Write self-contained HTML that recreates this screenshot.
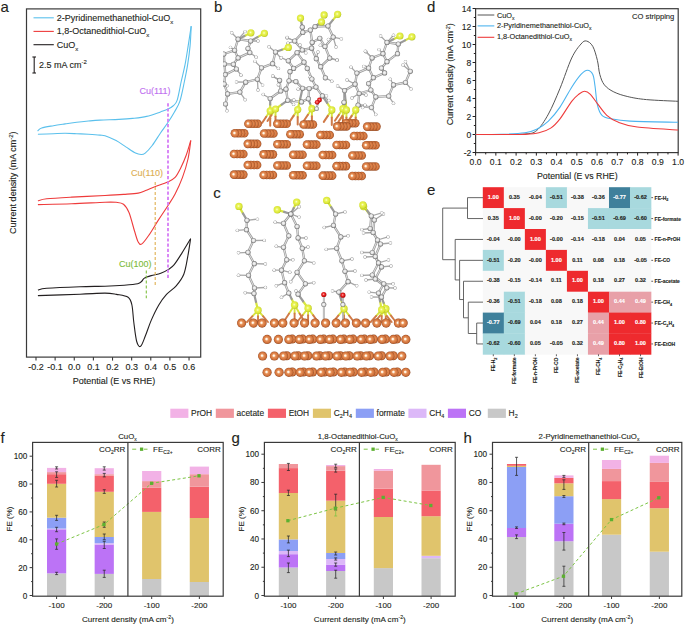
<!DOCTYPE html>
<html><head><meta charset="utf-8"><title>Figure</title>
<style>html,body{margin:0;padding:0;background:#fff;width:685px;height:624px;overflow:hidden}
svg{display:block}
text{font-family:"Liberation Sans", sans-serif}</style></head>
<body><svg width="685" height="624" viewBox="0 0 685 624">
<defs>
<radialGradient id="gCu" cx="0.5" cy="0.5" r="0.52" fx="0.42" fy="0.45">
  <stop offset="0" stop-color="#ffffff"/><stop offset="0.16" stop-color="#fff0dc"/><stop offset="0.38" stop-color="#e8935a"/><stop offset="0.78" stop-color="#cd6e38"/><stop offset="1" stop-color="#8a4520"/>
</radialGradient>
<radialGradient id="gS" cx="0.45" cy="0.45" r="0.6">
  <stop offset="0" stop-color="#fbffd8"/><stop offset="0.3" stop-color="#ebf55a"/><stop offset="0.75" stop-color="#d9e534"/><stop offset="1" stop-color="#a6b41c"/>
</radialGradient>
<radialGradient id="gC" cx="0.5" cy="0.5" r="0.5" fx="0.45" fy="0.45">
  <stop offset="0" stop-color="#f8f8f8"/><stop offset="0.5" stop-color="#e4e4e4"/><stop offset="0.75" stop-color="#a8a8a8"/><stop offset="1" stop-color="#6e6e6e"/>
</radialGradient>
<radialGradient id="gH" cx="0.5" cy="0.5" r="0.5" fx="0.45" fy="0.45">
  <stop offset="0" stop-color="#ffffff"/><stop offset="0.55" stop-color="#f6f6f6"/><stop offset="0.8" stop-color="#bcbcbc"/><stop offset="1" stop-color="#8a8a8a"/>
</radialGradient>
<radialGradient id="gO" cx="0.45" cy="0.45" r="0.6">
  <stop offset="0" stop-color="#ffb0b0"/><stop offset="0.4" stop-color="#f02828"/><stop offset="1" stop-color="#a00000"/>
</radialGradient>
</defs>
<rect width="685" height="624" fill="#fff"/>
<rect x="26.5" y="8.9" width="174.2" height="348.2" fill="none" stroke="#3a3a3a" stroke-width="1.2"/>
<line x1="36" y1="357.1" x2="36" y2="360.6" stroke="#3a3a3a" stroke-width="1.1" />
<text x="36" y="369.9" font-size="9" text-anchor="middle" fill="#231f20" font-weight="normal"  stroke="#231f20" stroke-width="0.12">-0.2</text>
<line x1="55.13" y1="357.1" x2="55.13" y2="360.6" stroke="#3a3a3a" stroke-width="1.1" />
<text x="55.13" y="369.9" font-size="9" text-anchor="middle" fill="#231f20" font-weight="normal"  stroke="#231f20" stroke-width="0.12">-0.1</text>
<line x1="74.26" y1="357.1" x2="74.26" y2="360.6" stroke="#3a3a3a" stroke-width="1.1" />
<text x="74.26" y="369.9" font-size="9" text-anchor="middle" fill="#231f20" font-weight="normal"  stroke="#231f20" stroke-width="0.12">0.0</text>
<line x1="93.39" y1="357.1" x2="93.39" y2="360.6" stroke="#3a3a3a" stroke-width="1.1" />
<text x="93.39" y="369.9" font-size="9" text-anchor="middle" fill="#231f20" font-weight="normal"  stroke="#231f20" stroke-width="0.12">0.1</text>
<line x1="112.52" y1="357.1" x2="112.52" y2="360.6" stroke="#3a3a3a" stroke-width="1.1" />
<text x="112.52" y="369.9" font-size="9" text-anchor="middle" fill="#231f20" font-weight="normal"  stroke="#231f20" stroke-width="0.12">0.2</text>
<line x1="131.65" y1="357.1" x2="131.65" y2="360.6" stroke="#3a3a3a" stroke-width="1.1" />
<text x="131.65" y="369.9" font-size="9" text-anchor="middle" fill="#231f20" font-weight="normal"  stroke="#231f20" stroke-width="0.12">0.3</text>
<line x1="150.78" y1="357.1" x2="150.78" y2="360.6" stroke="#3a3a3a" stroke-width="1.1" />
<text x="150.78" y="369.9" font-size="9" text-anchor="middle" fill="#231f20" font-weight="normal"  stroke="#231f20" stroke-width="0.12">0.4</text>
<line x1="169.91" y1="357.1" x2="169.91" y2="360.6" stroke="#3a3a3a" stroke-width="1.1" />
<text x="169.91" y="369.9" font-size="9" text-anchor="middle" fill="#231f20" font-weight="normal"  stroke="#231f20" stroke-width="0.12">0.5</text>
<line x1="189.04" y1="357.1" x2="189.04" y2="360.6" stroke="#3a3a3a" stroke-width="1.1" />
<text x="189.04" y="369.9" font-size="9" text-anchor="middle" fill="#231f20" font-weight="normal"  stroke="#231f20" stroke-width="0.12">0.6</text>
<text x="114" y="384" font-size="9" text-anchor="middle" fill="#231f20" font-weight="normal"  stroke="#231f20" stroke-width="0.12">Potential (E vs RHE)</text>
<text transform="translate(16.3,182.7) rotate(-90)" font-size="9" text-anchor="middle" fill="#231f20" stroke="#231f20" stroke-width="0.12">Current density (mA cm<tspan dy="-3" font-size="6">-2</tspan><tspan dy="3">)</tspan></text>
<line x1="33.5" y1="17.8" x2="53.8" y2="17.8" stroke="#5bc0ec" stroke-width="1.1" />
<line x1="33.5" y1="31.4" x2="53.8" y2="31.4" stroke="#ee3b3b" stroke-width="1.1" />
<line x1="33.5" y1="44.7" x2="53.8" y2="44.7" stroke="#231f20" stroke-width="1.1" />
<text x="56.8" y="20.9" font-size="9" fill="#231f20" stroke="#231f20" stroke-width="0.12">2-Pyridinemethanethiol-CuO<tspan dy="2.8" font-size="6">x</tspan></text>
<text x="56.8" y="34.2" font-size="9" fill="#231f20" stroke="#231f20" stroke-width="0.12">1,8-Octanedithiol-CuO<tspan dy="2.8" font-size="6">x</tspan></text>
<text x="56.8" y="47.7" font-size="9" fill="#231f20" stroke="#231f20" stroke-width="0.12">CuO<tspan dy="2.8" font-size="6">x</tspan></text>
<line x1="34.2" y1="57" x2="34.2" y2="73" stroke="#231f20" stroke-width="1.1" />
<line x1="32.4" y1="57" x2="36" y2="57" stroke="#231f20" stroke-width="1.1" />
<line x1="32.4" y1="73" x2="36" y2="73" stroke="#231f20" stroke-width="1.1" />
<text x="38.9" y="67.6" font-size="9" fill="#231f20" stroke="#231f20" stroke-width="0.12">2.5 mA cm<tspan dy="-3.3" font-size="6">-2</tspan></text>
<path d="M37.6,131 C38.28,130.5 39.07,128.88 41.7,128 C44.33,127.12 49.52,126.38 53.4,125.7 C57.28,125.02 61.12,124.48 65,123.9 C68.88,123.32 72.8,122.68 76.7,122.2 C80.6,121.72 84.52,121.35 88.4,121 C92.28,120.65 94.92,120.37 100,120.1 C105.08,119.83 113.45,119.68 118.9,119.4 C124.35,119.12 128.08,118.9 132.7,118.4 C137.32,117.9 141.97,117.48 146.6,116.4 C151.23,115.32 156.92,113.12 160.5,111.9 C164.08,110.68 166.02,110.08 168.1,109.1 C170.18,108.12 171.5,107.45 173,106 C174.5,104.55 175.73,104.48 177.1,100.4 C178.47,96.32 179.88,87.42 181.2,81.5 C182.52,75.58 183.83,70.88 185,64.9 C186.17,58.92 187.17,52.05 188.2,45.6 C189.23,39.15 190.7,29.43 191.2,26.2" fill="none" stroke="#5bc0ec" stroke-width="1.1" stroke-linejoin="round"/>
<path d="M191.2,26.2 C191.02,29.43 190.7,39.15 190.1,45.6 C189.5,52.05 188.55,58.92 187.6,64.9 C186.65,70.88 185.68,75.47 184.4,81.5 C183.12,87.53 181.58,95.98 179.9,101.1 C178.22,106.22 176.38,108.5 174.3,112.2 C172.22,115.9 169.7,119.83 167.4,123.3 C165.1,126.77 163.03,129.3 160.5,133 C157.97,136.7 154.75,142.15 152.2,145.5 C149.65,148.85 147.05,151.6 145.2,153.1 C143.35,154.6 142.72,154.5 141.1,154.5 C139.48,154.5 138.05,154.37 135.5,153.1 C132.95,151.83 129.03,148.98 125.8,146.9 C122.57,144.82 119.57,142.45 116.1,140.6 C112.63,138.75 107.68,136.72 105,135.8 C102.32,134.88 102.77,135.35 100,135.1 C97.23,134.85 92.28,134.53 88.4,134.3 C84.52,134.07 80.6,133.87 76.7,133.7 C72.8,133.53 68.88,133.3 65,133.3 C61.12,133.3 57.92,133.53 53.4,133.7 C48.88,133.87 40.48,134.2 37.9,134.3" fill="none" stroke="#5bc0ec" stroke-width="1.1" stroke-linejoin="round"/>
<path d="M37.9,200.8 C39.37,200.47 41.07,199.42 46.7,198.8 C52.33,198.18 61.98,197.65 71.7,197.1 C81.42,196.55 96.37,195.95 105,195.5 C113.63,195.05 117.97,194.8 123.5,194.4 C129.03,194 134.52,193.77 138.2,193.1 C141.88,192.43 142.83,191.47 145.6,190.4 C148.37,189.33 151.12,188.1 154.8,186.7 C158.48,185.3 164.32,183.55 167.7,182 C171.08,180.45 172.95,179.7 175.1,177.4 C177.25,175.1 178.75,171.88 180.6,168.2 C182.45,164.52 184.5,159.92 186.2,155.3 C187.9,150.68 190.03,142.97 190.8,140.5" fill="none" stroke="#ee3b3b" stroke-width="1.1" stroke-linejoin="round"/>
<path d="M190.8,140.5 C190.33,143.58 189.38,152.85 188,159 C186.62,165.15 184.65,171.57 182.5,177.4 C180.35,183.23 177.57,189.23 175.1,194 C172.63,198.77 170.47,201.68 167.7,206 C164.93,210.32 161.57,215.13 158.5,219.9 C155.43,224.67 152.07,230.6 149.3,234.6 C146.53,238.6 143.75,242.67 141.9,243.9 C140.05,245.13 139.43,244.15 138.2,242 C136.97,239.85 136.03,235.92 134.5,231 C132.97,226.08 130.83,216.97 129,212.5 C127.17,208.03 125.65,205.9 123.5,204.2 C121.35,202.5 119.18,202.63 116.1,202.3 C113.02,201.97 112.4,201.95 105,202.2 C97.6,202.45 82.88,203.4 71.7,203.8 C60.52,204.2 43.53,204.47 37.9,204.6" fill="none" stroke="#ee3b3b" stroke-width="1.1" stroke-linejoin="round"/>
<path d="M37.9,290 C39.37,289.72 39.68,288.85 46.7,288.3 C53.72,287.75 70.28,287.05 80,286.7 C89.72,286.35 97.63,286.45 105,286.2 C112.37,285.95 118.75,285.6 124.2,285.2 C129.65,284.8 134.82,284.42 137.7,283.8 C140.58,283.18 140.38,282.45 141.5,281.5 C142.62,280.55 142.78,279.08 144.4,278.1 C146.02,277.12 148.47,276.4 151.2,275.6 C153.93,274.8 157.92,274.33 160.8,273.3 C163.68,272.27 166.27,270.85 168.5,269.4 C170.73,267.95 171.97,267.32 174.2,264.6 C176.43,261.88 179.17,257.42 181.9,253.1 C184.63,248.78 189.15,241.1 190.6,238.7" fill="none" stroke="#231f20" stroke-width="1.1" stroke-linejoin="round"/>
<path d="M190.6,238.7 C190.12,241.73 188.83,250.98 187.7,256.9 C186.57,262.82 185.72,269.38 183.8,274.2 C181.88,279.02 179.08,282.43 176.2,285.8 C173.32,289.17 169.4,291.2 166.5,294.4 C163.6,297.6 161.35,300.67 158.8,305 C156.25,309.33 153.43,315.27 151.2,320.4 C148.97,325.53 147.17,331.48 145.4,335.8 C143.63,340.12 142.05,345.35 140.6,346.3 C139.15,347.25 137.83,345.5 136.7,341.5 C135.57,337.5 134.6,328.38 133.8,322.3 C133,316.22 132.85,309.17 131.9,305 C130.95,300.83 130.67,299.07 128.1,297.3 C125.53,295.53 120.35,295.1 116.5,294.4 C112.65,293.7 111.08,293.13 105,293.1 C98.92,293.07 91.18,293.78 80,294.2 C68.82,294.62 44.92,295.37 37.9,295.6" fill="none" stroke="#231f20" stroke-width="1.1" stroke-linejoin="round"/>
<line x1="168" y1="103.2" x2="168" y2="279.6" stroke="#d57cf5" stroke-width="1.8" stroke-dasharray="3.2,2"/>
<line x1="155.2" y1="182" x2="155.2" y2="285.8" stroke="#e0b050" stroke-width="1.1" stroke-dasharray="3,2"/>
<line x1="146.3" y1="270.4" x2="146.3" y2="298.3" stroke="#80c040" stroke-width="1.1" stroke-dasharray="3,2"/>
<text x="155" y="93.5" font-size="9" text-anchor="middle" fill="#c070f0" font-weight="normal"  stroke="#c070f0" stroke-width="0.12">Cu(111)</text>
<text x="147" y="176" font-size="9" text-anchor="middle" fill="#dcae52" font-weight="normal"  stroke="#dcae52" stroke-width="0.12">Cu(110)</text>
<text x="135.2" y="266.5" font-size="9" text-anchor="middle" fill="#7cbb3c" font-weight="normal"  stroke="#7cbb3c" stroke-width="0.12">Cu(100)</text>
<text x="0.6" y="12.3" font-size="15" text-anchor="start" fill="#231f20" font-weight="normal"  stroke="#231f20" stroke-width="0.12">a</text>
<clipPath id="clipB"><rect x="223" y="0" width="200" height="181"/></clipPath>
<g clip-path="url(#clipB)">
<line x1="270.2" y1="110.8" x2="266.2" y2="116.8" stroke="#d8e640" stroke-width="2" stroke-linecap="round"/><line x1="266.2" y1="116.8" x2="262.2" y2="122.8" stroke="#d07a48" stroke-width="2" stroke-linecap="round"/>
<line x1="270.2" y1="110.8" x2="270.2" y2="118.3" stroke="#d8e640" stroke-width="2" stroke-linecap="round"/><line x1="270.2" y1="118.3" x2="270.2" y2="125.8" stroke="#d07a48" stroke-width="2" stroke-linecap="round"/>
<line x1="275.5" y1="109" x2="271.5" y2="115" stroke="#d8e640" stroke-width="2" stroke-linecap="round"/><line x1="271.5" y1="115" x2="267.5" y2="121" stroke="#d07a48" stroke-width="2" stroke-linecap="round"/>
<line x1="275.5" y1="109" x2="275.5" y2="116.5" stroke="#d8e640" stroke-width="2" stroke-linecap="round"/><line x1="275.5" y1="116.5" x2="275.5" y2="124" stroke="#d07a48" stroke-width="2" stroke-linecap="round"/>
<line x1="297.7" y1="109.6" x2="293.7" y2="115.6" stroke="#d8e640" stroke-width="2" stroke-linecap="round"/><line x1="293.7" y1="115.6" x2="289.7" y2="121.6" stroke="#d07a48" stroke-width="2" stroke-linecap="round"/>
<line x1="297.7" y1="109.6" x2="297.7" y2="117.1" stroke="#d8e640" stroke-width="2" stroke-linecap="round"/><line x1="297.7" y1="117.1" x2="297.7" y2="124.6" stroke="#d07a48" stroke-width="2" stroke-linecap="round"/>
<line x1="311.9" y1="108.7" x2="307.9" y2="114.7" stroke="#d8e640" stroke-width="2" stroke-linecap="round"/><line x1="307.9" y1="114.7" x2="303.9" y2="120.7" stroke="#d07a48" stroke-width="2" stroke-linecap="round"/>
<line x1="311.9" y1="108.7" x2="311.9" y2="116.2" stroke="#d8e640" stroke-width="2" stroke-linecap="round"/><line x1="311.9" y1="116.2" x2="311.9" y2="123.7" stroke="#d07a48" stroke-width="2" stroke-linecap="round"/>
<line x1="331.8" y1="109.9" x2="327.8" y2="115.9" stroke="#d8e640" stroke-width="2" stroke-linecap="round"/><line x1="327.8" y1="115.9" x2="323.8" y2="121.9" stroke="#d07a48" stroke-width="2" stroke-linecap="round"/>
<line x1="331.8" y1="109.9" x2="331.8" y2="117.4" stroke="#d8e640" stroke-width="2" stroke-linecap="round"/><line x1="331.8" y1="117.4" x2="331.8" y2="124.9" stroke="#d07a48" stroke-width="2" stroke-linecap="round"/>
<line x1="342.9" y1="108.7" x2="338.9" y2="114.7" stroke="#d8e640" stroke-width="2" stroke-linecap="round"/><line x1="338.9" y1="114.7" x2="334.9" y2="120.7" stroke="#d07a48" stroke-width="2" stroke-linecap="round"/>
<line x1="342.9" y1="108.7" x2="342.9" y2="116.2" stroke="#d8e640" stroke-width="2" stroke-linecap="round"/><line x1="342.9" y1="116.2" x2="342.9" y2="123.7" stroke="#d07a48" stroke-width="2" stroke-linecap="round"/>
<line x1="346.4" y1="109.9" x2="342.4" y2="115.9" stroke="#d8e640" stroke-width="2" stroke-linecap="round"/><line x1="342.4" y1="115.9" x2="338.4" y2="121.9" stroke="#d07a48" stroke-width="2" stroke-linecap="round"/>
<line x1="346.4" y1="109.9" x2="346.4" y2="117.4" stroke="#d8e640" stroke-width="2" stroke-linecap="round"/><line x1="346.4" y1="117.4" x2="346.4" y2="124.9" stroke="#d07a48" stroke-width="2" stroke-linecap="round"/>
<line x1="355.7" y1="109.9" x2="351.7" y2="115.9" stroke="#d8e640" stroke-width="2" stroke-linecap="round"/><line x1="351.7" y1="115.9" x2="347.7" y2="121.9" stroke="#d07a48" stroke-width="2" stroke-linecap="round"/>
<line x1="355.7" y1="109.9" x2="355.7" y2="117.4" stroke="#d8e640" stroke-width="2" stroke-linecap="round"/><line x1="355.7" y1="117.4" x2="355.7" y2="124.9" stroke="#d07a48" stroke-width="2" stroke-linecap="round"/>
<circle cx="257.7" cy="123.8" r="4.3" fill="url(#gCu)"/>
<circle cx="254.6" cy="123.8" r="4.3" fill="url(#gCu)"/>
<circle cx="251.5" cy="123.8" r="4.3" fill="url(#gCu)"/>
<circle cx="248.4" cy="123.8" r="4.3" fill="url(#gCu)"/>
<circle cx="286.6" cy="123.8" r="4.3" fill="url(#gCu)"/>
<circle cx="283.5" cy="123.8" r="4.3" fill="url(#gCu)"/>
<circle cx="280.4" cy="123.8" r="4.3" fill="url(#gCu)"/>
<circle cx="277.3" cy="123.8" r="4.3" fill="url(#gCu)"/>
<circle cx="312.9" cy="124.5" r="4.3" fill="url(#gCu)"/>
<circle cx="309.8" cy="124.5" r="4.3" fill="url(#gCu)"/>
<circle cx="306.7" cy="124.5" r="4.3" fill="url(#gCu)"/>
<circle cx="303.6" cy="124.5" r="4.3" fill="url(#gCu)"/>
<circle cx="355.3" cy="123.2" r="4.3" fill="url(#gCu)"/>
<circle cx="352.2" cy="123.2" r="4.3" fill="url(#gCu)"/>
<circle cx="349.1" cy="123.2" r="4.3" fill="url(#gCu)"/>
<circle cx="346" cy="123.2" r="4.3" fill="url(#gCu)"/>
<circle cx="346.5" cy="126.4" r="4.3" fill="url(#gCu)"/>
<circle cx="343.4" cy="126.4" r="4.3" fill="url(#gCu)"/>
<circle cx="340.3" cy="126.4" r="4.3" fill="url(#gCu)"/>
<circle cx="337.2" cy="126.4" r="4.3" fill="url(#gCu)"/>
<circle cx="376.5" cy="126.6" r="4.3" fill="url(#gCu)"/>
<circle cx="373.4" cy="126.6" r="4.3" fill="url(#gCu)"/>
<circle cx="370.3" cy="126.6" r="4.3" fill="url(#gCu)"/>
<circle cx="367.2" cy="126.6" r="4.3" fill="url(#gCu)"/>
<circle cx="244.2" cy="133.3" r="4.3" fill="url(#gCu)"/>
<circle cx="241.1" cy="133.3" r="4.3" fill="url(#gCu)"/>
<circle cx="238" cy="133.3" r="4.3" fill="url(#gCu)"/>
<circle cx="234.9" cy="133.3" r="4.3" fill="url(#gCu)"/>
<circle cx="273.4" cy="133.5" r="4.3" fill="url(#gCu)"/>
<circle cx="270.3" cy="133.5" r="4.3" fill="url(#gCu)"/>
<circle cx="267.2" cy="133.5" r="4.3" fill="url(#gCu)"/>
<circle cx="264.1" cy="133.5" r="4.3" fill="url(#gCu)"/>
<circle cx="299.7" cy="134.2" r="4.3" fill="url(#gCu)"/>
<circle cx="296.6" cy="134.2" r="4.3" fill="url(#gCu)"/>
<circle cx="293.5" cy="134.2" r="4.3" fill="url(#gCu)"/>
<circle cx="290.4" cy="134.2" r="4.3" fill="url(#gCu)"/>
<circle cx="329.7" cy="135" r="4.3" fill="url(#gCu)"/>
<circle cx="326.6" cy="135" r="4.3" fill="url(#gCu)"/>
<circle cx="323.5" cy="135" r="4.3" fill="url(#gCu)"/>
<circle cx="320.4" cy="135" r="4.3" fill="url(#gCu)"/>
<circle cx="363.3" cy="136" r="4.3" fill="url(#gCu)"/>
<circle cx="360.2" cy="136" r="4.3" fill="url(#gCu)"/>
<circle cx="357.1" cy="136" r="4.3" fill="url(#gCu)"/>
<circle cx="354" cy="136" r="4.3" fill="url(#gCu)"/>
<circle cx="257.1" cy="143.87" r="4.3" fill="url(#gCu)"/>
<circle cx="254" cy="143.87" r="4.3" fill="url(#gCu)"/>
<circle cx="250.9" cy="143.87" r="4.3" fill="url(#gCu)"/>
<circle cx="247.8" cy="143.87" r="4.3" fill="url(#gCu)"/>
<circle cx="257.1" cy="165.07" r="4.3" fill="url(#gCu)"/>
<circle cx="254" cy="165.07" r="4.3" fill="url(#gCu)"/>
<circle cx="250.9" cy="165.07" r="4.3" fill="url(#gCu)"/>
<circle cx="247.8" cy="165.07" r="4.3" fill="url(#gCu)"/>
<circle cx="286.7" cy="144.23" r="4.3" fill="url(#gCu)"/>
<circle cx="283.6" cy="144.23" r="4.3" fill="url(#gCu)"/>
<circle cx="280.5" cy="144.23" r="4.3" fill="url(#gCu)"/>
<circle cx="277.4" cy="144.23" r="4.3" fill="url(#gCu)"/>
<circle cx="286.7" cy="165.43" r="4.3" fill="url(#gCu)"/>
<circle cx="283.6" cy="165.43" r="4.3" fill="url(#gCu)"/>
<circle cx="280.5" cy="165.43" r="4.3" fill="url(#gCu)"/>
<circle cx="277.4" cy="165.43" r="4.3" fill="url(#gCu)"/>
<circle cx="316.3" cy="144.58" r="4.3" fill="url(#gCu)"/>
<circle cx="313.2" cy="144.58" r="4.3" fill="url(#gCu)"/>
<circle cx="310.1" cy="144.58" r="4.3" fill="url(#gCu)"/>
<circle cx="307" cy="144.58" r="4.3" fill="url(#gCu)"/>
<circle cx="316.3" cy="165.78" r="4.3" fill="url(#gCu)"/>
<circle cx="313.2" cy="165.78" r="4.3" fill="url(#gCu)"/>
<circle cx="310.1" cy="165.78" r="4.3" fill="url(#gCu)"/>
<circle cx="307" cy="165.78" r="4.3" fill="url(#gCu)"/>
<circle cx="345.9" cy="144.94" r="4.3" fill="url(#gCu)"/>
<circle cx="342.8" cy="144.94" r="4.3" fill="url(#gCu)"/>
<circle cx="339.7" cy="144.94" r="4.3" fill="url(#gCu)"/>
<circle cx="336.6" cy="144.94" r="4.3" fill="url(#gCu)"/>
<circle cx="345.9" cy="166.14" r="4.3" fill="url(#gCu)"/>
<circle cx="342.8" cy="166.14" r="4.3" fill="url(#gCu)"/>
<circle cx="339.7" cy="166.14" r="4.3" fill="url(#gCu)"/>
<circle cx="336.6" cy="166.14" r="4.3" fill="url(#gCu)"/>
<circle cx="375.5" cy="145.29" r="4.3" fill="url(#gCu)"/>
<circle cx="372.4" cy="145.29" r="4.3" fill="url(#gCu)"/>
<circle cx="369.3" cy="145.29" r="4.3" fill="url(#gCu)"/>
<circle cx="366.2" cy="145.29" r="4.3" fill="url(#gCu)"/>
<circle cx="375.5" cy="166.49" r="4.3" fill="url(#gCu)"/>
<circle cx="372.4" cy="166.49" r="4.3" fill="url(#gCu)"/>
<circle cx="369.3" cy="166.49" r="4.3" fill="url(#gCu)"/>
<circle cx="366.2" cy="166.49" r="4.3" fill="url(#gCu)"/>
<circle cx="243.3" cy="154.01" r="4.3" fill="url(#gCu)"/>
<circle cx="240.2" cy="154.01" r="4.3" fill="url(#gCu)"/>
<circle cx="237.1" cy="154.01" r="4.3" fill="url(#gCu)"/>
<circle cx="234" cy="154.01" r="4.3" fill="url(#gCu)"/>
<circle cx="243.3" cy="174.61" r="4.3" fill="url(#gCu)"/>
<circle cx="240.2" cy="174.61" r="4.3" fill="url(#gCu)"/>
<circle cx="237.1" cy="174.61" r="4.3" fill="url(#gCu)"/>
<circle cx="234" cy="174.61" r="4.3" fill="url(#gCu)"/>
<circle cx="272.9" cy="154.36" r="4.3" fill="url(#gCu)"/>
<circle cx="269.8" cy="154.36" r="4.3" fill="url(#gCu)"/>
<circle cx="266.7" cy="154.36" r="4.3" fill="url(#gCu)"/>
<circle cx="263.6" cy="154.36" r="4.3" fill="url(#gCu)"/>
<circle cx="272.9" cy="174.96" r="4.3" fill="url(#gCu)"/>
<circle cx="269.8" cy="174.96" r="4.3" fill="url(#gCu)"/>
<circle cx="266.7" cy="174.96" r="4.3" fill="url(#gCu)"/>
<circle cx="263.6" cy="174.96" r="4.3" fill="url(#gCu)"/>
<circle cx="302.5" cy="154.72" r="4.3" fill="url(#gCu)"/>
<circle cx="299.4" cy="154.72" r="4.3" fill="url(#gCu)"/>
<circle cx="296.3" cy="154.72" r="4.3" fill="url(#gCu)"/>
<circle cx="293.2" cy="154.72" r="4.3" fill="url(#gCu)"/>
<circle cx="302.5" cy="175.32" r="4.3" fill="url(#gCu)"/>
<circle cx="299.4" cy="175.32" r="4.3" fill="url(#gCu)"/>
<circle cx="296.3" cy="175.32" r="4.3" fill="url(#gCu)"/>
<circle cx="293.2" cy="175.32" r="4.3" fill="url(#gCu)"/>
<circle cx="332.1" cy="155.07" r="4.3" fill="url(#gCu)"/>
<circle cx="329" cy="155.07" r="4.3" fill="url(#gCu)"/>
<circle cx="325.9" cy="155.07" r="4.3" fill="url(#gCu)"/>
<circle cx="322.8" cy="155.07" r="4.3" fill="url(#gCu)"/>
<circle cx="332.1" cy="175.67" r="4.3" fill="url(#gCu)"/>
<circle cx="329" cy="175.67" r="4.3" fill="url(#gCu)"/>
<circle cx="325.9" cy="175.67" r="4.3" fill="url(#gCu)"/>
<circle cx="322.8" cy="175.67" r="4.3" fill="url(#gCu)"/>
<circle cx="361.7" cy="155.43" r="4.3" fill="url(#gCu)"/>
<circle cx="358.6" cy="155.43" r="4.3" fill="url(#gCu)"/>
<circle cx="355.5" cy="155.43" r="4.3" fill="url(#gCu)"/>
<circle cx="352.4" cy="155.43" r="4.3" fill="url(#gCu)"/>
<circle cx="361.7" cy="176.03" r="4.3" fill="url(#gCu)"/>
<circle cx="358.6" cy="176.03" r="4.3" fill="url(#gCu)"/>
<circle cx="355.5" cy="176.03" r="4.3" fill="url(#gCu)"/>
<circle cx="352.4" cy="176.03" r="4.3" fill="url(#gCu)"/>
<line x1="248" y1="48.5" x2="249.8" y2="52.6" stroke="#9a9a9a" stroke-width="2.3" stroke-linecap="round"/><line x1="248" y1="48.5" x2="249.8" y2="52.6" stroke="#e2e2e2" stroke-width="0.97" stroke-linecap="round"/>
<line x1="293.6" y1="68.4" x2="290" y2="71.7" stroke="#9a9a9a" stroke-width="2.3" stroke-linecap="round"/><line x1="293.6" y1="68.4" x2="290" y2="71.7" stroke="#e2e2e2" stroke-width="0.97" stroke-linecap="round"/>
<line x1="302.3" y1="27.2" x2="302.8" y2="32.4" stroke="#9a9a9a" stroke-width="2.3" stroke-linecap="round"/><line x1="302.3" y1="27.2" x2="302.8" y2="32.4" stroke="#e2e2e2" stroke-width="0.97" stroke-linecap="round"/>
<line x1="233.4" y1="64.3" x2="236.4" y2="69" stroke="#9a9a9a" stroke-width="2.3" stroke-linecap="round"/><line x1="233.4" y1="64.3" x2="236.4" y2="69" stroke="#e2e2e2" stroke-width="0.97" stroke-linecap="round"/>
<line x1="280.7" y1="91" x2="286" y2="89.2" stroke="#9a9a9a" stroke-width="2.3" stroke-linecap="round"/><line x1="280.7" y1="91" x2="286" y2="89.2" stroke="#e2e2e2" stroke-width="0.97" stroke-linecap="round"/>
<line x1="381.4" y1="68.1" x2="384.6" y2="72.9" stroke="#9a9a9a" stroke-width="2.3" stroke-linecap="round"/><line x1="381.4" y1="68.1" x2="384.6" y2="72.9" stroke="#e2e2e2" stroke-width="0.97" stroke-linecap="round"/>
<line x1="297.1" y1="52.6" x2="302.3" y2="50" stroke="#9a9a9a" stroke-width="2.3" stroke-linecap="round"/><line x1="297.1" y1="52.6" x2="302.3" y2="50" stroke="#e2e2e2" stroke-width="0.97" stroke-linecap="round"/>
<line x1="312.2" y1="42.4" x2="311.6" y2="48.2" stroke="#9a9a9a" stroke-width="2.3" stroke-linecap="round"/><line x1="312.2" y1="42.4" x2="311.6" y2="48.2" stroke="#e2e2e2" stroke-width="0.97" stroke-linecap="round"/>
<line x1="310.4" y1="30.1" x2="315.1" y2="26.6" stroke="#9a9a9a" stroke-width="2.3" stroke-linecap="round"/><line x1="310.4" y1="30.1" x2="315.1" y2="26.6" stroke="#e2e2e2" stroke-width="0.97" stroke-linecap="round"/>
<line x1="302.6" y1="88.3" x2="309.2" y2="88.5" stroke="#9a9a9a" stroke-width="2.3" stroke-linecap="round"/><line x1="302.6" y1="88.3" x2="309.2" y2="88.5" stroke="#e2e2e2" stroke-width="0.97" stroke-linecap="round"/>
<line x1="368.6" y1="83.6" x2="370.9" y2="90" stroke="#9a9a9a" stroke-width="2.3" stroke-linecap="round"/><line x1="368.6" y1="83.6" x2="370.9" y2="90" stroke="#e2e2e2" stroke-width="0.97" stroke-linecap="round"/>
<line x1="316" y1="87.1" x2="309.2" y2="88.5" stroke="#9a9a9a" stroke-width="2.3" stroke-linecap="round"/><line x1="316" y1="87.1" x2="309.2" y2="88.5" stroke="#e2e2e2" stroke-width="0.97" stroke-linecap="round"/>
<line x1="295.9" y1="81.6" x2="289" y2="80.8" stroke="#9a9a9a" stroke-width="2.3" stroke-linecap="round"/><line x1="295.9" y1="81.6" x2="289" y2="80.8" stroke="#e2e2e2" stroke-width="0.97" stroke-linecap="round"/>
<line x1="304" y1="62.2" x2="307.3" y2="68.4" stroke="#9a9a9a" stroke-width="2.3" stroke-linecap="round"/><line x1="304" y1="62.2" x2="307.3" y2="68.4" stroke="#e2e2e2" stroke-width="0.97" stroke-linecap="round"/>
<line x1="308.4" y1="98.8" x2="301.5" y2="101.9" stroke="#9a9a9a" stroke-width="2.3" stroke-linecap="round"/><line x1="308.4" y1="98.8" x2="301.5" y2="101.9" stroke="#e2e2e2" stroke-width="0.97" stroke-linecap="round"/>
<line x1="368.6" y1="83.6" x2="373.4" y2="77.7" stroke="#9a9a9a" stroke-width="2.3" stroke-linecap="round"/><line x1="368.6" y1="83.6" x2="373.4" y2="77.7" stroke="#e2e2e2" stroke-width="0.97" stroke-linecap="round"/>
<line x1="250.6" y1="41" x2="248" y2="48.5" stroke="#9a9a9a" stroke-width="2.3" stroke-linecap="round"/><line x1="250.6" y1="41" x2="248" y2="48.5" stroke="#e2e2e2" stroke-width="0.97" stroke-linecap="round"/>
<line x1="310.4" y1="30.1" x2="302.8" y2="32.4" stroke="#9a9a9a" stroke-width="2.3" stroke-linecap="round"/><line x1="310.4" y1="30.1" x2="302.8" y2="32.4" stroke="#e2e2e2" stroke-width="0.97" stroke-linecap="round"/>
<line x1="238.1" y1="57.9" x2="233.4" y2="64.3" stroke="#9a9a9a" stroke-width="2.3" stroke-linecap="round"/><line x1="238.1" y1="57.9" x2="233.4" y2="64.3" stroke="#e2e2e2" stroke-width="0.97" stroke-linecap="round"/>
<line x1="234.6" y1="50.3" x2="238.1" y2="57.9" stroke="#9a9a9a" stroke-width="2.3" stroke-linecap="round"/><line x1="234.6" y1="50.3" x2="238.1" y2="57.9" stroke="#e2e2e2" stroke-width="0.97" stroke-linecap="round"/>
<line x1="370.9" y1="90" x2="375.8" y2="96.9" stroke="#9a9a9a" stroke-width="2.3" stroke-linecap="round"/><line x1="370.9" y1="90" x2="375.8" y2="96.9" stroke="#e2e2e2" stroke-width="0.97" stroke-linecap="round"/>
<line x1="387" y1="61.7" x2="381.4" y2="68.1" stroke="#9a9a9a" stroke-width="2.3" stroke-linecap="round"/><line x1="387" y1="61.7" x2="381.4" y2="68.1" stroke="#e2e2e2" stroke-width="0.97" stroke-linecap="round"/>
<line x1="319.8" y1="38.3" x2="312.2" y2="42.4" stroke="#9a9a9a" stroke-width="2.3" stroke-linecap="round"/><line x1="319.8" y1="38.3" x2="312.2" y2="42.4" stroke="#e2e2e2" stroke-width="0.97" stroke-linecap="round"/>
<line x1="233.4" y1="64.3" x2="224.5" y2="64" stroke="#9a9a9a" stroke-width="2.3" stroke-linecap="round"/><line x1="233.4" y1="64.3" x2="224.5" y2="64" stroke="#e2e2e2" stroke-width="0.97" stroke-linecap="round"/>
<line x1="286" y1="89.2" x2="289" y2="80.8" stroke="#9a9a9a" stroke-width="2.3" stroke-linecap="round"/><line x1="286" y1="89.2" x2="289" y2="80.8" stroke="#e2e2e2" stroke-width="0.97" stroke-linecap="round"/>
<line x1="383" y1="53.7" x2="387" y2="61.7" stroke="#9a9a9a" stroke-width="2.3" stroke-linecap="round"/><line x1="383" y1="53.7" x2="387" y2="61.7" stroke="#e2e2e2" stroke-width="0.97" stroke-linecap="round"/>
<line x1="311.9" y1="79" x2="316" y2="87.1" stroke="#9a9a9a" stroke-width="2.3" stroke-linecap="round"/><line x1="311.9" y1="79" x2="316" y2="87.1" stroke="#e2e2e2" stroke-width="0.97" stroke-linecap="round"/>
<line x1="316.3" y1="58.7" x2="320.7" y2="66.7" stroke="#9a9a9a" stroke-width="2.3" stroke-linecap="round"/><line x1="316.3" y1="58.7" x2="320.7" y2="66.7" stroke="#e2e2e2" stroke-width="0.97" stroke-linecap="round"/>
<line x1="290" y1="71.7" x2="289" y2="80.8" stroke="#9a9a9a" stroke-width="2.3" stroke-linecap="round"/><line x1="290" y1="71.7" x2="289" y2="80.8" stroke="#e2e2e2" stroke-width="0.97" stroke-linecap="round"/>
<line x1="288.3" y1="60.8" x2="293.6" y2="68.4" stroke="#9a9a9a" stroke-width="2.3" stroke-linecap="round"/><line x1="288.3" y1="60.8" x2="293.6" y2="68.4" stroke="#e2e2e2" stroke-width="0.97" stroke-linecap="round"/>
<line x1="225.3" y1="74.6" x2="224.2" y2="84" stroke="#9a9a9a" stroke-width="2.3" stroke-linecap="round"/><line x1="225.3" y1="74.6" x2="224.2" y2="84" stroke="#e2e2e2" stroke-width="0.97" stroke-linecap="round"/>
<line x1="311.6" y1="48.2" x2="302.3" y2="50" stroke="#9a9a9a" stroke-width="2.3" stroke-linecap="round"/><line x1="311.6" y1="48.2" x2="302.3" y2="50" stroke="#e2e2e2" stroke-width="0.97" stroke-linecap="round"/>
<line x1="295.9" y1="81.6" x2="302.6" y2="88.3" stroke="#9a9a9a" stroke-width="2.3" stroke-linecap="round"/><line x1="295.9" y1="81.6" x2="302.6" y2="88.3" stroke="#e2e2e2" stroke-width="0.97" stroke-linecap="round"/>
<line x1="319.8" y1="38.3" x2="325" y2="46.5" stroke="#9a9a9a" stroke-width="2.3" stroke-linecap="round"/><line x1="319.8" y1="38.3" x2="325" y2="46.5" stroke="#e2e2e2" stroke-width="0.97" stroke-linecap="round"/>
<line x1="398.3" y1="44" x2="397.5" y2="53.7" stroke="#9a9a9a" stroke-width="2.3" stroke-linecap="round"/><line x1="398.3" y1="44" x2="397.5" y2="53.7" stroke="#e2e2e2" stroke-width="0.97" stroke-linecap="round"/>
<line x1="223.8" y1="54" x2="224.5" y2="64" stroke="#9a9a9a" stroke-width="2.3" stroke-linecap="round"/><line x1="223.8" y1="54" x2="224.5" y2="64" stroke="#e2e2e2" stroke-width="0.97" stroke-linecap="round"/>
<line x1="355.1" y1="84.2" x2="359.2" y2="93.5" stroke="#9a9a9a" stroke-width="2.3" stroke-linecap="round"/><line x1="355.1" y1="84.2" x2="359.2" y2="93.5" stroke="#e2e2e2" stroke-width="0.97" stroke-linecap="round"/>
<line x1="227.6" y1="93.9" x2="225.5" y2="104" stroke="#9a9a9a" stroke-width="2.3" stroke-linecap="round"/><line x1="227.6" y1="93.9" x2="225.5" y2="104" stroke="#e2e2e2" stroke-width="0.97" stroke-linecap="round"/>
<line x1="308.4" y1="98.8" x2="309.2" y2="88.5" stroke="#9a9a9a" stroke-width="2.3" stroke-linecap="round"/><line x1="308.4" y1="98.8" x2="309.2" y2="88.5" stroke="#e2e2e2" stroke-width="0.97" stroke-linecap="round"/>
<line x1="227.6" y1="93.9" x2="224.2" y2="84" stroke="#9a9a9a" stroke-width="2.3" stroke-linecap="round"/><line x1="227.6" y1="93.9" x2="224.2" y2="84" stroke="#e2e2e2" stroke-width="0.97" stroke-linecap="round"/>
<line x1="225.3" y1="74.6" x2="224.5" y2="64" stroke="#9a9a9a" stroke-width="2.3" stroke-linecap="round"/><line x1="225.3" y1="74.6" x2="224.5" y2="64" stroke="#e2e2e2" stroke-width="0.97" stroke-linecap="round"/>
<line x1="279.6" y1="80.4" x2="280.7" y2="91" stroke="#9a9a9a" stroke-width="2.3" stroke-linecap="round"/><line x1="279.6" y1="80.4" x2="280.7" y2="91" stroke="#e2e2e2" stroke-width="0.97" stroke-linecap="round"/>
<line x1="368.6" y1="68.1" x2="373.4" y2="77.7" stroke="#9a9a9a" stroke-width="2.3" stroke-linecap="round"/><line x1="368.6" y1="68.1" x2="373.4" y2="77.7" stroke="#e2e2e2" stroke-width="0.97" stroke-linecap="round"/>
<line x1="372.1" y1="57.9" x2="368.6" y2="68.1" stroke="#9a9a9a" stroke-width="2.3" stroke-linecap="round"/><line x1="372.1" y1="57.9" x2="368.6" y2="68.1" stroke="#e2e2e2" stroke-width="0.97" stroke-linecap="round"/>
<line x1="316" y1="87.1" x2="322.4" y2="95.9" stroke="#9a9a9a" stroke-width="2.3" stroke-linecap="round"/><line x1="316" y1="87.1" x2="322.4" y2="95.9" stroke="#e2e2e2" stroke-width="0.97" stroke-linecap="round"/>
<line x1="286" y1="89.2" x2="287.7" y2="100.3" stroke="#9a9a9a" stroke-width="2.3" stroke-linecap="round"/><line x1="286" y1="89.2" x2="287.7" y2="100.3" stroke="#e2e2e2" stroke-width="0.97" stroke-linecap="round"/>
<line x1="356.9" y1="73.1" x2="355.1" y2="84.2" stroke="#9a9a9a" stroke-width="2.3" stroke-linecap="round"/><line x1="356.9" y1="73.1" x2="355.1" y2="84.2" stroke="#e2e2e2" stroke-width="0.97" stroke-linecap="round"/>
<line x1="387" y1="42.4" x2="398.3" y2="44" stroke="#9a9a9a" stroke-width="2.3" stroke-linecap="round"/><line x1="387" y1="42.4" x2="398.3" y2="44" stroke="#e2e2e2" stroke-width="0.97" stroke-linecap="round"/>
<line x1="234.6" y1="50.3" x2="223.8" y2="54" stroke="#9a9a9a" stroke-width="2.3" stroke-linecap="round"/><line x1="234.6" y1="50.3" x2="223.8" y2="54" stroke="#e2e2e2" stroke-width="0.97" stroke-linecap="round"/>
<line x1="245.7" y1="82.2" x2="239.9" y2="92.1" stroke="#9a9a9a" stroke-width="2.3" stroke-linecap="round"/><line x1="245.7" y1="82.2" x2="239.9" y2="92.1" stroke="#e2e2e2" stroke-width="0.97" stroke-linecap="round"/>
<line x1="311.6" y1="48.2" x2="316.3" y2="58.7" stroke="#9a9a9a" stroke-width="2.3" stroke-linecap="round"/><line x1="311.6" y1="48.2" x2="316.3" y2="58.7" stroke="#e2e2e2" stroke-width="0.97" stroke-linecap="round"/>
<line x1="371.5" y1="107.6" x2="375.8" y2="96.9" stroke="#9a9a9a" stroke-width="2.3" stroke-linecap="round"/><line x1="371.5" y1="107.6" x2="375.8" y2="96.9" stroke="#e2e2e2" stroke-width="0.97" stroke-linecap="round"/>
<line x1="307.3" y1="68.4" x2="311.9" y2="79" stroke="#9a9a9a" stroke-width="2.3" stroke-linecap="round"/><line x1="307.3" y1="68.4" x2="311.9" y2="79" stroke="#e2e2e2" stroke-width="0.97" stroke-linecap="round"/>
<line x1="238.1" y1="39.2" x2="234.6" y2="50.3" stroke="#9a9a9a" stroke-width="2.3" stroke-linecap="round"/><line x1="238.1" y1="39.2" x2="234.6" y2="50.3" stroke="#e2e2e2" stroke-width="0.97" stroke-linecap="round"/>
<line x1="372.1" y1="57.9" x2="383" y2="53.7" stroke="#9a9a9a" stroke-width="2.3" stroke-linecap="round"/><line x1="372.1" y1="57.9" x2="383" y2="53.7" stroke="#e2e2e2" stroke-width="0.97" stroke-linecap="round"/>
<line x1="344.6" y1="90.6" x2="344" y2="102.3" stroke="#9a9a9a" stroke-width="2.3" stroke-linecap="round"/><line x1="344.6" y1="90.6" x2="344" y2="102.3" stroke="#e2e2e2" stroke-width="0.97" stroke-linecap="round"/>
<line x1="359.2" y1="93.5" x2="358.1" y2="105.2" stroke="#9a9a9a" stroke-width="2.3" stroke-linecap="round"/><line x1="359.2" y1="93.5" x2="358.1" y2="105.2" stroke="#e2e2e2" stroke-width="0.97" stroke-linecap="round"/>
<line x1="294.7" y1="41" x2="302.3" y2="50" stroke="#9a9a9a" stroke-width="2.3" stroke-linecap="round"/><line x1="294.7" y1="41" x2="302.3" y2="50" stroke="#e2e2e2" stroke-width="0.97" stroke-linecap="round"/>
<line x1="294.7" y1="41" x2="302.8" y2="32.4" stroke="#9a9a9a" stroke-width="2.3" stroke-linecap="round"/><line x1="294.7" y1="41" x2="302.8" y2="32.4" stroke="#e2e2e2" stroke-width="0.97" stroke-linecap="round"/>
<line x1="297.1" y1="52.6" x2="304" y2="62.2" stroke="#9a9a9a" stroke-width="2.3" stroke-linecap="round"/><line x1="297.1" y1="52.6" x2="304" y2="62.2" stroke="#e2e2e2" stroke-width="0.97" stroke-linecap="round"/>
<line x1="272.6" y1="63.7" x2="261.5" y2="67.8" stroke="#9a9a9a" stroke-width="2.3" stroke-linecap="round"/><line x1="272.6" y1="63.7" x2="261.5" y2="67.8" stroke="#e2e2e2" stroke-width="0.97" stroke-linecap="round"/>
<line x1="387" y1="42.4" x2="383" y2="53.7" stroke="#9a9a9a" stroke-width="2.3" stroke-linecap="round"/><line x1="387" y1="42.4" x2="383" y2="53.7" stroke="#e2e2e2" stroke-width="0.97" stroke-linecap="round"/>
<line x1="288.3" y1="60.8" x2="297.1" y2="52.6" stroke="#9a9a9a" stroke-width="2.3" stroke-linecap="round"/><line x1="288.3" y1="60.8" x2="297.1" y2="52.6" stroke="#e2e2e2" stroke-width="0.97" stroke-linecap="round"/>
<line x1="245.7" y1="82.2" x2="257.4" y2="79.3" stroke="#9a9a9a" stroke-width="2.3" stroke-linecap="round"/><line x1="245.7" y1="82.2" x2="257.4" y2="79.3" stroke="#e2e2e2" stroke-width="0.97" stroke-linecap="round"/>
<line x1="320.7" y1="66.7" x2="325.4" y2="77.8" stroke="#9a9a9a" stroke-width="2.3" stroke-linecap="round"/><line x1="320.7" y1="66.7" x2="325.4" y2="77.8" stroke="#e2e2e2" stroke-width="0.97" stroke-linecap="round"/>
<line x1="275.5" y1="52" x2="272.6" y2="63.7" stroke="#9a9a9a" stroke-width="2.3" stroke-linecap="round"/><line x1="275.5" y1="52" x2="272.6" y2="63.7" stroke="#e2e2e2" stroke-width="0.97" stroke-linecap="round"/>
<line x1="293.6" y1="68.4" x2="304" y2="62.2" stroke="#9a9a9a" stroke-width="2.3" stroke-linecap="round"/><line x1="293.6" y1="68.4" x2="304" y2="62.2" stroke="#e2e2e2" stroke-width="0.97" stroke-linecap="round"/>
<line x1="393.5" y1="84.9" x2="388.7" y2="96.1" stroke="#9a9a9a" stroke-width="2.3" stroke-linecap="round"/><line x1="393.5" y1="84.9" x2="388.7" y2="96.1" stroke="#e2e2e2" stroke-width="0.97" stroke-linecap="round"/>
<line x1="410.3" y1="71.3" x2="405.5" y2="82.5" stroke="#9a9a9a" stroke-width="2.3" stroke-linecap="round"/><line x1="410.3" y1="71.3" x2="405.5" y2="82.5" stroke="#e2e2e2" stroke-width="0.97" stroke-linecap="round"/>
<line x1="384.6" y1="72.9" x2="373.4" y2="77.7" stroke="#9a9a9a" stroke-width="2.3" stroke-linecap="round"/><line x1="384.6" y1="72.9" x2="373.4" y2="77.7" stroke="#e2e2e2" stroke-width="0.97" stroke-linecap="round"/>
<line x1="261.5" y1="67.8" x2="257.4" y2="79.3" stroke="#9a9a9a" stroke-width="2.3" stroke-linecap="round"/><line x1="261.5" y1="67.8" x2="257.4" y2="79.3" stroke="#e2e2e2" stroke-width="0.97" stroke-linecap="round"/>
<line x1="359.2" y1="93.5" x2="370.9" y2="90" stroke="#9a9a9a" stroke-width="2.3" stroke-linecap="round"/><line x1="359.2" y1="93.5" x2="370.9" y2="90" stroke="#e2e2e2" stroke-width="0.97" stroke-linecap="round"/>
<line x1="405.5" y1="82.5" x2="393.5" y2="84.9" stroke="#9a9a9a" stroke-width="2.3" stroke-linecap="round"/><line x1="405.5" y1="82.5" x2="393.5" y2="84.9" stroke="#e2e2e2" stroke-width="0.97" stroke-linecap="round"/>
<line x1="328" y1="26" x2="333.2" y2="37.1" stroke="#9a9a9a" stroke-width="2.3" stroke-linecap="round"/><line x1="328" y1="26" x2="333.2" y2="37.1" stroke="#e2e2e2" stroke-width="0.97" stroke-linecap="round"/>
<line x1="344.6" y1="90.6" x2="355.1" y2="84.2" stroke="#9a9a9a" stroke-width="2.3" stroke-linecap="round"/><line x1="344.6" y1="90.6" x2="355.1" y2="84.2" stroke="#e2e2e2" stroke-width="0.97" stroke-linecap="round"/>
<line x1="310.4" y1="30.1" x2="312.2" y2="42.4" stroke="#9a9a9a" stroke-width="2.3" stroke-linecap="round"/><line x1="310.4" y1="30.1" x2="312.2" y2="42.4" stroke="#e2e2e2" stroke-width="0.97" stroke-linecap="round"/>
<line x1="239.9" y1="92.1" x2="227.6" y2="93.9" stroke="#9a9a9a" stroke-width="2.3" stroke-linecap="round"/><line x1="239.9" y1="92.1" x2="227.6" y2="93.9" stroke="#e2e2e2" stroke-width="0.97" stroke-linecap="round"/>
<line x1="236.4" y1="69" x2="225.3" y2="74.6" stroke="#9a9a9a" stroke-width="2.3" stroke-linecap="round"/><line x1="236.4" y1="69" x2="225.3" y2="74.6" stroke="#e2e2e2" stroke-width="0.97" stroke-linecap="round"/>
<line x1="329.7" y1="58.1" x2="320.7" y2="66.7" stroke="#9a9a9a" stroke-width="2.3" stroke-linecap="round"/><line x1="329.7" y1="58.1" x2="320.7" y2="66.7" stroke="#e2e2e2" stroke-width="0.97" stroke-linecap="round"/>
<line x1="333.2" y1="37.1" x2="325" y2="46.5" stroke="#9a9a9a" stroke-width="2.3" stroke-linecap="round"/><line x1="333.2" y1="37.1" x2="325" y2="46.5" stroke="#e2e2e2" stroke-width="0.97" stroke-linecap="round"/>
<line x1="325" y1="46.5" x2="329.7" y2="58.1" stroke="#9a9a9a" stroke-width="2.3" stroke-linecap="round"/><line x1="325" y1="46.5" x2="329.7" y2="58.1" stroke="#e2e2e2" stroke-width="0.97" stroke-linecap="round"/>
<line x1="238.1" y1="39.2" x2="250.6" y2="41" stroke="#9a9a9a" stroke-width="2.3" stroke-linecap="round"/><line x1="238.1" y1="39.2" x2="250.6" y2="41" stroke="#e2e2e2" stroke-width="0.97" stroke-linecap="round"/>
<line x1="356.9" y1="73.1" x2="368.6" y2="68.1" stroke="#9a9a9a" stroke-width="2.3" stroke-linecap="round"/><line x1="356.9" y1="73.1" x2="368.6" y2="68.1" stroke="#e2e2e2" stroke-width="0.97" stroke-linecap="round"/>
<line x1="249.8" y1="52.6" x2="238.1" y2="57.9" stroke="#9a9a9a" stroke-width="2.3" stroke-linecap="round"/><line x1="249.8" y1="52.6" x2="238.1" y2="57.9" stroke="#e2e2e2" stroke-width="0.97" stroke-linecap="round"/>
<line x1="280.7" y1="91" x2="270.2" y2="98.5" stroke="#9a9a9a" stroke-width="2.3" stroke-linecap="round"/><line x1="280.7" y1="91" x2="270.2" y2="98.5" stroke="#e2e2e2" stroke-width="0.97" stroke-linecap="round"/>
<line x1="315.1" y1="26.6" x2="328" y2="26" stroke="#9a9a9a" stroke-width="2.3" stroke-linecap="round"/><line x1="315.1" y1="26.6" x2="328" y2="26" stroke="#e2e2e2" stroke-width="0.97" stroke-linecap="round"/>
<line x1="375.8" y1="96.9" x2="388.7" y2="96.1" stroke="#9a9a9a" stroke-width="2.3" stroke-linecap="round"/><line x1="375.8" y1="96.9" x2="388.7" y2="96.1" stroke="#e2e2e2" stroke-width="0.97" stroke-linecap="round"/>
<line x1="397.5" y1="53.7" x2="387" y2="61.7" stroke="#9a9a9a" stroke-width="2.3" stroke-linecap="round"/><line x1="397.5" y1="53.7" x2="387" y2="61.7" stroke="#e2e2e2" stroke-width="0.97" stroke-linecap="round"/>
<line x1="371.5" y1="107.6" x2="358.1" y2="105.2" stroke="#9a9a9a" stroke-width="2.3" stroke-linecap="round"/><line x1="371.5" y1="107.6" x2="358.1" y2="105.2" stroke="#e2e2e2" stroke-width="0.97" stroke-linecap="round"/>
<line x1="287.7" y1="100.3" x2="301.5" y2="101.9" stroke="#9a9a9a" stroke-width="2.3" stroke-linecap="round"/><line x1="287.7" y1="100.3" x2="301.5" y2="101.9" stroke="#e2e2e2" stroke-width="0.97" stroke-linecap="round"/>
<line x1="250.9" y1="32.8" x2="244.5" y2="36" stroke="#d8e640" stroke-width="2.2" stroke-linecap="round"/><line x1="244.5" y1="36" x2="238.1" y2="39.2" stroke="#9a9a9a" stroke-width="2.2" stroke-linecap="round"/>
<line x1="264.4" y1="33.3" x2="257.5" y2="37.15" stroke="#d8e640" stroke-width="2.2" stroke-linecap="round"/><line x1="257.5" y1="37.15" x2="250.6" y2="41" stroke="#9a9a9a" stroke-width="2.2" stroke-linecap="round"/>
<line x1="288.3" y1="47.4" x2="281.9" y2="49.7" stroke="#d8e640" stroke-width="2.2" stroke-linecap="round"/><line x1="281.9" y1="49.7" x2="275.5" y2="52" stroke="#9a9a9a" stroke-width="2.2" stroke-linecap="round"/>
<line x1="300.5" y1="18.1" x2="301.4" y2="22.65" stroke="#d8e640" stroke-width="2.2" stroke-linecap="round"/><line x1="301.4" y1="22.65" x2="302.3" y2="27.2" stroke="#9a9a9a" stroke-width="2.2" stroke-linecap="round"/>
<line x1="321.5" y1="21.9" x2="318.3" y2="24.25" stroke="#d8e640" stroke-width="2.2" stroke-linecap="round"/><line x1="318.3" y1="24.25" x2="315.1" y2="26.6" stroke="#9a9a9a" stroke-width="2.2" stroke-linecap="round"/>
<line x1="337.6" y1="14.3" x2="332.8" y2="20.15" stroke="#d8e640" stroke-width="2.2" stroke-linecap="round"/><line x1="332.8" y1="20.15" x2="328" y2="26" stroke="#9a9a9a" stroke-width="2.2" stroke-linecap="round"/>
<line x1="399.9" y1="36" x2="393.45" y2="39.2" stroke="#d8e640" stroke-width="2.2" stroke-linecap="round"/><line x1="393.45" y1="39.2" x2="387" y2="42.4" stroke="#9a9a9a" stroke-width="2.2" stroke-linecap="round"/>
<line x1="411.9" y1="36.8" x2="405.1" y2="40.4" stroke="#d8e640" stroke-width="2.2" stroke-linecap="round"/><line x1="405.1" y1="40.4" x2="398.3" y2="44" stroke="#9a9a9a" stroke-width="2.2" stroke-linecap="round"/>
<line x1="270.2" y1="110.8" x2="270.2" y2="104.65" stroke="#d8e640" stroke-width="2.2" stroke-linecap="round"/><line x1="270.2" y1="104.65" x2="270.2" y2="98.5" stroke="#9a9a9a" stroke-width="2.2" stroke-linecap="round"/>
<line x1="275.5" y1="109" x2="281.6" y2="104.65" stroke="#d8e640" stroke-width="2.2" stroke-linecap="round"/><line x1="281.6" y1="104.65" x2="287.7" y2="100.3" stroke="#9a9a9a" stroke-width="2.2" stroke-linecap="round"/>
<line x1="311.9" y1="108.7" x2="310.15" y2="103.75" stroke="#d8e640" stroke-width="2.2" stroke-linecap="round"/><line x1="310.15" y1="103.75" x2="308.4" y2="98.8" stroke="#9a9a9a" stroke-width="2.2" stroke-linecap="round"/>
<line x1="331.8" y1="109.9" x2="327.1" y2="102.9" stroke="#d8e640" stroke-width="2.2" stroke-linecap="round"/><line x1="327.1" y1="102.9" x2="322.4" y2="95.9" stroke="#9a9a9a" stroke-width="2.2" stroke-linecap="round"/>
<line x1="342.9" y1="108.7" x2="343.45" y2="105.5" stroke="#d8e640" stroke-width="2.2" stroke-linecap="round"/><line x1="343.45" y1="105.5" x2="344" y2="102.3" stroke="#9a9a9a" stroke-width="2.2" stroke-linecap="round"/>
<line x1="355.7" y1="109.9" x2="356.9" y2="107.55" stroke="#d8e640" stroke-width="2.2" stroke-linecap="round"/><line x1="356.9" y1="107.55" x2="358.1" y2="105.2" stroke="#9a9a9a" stroke-width="2.2" stroke-linecap="round"/>
<line x1="297.7" y1="109.6" x2="300.15" y2="98.95" stroke="#d8e640" stroke-width="2.2" stroke-linecap="round"/><line x1="300.15" y1="98.95" x2="302.6" y2="88.3" stroke="#9a9a9a" stroke-width="2.2" stroke-linecap="round"/>
<line x1="346.4" y1="109.9" x2="345.5" y2="100.25" stroke="#d8e640" stroke-width="2.2" stroke-linecap="round"/><line x1="345.5" y1="100.25" x2="344.6" y2="90.6" stroke="#9a9a9a" stroke-width="2.2" stroke-linecap="round"/>
<line x1="231.7" y1="32.8" x2="238.1" y2="39.2" stroke="#a8a8a8" stroke-width="1.3" stroke-linecap="round"/>
<line x1="245.1" y1="31.6" x2="238.1" y2="39.2" stroke="#a8a8a8" stroke-width="1.3" stroke-linecap="round"/>
<line x1="230.5" y1="47.4" x2="234.6" y2="50.3" stroke="#a8a8a8" stroke-width="1.3" stroke-linecap="round"/>
<line x1="258" y1="41" x2="250.6" y2="41" stroke="#a8a8a8" stroke-width="1.3" stroke-linecap="round"/>
<line x1="256.2" y1="57.3" x2="249.8" y2="52.6" stroke="#a8a8a8" stroke-width="1.3" stroke-linecap="round"/>
<line x1="269" y1="46.8" x2="275.5" y2="52" stroke="#a8a8a8" stroke-width="1.3" stroke-linecap="round"/>
<line x1="280.7" y1="57.9" x2="275.5" y2="52" stroke="#a8a8a8" stroke-width="1.3" stroke-linecap="round"/>
<line x1="255" y1="61.4" x2="261.5" y2="67.8" stroke="#a8a8a8" stroke-width="1.3" stroke-linecap="round"/>
<line x1="287.2" y1="38" x2="294.7" y2="41" stroke="#a8a8a8" stroke-width="1.3" stroke-linecap="round"/>
<line x1="278.4" y1="68.4" x2="272.6" y2="63.7" stroke="#a8a8a8" stroke-width="1.3" stroke-linecap="round"/>
<line x1="341.4" y1="38.9" x2="333.2" y2="37.1" stroke="#a8a8a8" stroke-width="1.3" stroke-linecap="round"/>
<line x1="337.3" y1="59.9" x2="329.7" y2="58.1" stroke="#a8a8a8" stroke-width="1.3" stroke-linecap="round"/>
<line x1="328.5" y1="39.5" x2="333.2" y2="37.1" stroke="#a8a8a8" stroke-width="1.3" stroke-linecap="round"/>
<line x1="320.4" y1="45.3" x2="325" y2="46.5" stroke="#a8a8a8" stroke-width="1.3" stroke-linecap="round"/>
<line x1="305.8" y1="52.9" x2="302.3" y2="50" stroke="#a8a8a8" stroke-width="1.3" stroke-linecap="round"/>
<line x1="365.9" y1="51.7" x2="372.1" y2="57.9" stroke="#a8a8a8" stroke-width="1.3" stroke-linecap="round"/>
<line x1="241" y1="75.2" x2="236.4" y2="69" stroke="#a8a8a8" stroke-width="1.3" stroke-linecap="round"/>
<line x1="262.6" y1="85.1" x2="257.4" y2="79.3" stroke="#a8a8a8" stroke-width="1.3" stroke-linecap="round"/>
<line x1="245.1" y1="99.7" x2="239.9" y2="92.1" stroke="#a8a8a8" stroke-width="1.3" stroke-linecap="round"/>
<line x1="227" y1="85.7" x2="224.2" y2="84" stroke="#a8a8a8" stroke-width="1.3" stroke-linecap="round"/>
<line x1="227" y1="110.8" x2="225.5" y2="104" stroke="#a8a8a8" stroke-width="1.3" stroke-linecap="round"/>
<line x1="263.2" y1="94.5" x2="270.2" y2="98.5" stroke="#a8a8a8" stroke-width="1.3" stroke-linecap="round"/>
<line x1="273.1" y1="76.4" x2="279.6" y2="80.4" stroke="#a8a8a8" stroke-width="1.3" stroke-linecap="round"/>
<line x1="293.6" y1="104.4" x2="287.7" y2="100.3" stroke="#a8a8a8" stroke-width="1.3" stroke-linecap="round"/>
<line x1="278.4" y1="85.1" x2="279.6" y2="80.4" stroke="#a8a8a8" stroke-width="1.3" stroke-linecap="round"/>
<line x1="298.2" y1="89.2" x2="302.6" y2="88.3" stroke="#a8a8a8" stroke-width="1.3" stroke-linecap="round"/>
<line x1="337" y1="60.3" x2="329.7" y2="58.1" stroke="#a8a8a8" stroke-width="1.3" stroke-linecap="round"/>
<line x1="331.8" y1="81.3" x2="325.4" y2="77.8" stroke="#a8a8a8" stroke-width="1.3" stroke-linecap="round"/>
<line x1="337.6" y1="86" x2="344.6" y2="90.6" stroke="#a8a8a8" stroke-width="1.3" stroke-linecap="round"/>
<line x1="351" y1="67.3" x2="356.9" y2="73.1" stroke="#a8a8a8" stroke-width="1.3" stroke-linecap="round"/>
<line x1="326.5" y1="95.9" x2="322.4" y2="95.9" stroke="#a8a8a8" stroke-width="1.3" stroke-linecap="round"/>
<line x1="328.9" y1="100.5" x2="322.4" y2="95.9" stroke="#a8a8a8" stroke-width="1.3" stroke-linecap="round"/>
<line x1="365" y1="66.7" x2="368.6" y2="68.1" stroke="#a8a8a8" stroke-width="1.3" stroke-linecap="round"/>
<line x1="362.7" y1="107.6" x2="358.1" y2="105.2" stroke="#a8a8a8" stroke-width="1.3" stroke-linecap="round"/>
<line x1="365" y1="105.2" x2="358.1" y2="105.2" stroke="#a8a8a8" stroke-width="1.3" stroke-linecap="round"/>
<line x1="310.2" y1="77.2" x2="311.9" y2="79" stroke="#a8a8a8" stroke-width="1.3" stroke-linecap="round"/>
<line x1="380.6" y1="36" x2="387" y2="42.4" stroke="#a8a8a8" stroke-width="1.3" stroke-linecap="round"/>
<line x1="393.5" y1="35.2" x2="387" y2="42.4" stroke="#a8a8a8" stroke-width="1.3" stroke-linecap="round"/>
<line x1="365.4" y1="51.2" x2="372.1" y2="57.9" stroke="#a8a8a8" stroke-width="1.3" stroke-linecap="round"/>
<line x1="379" y1="49.6" x2="383" y2="53.7" stroke="#a8a8a8" stroke-width="1.3" stroke-linecap="round"/>
<line x1="405.5" y1="61.7" x2="410.3" y2="71.3" stroke="#a8a8a8" stroke-width="1.3" stroke-linecap="round"/>
<line x1="403" y1="64.9" x2="410.3" y2="71.3" stroke="#a8a8a8" stroke-width="1.3" stroke-linecap="round"/>
<line x1="411.1" y1="88.9" x2="405.5" y2="82.5" stroke="#a8a8a8" stroke-width="1.3" stroke-linecap="round"/>
<line x1="393.5" y1="103.3" x2="388.7" y2="96.1" stroke="#a8a8a8" stroke-width="1.3" stroke-linecap="round"/>
<line x1="375.8" y1="114.5" x2="371.5" y2="107.6" stroke="#a8a8a8" stroke-width="1.3" stroke-linecap="round"/>
<line x1="390.3" y1="79.3" x2="393.5" y2="84.9" stroke="#a8a8a8" stroke-width="1.3" stroke-linecap="round"/>
<line x1="363.8" y1="66.5" x2="368.6" y2="68.1" stroke="#a8a8a8" stroke-width="1.3" stroke-linecap="round"/>
<line x1="236.5" y1="82" x2="245.7" y2="82.2" stroke="#a8a8a8" stroke-width="1.3" stroke-linecap="round"/>
<line x1="258" y1="90" x2="257.4" y2="79.3" stroke="#a8a8a8" stroke-width="1.3" stroke-linecap="round"/>
<line x1="287.1" y1="37.5" x2="294.7" y2="41" stroke="#a8a8a8" stroke-width="1.3" stroke-linecap="round"/>
<line x1="288" y1="43.3" x2="294.7" y2="41" stroke="#a8a8a8" stroke-width="1.3" stroke-linecap="round"/>
<line x1="281.3" y1="57.7" x2="288.3" y2="60.8" stroke="#a8a8a8" stroke-width="1.3" stroke-linecap="round"/>
<line x1="272.7" y1="76" x2="279.6" y2="80.4" stroke="#a8a8a8" stroke-width="1.3" stroke-linecap="round"/>
<line x1="278.5" y1="84.6" x2="279.6" y2="80.4" stroke="#a8a8a8" stroke-width="1.3" stroke-linecap="round"/>
<line x1="293.8" y1="100" x2="287.7" y2="100.3" stroke="#a8a8a8" stroke-width="1.3" stroke-linecap="round"/>
<line x1="318" y1="52" x2="316.3" y2="58.7" stroke="#a8a8a8" stroke-width="1.3" stroke-linecap="round"/>
<line x1="336" y1="47" x2="333.2" y2="37.1" stroke="#a8a8a8" stroke-width="1.3" stroke-linecap="round"/>
<line x1="300" y1="45" x2="302.3" y2="50" stroke="#a8a8a8" stroke-width="1.3" stroke-linecap="round"/>
<line x1="347" y1="80" x2="355.1" y2="84.2" stroke="#a8a8a8" stroke-width="1.3" stroke-linecap="round"/>
<line x1="352" y1="98" x2="359.2" y2="93.5" stroke="#a8a8a8" stroke-width="1.3" stroke-linecap="round"/>
<line x1="366" y1="95" x2="359.2" y2="93.5" stroke="#a8a8a8" stroke-width="1.3" stroke-linecap="round"/>
<circle cx="231.7" cy="32.8" r="1.7" fill="url(#gH)"/>
<circle cx="245.1" cy="31.6" r="1.7" fill="url(#gH)"/>
<circle cx="230.5" cy="47.4" r="1.7" fill="url(#gH)"/>
<circle cx="258" cy="41" r="1.7" fill="url(#gH)"/>
<circle cx="256.2" cy="57.3" r="1.7" fill="url(#gH)"/>
<circle cx="269" cy="46.8" r="1.7" fill="url(#gH)"/>
<circle cx="280.7" cy="57.9" r="1.7" fill="url(#gH)"/>
<circle cx="255" cy="61.4" r="1.7" fill="url(#gH)"/>
<circle cx="287.2" cy="38" r="1.7" fill="url(#gH)"/>
<circle cx="278.4" cy="68.4" r="1.7" fill="url(#gH)"/>
<circle cx="341.4" cy="38.9" r="1.7" fill="url(#gH)"/>
<circle cx="337.3" cy="59.9" r="1.7" fill="url(#gH)"/>
<circle cx="328.5" cy="39.5" r="1.7" fill="url(#gH)"/>
<circle cx="320.4" cy="45.3" r="1.7" fill="url(#gH)"/>
<circle cx="305.8" cy="52.9" r="1.7" fill="url(#gH)"/>
<circle cx="365.9" cy="51.7" r="1.7" fill="url(#gH)"/>
<circle cx="241" cy="75.2" r="1.7" fill="url(#gH)"/>
<circle cx="262.6" cy="85.1" r="1.7" fill="url(#gH)"/>
<circle cx="245.1" cy="99.7" r="1.7" fill="url(#gH)"/>
<circle cx="227" cy="85.7" r="1.7" fill="url(#gH)"/>
<circle cx="227" cy="110.8" r="1.7" fill="url(#gH)"/>
<circle cx="263.2" cy="94.5" r="1.7" fill="url(#gH)"/>
<circle cx="273.1" cy="76.4" r="1.7" fill="url(#gH)"/>
<circle cx="293.6" cy="104.4" r="1.7" fill="url(#gH)"/>
<circle cx="278.4" cy="85.1" r="1.7" fill="url(#gH)"/>
<circle cx="298.2" cy="89.2" r="1.7" fill="url(#gH)"/>
<circle cx="337" cy="60.3" r="1.7" fill="url(#gH)"/>
<circle cx="331.8" cy="81.3" r="1.7" fill="url(#gH)"/>
<circle cx="337.6" cy="86" r="1.7" fill="url(#gH)"/>
<circle cx="351" cy="67.3" r="1.7" fill="url(#gH)"/>
<circle cx="326.5" cy="95.9" r="1.7" fill="url(#gH)"/>
<circle cx="328.9" cy="100.5" r="1.7" fill="url(#gH)"/>
<circle cx="365" cy="66.7" r="1.7" fill="url(#gH)"/>
<circle cx="362.7" cy="107.6" r="1.7" fill="url(#gH)"/>
<circle cx="365" cy="105.2" r="1.7" fill="url(#gH)"/>
<circle cx="310.2" cy="77.2" r="1.7" fill="url(#gH)"/>
<circle cx="380.6" cy="36" r="1.7" fill="url(#gH)"/>
<circle cx="393.5" cy="35.2" r="1.7" fill="url(#gH)"/>
<circle cx="365.4" cy="51.2" r="1.7" fill="url(#gH)"/>
<circle cx="379" cy="49.6" r="1.7" fill="url(#gH)"/>
<circle cx="405.5" cy="61.7" r="1.7" fill="url(#gH)"/>
<circle cx="403" cy="64.9" r="1.7" fill="url(#gH)"/>
<circle cx="411.1" cy="88.9" r="1.7" fill="url(#gH)"/>
<circle cx="393.5" cy="103.3" r="1.7" fill="url(#gH)"/>
<circle cx="375.8" cy="114.5" r="1.7" fill="url(#gH)"/>
<circle cx="390.3" cy="79.3" r="1.7" fill="url(#gH)"/>
<circle cx="363.8" cy="66.5" r="1.7" fill="url(#gH)"/>
<circle cx="236.5" cy="82" r="1.7" fill="url(#gH)"/>
<circle cx="258" cy="90" r="1.7" fill="url(#gH)"/>
<circle cx="287.1" cy="37.5" r="1.7" fill="url(#gH)"/>
<circle cx="288" cy="43.3" r="1.7" fill="url(#gH)"/>
<circle cx="281.3" cy="57.7" r="1.7" fill="url(#gH)"/>
<circle cx="272.7" cy="76" r="1.7" fill="url(#gH)"/>
<circle cx="278.5" cy="84.6" r="1.7" fill="url(#gH)"/>
<circle cx="293.8" cy="100" r="1.7" fill="url(#gH)"/>
<circle cx="318" cy="52" r="1.7" fill="url(#gH)"/>
<circle cx="336" cy="47" r="1.7" fill="url(#gH)"/>
<circle cx="300" cy="45" r="1.7" fill="url(#gH)"/>
<circle cx="347" cy="80" r="1.7" fill="url(#gH)"/>
<circle cx="352" cy="98" r="1.7" fill="url(#gH)"/>
<circle cx="366" cy="95" r="1.7" fill="url(#gH)"/>
<circle cx="238.1" cy="39.2" r="2.6" fill="url(#gC)"/>
<circle cx="250.6" cy="41" r="2.6" fill="url(#gC)"/>
<circle cx="234.6" cy="50.3" r="2.6" fill="url(#gC)"/>
<circle cx="248" cy="48.5" r="2.6" fill="url(#gC)"/>
<circle cx="249.8" cy="52.6" r="2.6" fill="url(#gC)"/>
<circle cx="238.1" cy="57.9" r="2.6" fill="url(#gC)"/>
<circle cx="233.4" cy="64.3" r="2.6" fill="url(#gC)"/>
<circle cx="236.4" cy="69" r="2.6" fill="url(#gC)"/>
<circle cx="275.5" cy="52" r="2.6" fill="url(#gC)"/>
<circle cx="272.6" cy="63.7" r="2.6" fill="url(#gC)"/>
<circle cx="261.5" cy="67.8" r="2.6" fill="url(#gC)"/>
<circle cx="288.3" cy="60.8" r="2.6" fill="url(#gC)"/>
<circle cx="294.7" cy="41" r="2.6" fill="url(#gC)"/>
<circle cx="297.1" cy="52.6" r="2.6" fill="url(#gC)"/>
<circle cx="293.6" cy="68.4" r="2.6" fill="url(#gC)"/>
<circle cx="302.3" cy="27.2" r="2.6" fill="url(#gC)"/>
<circle cx="310.4" cy="30.1" r="2.6" fill="url(#gC)"/>
<circle cx="315.1" cy="26.6" r="2.6" fill="url(#gC)"/>
<circle cx="319.8" cy="38.3" r="2.6" fill="url(#gC)"/>
<circle cx="312.2" cy="42.4" r="2.6" fill="url(#gC)"/>
<circle cx="328" cy="26" r="2.6" fill="url(#gC)"/>
<circle cx="333.2" cy="37.1" r="2.6" fill="url(#gC)"/>
<circle cx="325" cy="46.5" r="2.6" fill="url(#gC)"/>
<circle cx="311.6" cy="48.2" r="2.6" fill="url(#gC)"/>
<circle cx="302.3" cy="50" r="2.6" fill="url(#gC)"/>
<circle cx="316.3" cy="58.7" r="2.6" fill="url(#gC)"/>
<circle cx="329.7" cy="58.1" r="2.6" fill="url(#gC)"/>
<circle cx="304" cy="62.2" r="2.6" fill="url(#gC)"/>
<circle cx="245.7" cy="82.2" r="2.6" fill="url(#gC)"/>
<circle cx="257.4" cy="79.3" r="2.6" fill="url(#gC)"/>
<circle cx="239.9" cy="92.1" r="2.6" fill="url(#gC)"/>
<circle cx="227.6" cy="93.9" r="2.6" fill="url(#gC)"/>
<circle cx="225.3" cy="74.6" r="2.6" fill="url(#gC)"/>
<circle cx="279.6" cy="80.4" r="2.6" fill="url(#gC)"/>
<circle cx="280.7" cy="91" r="2.6" fill="url(#gC)"/>
<circle cx="286" cy="89.2" r="2.6" fill="url(#gC)"/>
<circle cx="270.2" cy="98.5" r="2.6" fill="url(#gC)"/>
<circle cx="287.7" cy="100.3" r="2.6" fill="url(#gC)"/>
<circle cx="290" cy="71.7" r="2.6" fill="url(#gC)"/>
<circle cx="295.9" cy="81.6" r="2.6" fill="url(#gC)"/>
<circle cx="307.3" cy="68.4" r="2.6" fill="url(#gC)"/>
<circle cx="320.7" cy="66.7" r="2.6" fill="url(#gC)"/>
<circle cx="311.9" cy="79" r="2.6" fill="url(#gC)"/>
<circle cx="325.4" cy="77.8" r="2.6" fill="url(#gC)"/>
<circle cx="302.6" cy="88.3" r="2.6" fill="url(#gC)"/>
<circle cx="316" cy="87.1" r="2.6" fill="url(#gC)"/>
<circle cx="308.4" cy="98.8" r="2.6" fill="url(#gC)"/>
<circle cx="322.4" cy="95.9" r="2.6" fill="url(#gC)"/>
<circle cx="356.9" cy="73.1" r="2.6" fill="url(#gC)"/>
<circle cx="344.6" cy="90.6" r="2.6" fill="url(#gC)"/>
<circle cx="355.1" cy="84.2" r="2.6" fill="url(#gC)"/>
<circle cx="359.2" cy="93.5" r="2.6" fill="url(#gC)"/>
<circle cx="344" cy="102.3" r="2.6" fill="url(#gC)"/>
<circle cx="368.6" cy="83.6" r="2.6" fill="url(#gC)"/>
<circle cx="370.9" cy="90" r="2.6" fill="url(#gC)"/>
<circle cx="371.5" cy="107.6" r="2.6" fill="url(#gC)"/>
<circle cx="372.1" cy="57.9" r="2.6" fill="url(#gC)"/>
<circle cx="358.1" cy="105.2" r="2.6" fill="url(#gC)"/>
<circle cx="387" cy="42.4" r="2.6" fill="url(#gC)"/>
<circle cx="398.3" cy="44" r="2.6" fill="url(#gC)"/>
<circle cx="383" cy="53.7" r="2.6" fill="url(#gC)"/>
<circle cx="397.5" cy="53.7" r="2.6" fill="url(#gC)"/>
<circle cx="387" cy="61.7" r="2.6" fill="url(#gC)"/>
<circle cx="368.6" cy="68.1" r="2.6" fill="url(#gC)"/>
<circle cx="381.4" cy="68.1" r="2.6" fill="url(#gC)"/>
<circle cx="384.6" cy="72.9" r="2.6" fill="url(#gC)"/>
<circle cx="373.4" cy="77.7" r="2.6" fill="url(#gC)"/>
<circle cx="410.3" cy="71.3" r="2.6" fill="url(#gC)"/>
<circle cx="405.5" cy="82.5" r="2.6" fill="url(#gC)"/>
<circle cx="393.5" cy="84.9" r="2.6" fill="url(#gC)"/>
<circle cx="375.8" cy="96.9" r="2.6" fill="url(#gC)"/>
<circle cx="388.7" cy="96.1" r="2.6" fill="url(#gC)"/>
<circle cx="223.8" cy="54" r="2.6" fill="url(#gC)"/>
<circle cx="224.5" cy="64" r="2.6" fill="url(#gC)"/>
<circle cx="224.2" cy="84" r="2.6" fill="url(#gC)"/>
<circle cx="225.5" cy="104" r="2.6" fill="url(#gC)"/>
<circle cx="302.8" cy="32.4" r="2.6" fill="url(#gC)"/>
<circle cx="289" cy="80.8" r="2.6" fill="url(#gC)"/>
<circle cx="309.2" cy="88.5" r="2.6" fill="url(#gC)"/>
<circle cx="301.5" cy="101.9" r="2.6" fill="url(#gC)"/>
<circle cx="250.9" cy="32.8" r="3.6" fill="url(#gS)"/>
<circle cx="264.4" cy="33.3" r="3.6" fill="url(#gS)"/>
<circle cx="288.3" cy="47.4" r="3.6" fill="url(#gS)"/>
<circle cx="300.5" cy="18.1" r="3.6" fill="url(#gS)"/>
<circle cx="324.1" cy="14.9" r="3.6" fill="url(#gS)"/>
<circle cx="321.5" cy="21.9" r="3.6" fill="url(#gS)"/>
<circle cx="337.6" cy="14.3" r="3.6" fill="url(#gS)"/>
<circle cx="399.9" cy="36" r="3.6" fill="url(#gS)"/>
<circle cx="411.9" cy="36.8" r="3.6" fill="url(#gS)"/>
<circle cx="270.2" cy="110.8" r="3.6" fill="url(#gS)"/>
<circle cx="275.5" cy="109" r="3.6" fill="url(#gS)"/>
<circle cx="297.7" cy="109.6" r="3.6" fill="url(#gS)"/>
<circle cx="311.9" cy="108.7" r="3.6" fill="url(#gS)"/>
<circle cx="331.8" cy="109.9" r="3.6" fill="url(#gS)"/>
<circle cx="342.9" cy="108.7" r="3.6" fill="url(#gS)"/>
<circle cx="346.4" cy="109.9" r="3.6" fill="url(#gS)"/>
<circle cx="355.7" cy="109.9" r="3.6" fill="url(#gS)"/>
<line x1="316.6" y1="108.7" x2="318.5" y2="101" stroke="#9a9a9a" stroke-width="1.8" stroke-linecap="round"/><line x1="316.6" y1="108.7" x2="318.5" y2="101" stroke="#e2e2e2" stroke-width="0.76" stroke-linecap="round"/>
<circle cx="316.6" cy="108.7" r="2.3" fill="url(#gC)"/>
<circle cx="319.5" cy="100" r="2.4" fill="url(#gO)"/>
<circle cx="317.2" cy="102.3" r="2.4" fill="url(#gO)"/>
</g>
<text x="214" y="11.9" font-size="15" text-anchor="start" fill="#231f20" font-weight="normal"  stroke="#231f20" stroke-width="0.12">b</text>
<text x="213.3" y="198.2" font-size="15" text-anchor="start" fill="#231f20" font-weight="normal"  stroke="#231f20" stroke-width="0.12">c</text>
<circle cx="397.3" cy="372" r="4.5" fill="url(#gCu)"/>
<circle cx="386" cy="372" r="4.5" fill="url(#gCu)"/>
<circle cx="374.1" cy="372" r="4.5" fill="url(#gCu)"/>
<circle cx="364.9" cy="372" r="4.5" fill="url(#gCu)"/>
<circle cx="353.4" cy="372" r="4.5" fill="url(#gCu)"/>
<circle cx="344.7" cy="372" r="4.5" fill="url(#gCu)"/>
<circle cx="333.4" cy="372" r="4.5" fill="url(#gCu)"/>
<circle cx="324.5" cy="372" r="4.5" fill="url(#gCu)"/>
<circle cx="312.7" cy="372" r="4.5" fill="url(#gCu)"/>
<circle cx="303.5" cy="372" r="4.5" fill="url(#gCu)"/>
<circle cx="292.2" cy="372" r="4.5" fill="url(#gCu)"/>
<circle cx="405.8" cy="372.3" r="4.6" fill="url(#gCu)"/>
<circle cx="394" cy="372.3" r="4.6" fill="url(#gCu)"/>
<circle cx="382.7" cy="372.3" r="4.6" fill="url(#gCu)"/>
<circle cx="370.8" cy="372.3" r="4.6" fill="url(#gCu)"/>
<circle cx="361.6" cy="372.3" r="4.6" fill="url(#gCu)"/>
<circle cx="350.1" cy="372.3" r="4.6" fill="url(#gCu)"/>
<circle cx="341.4" cy="372.3" r="4.6" fill="url(#gCu)"/>
<circle cx="330.1" cy="372.3" r="4.6" fill="url(#gCu)"/>
<circle cx="321.2" cy="372.3" r="4.6" fill="url(#gCu)"/>
<circle cx="309.4" cy="372.3" r="4.6" fill="url(#gCu)"/>
<circle cx="300.2" cy="372.3" r="4.6" fill="url(#gCu)"/>
<circle cx="288.9" cy="372.3" r="4.6" fill="url(#gCu)"/>
<circle cx="279.1" cy="372.3" r="4.6" fill="url(#gCu)"/>
<circle cx="267.1" cy="372.3" r="4.6" fill="url(#gCu)"/>
<circle cx="393.3" cy="355.7" r="4.5" fill="url(#gCu)"/>
<circle cx="381.5" cy="355.7" r="4.5" fill="url(#gCu)"/>
<circle cx="369.7" cy="355.7" r="4.5" fill="url(#gCu)"/>
<circle cx="360.5" cy="355.7" r="4.5" fill="url(#gCu)"/>
<circle cx="349.2" cy="355.7" r="4.5" fill="url(#gCu)"/>
<circle cx="340.3" cy="355.7" r="4.5" fill="url(#gCu)"/>
<circle cx="328.9" cy="355.7" r="4.5" fill="url(#gCu)"/>
<circle cx="319.8" cy="355.7" r="4.5" fill="url(#gCu)"/>
<circle cx="307.9" cy="355.7" r="4.5" fill="url(#gCu)"/>
<circle cx="298.2" cy="355.7" r="4.5" fill="url(#gCu)"/>
<circle cx="286.9" cy="355.7" r="4.5" fill="url(#gCu)"/>
<circle cx="401.8" cy="356" r="4.6" fill="url(#gCu)"/>
<circle cx="390" cy="356" r="4.6" fill="url(#gCu)"/>
<circle cx="378.2" cy="356" r="4.6" fill="url(#gCu)"/>
<circle cx="366.4" cy="356" r="4.6" fill="url(#gCu)"/>
<circle cx="357.2" cy="356" r="4.6" fill="url(#gCu)"/>
<circle cx="345.9" cy="356" r="4.6" fill="url(#gCu)"/>
<circle cx="337" cy="356" r="4.6" fill="url(#gCu)"/>
<circle cx="325.6" cy="356" r="4.6" fill="url(#gCu)"/>
<circle cx="316.5" cy="356" r="4.6" fill="url(#gCu)"/>
<circle cx="304.6" cy="356" r="4.6" fill="url(#gCu)"/>
<circle cx="294.9" cy="356" r="4.6" fill="url(#gCu)"/>
<circle cx="283.6" cy="356" r="4.6" fill="url(#gCu)"/>
<circle cx="274.4" cy="356" r="4.6" fill="url(#gCu)"/>
<circle cx="262.6" cy="356" r="4.6" fill="url(#gCu)"/>
<circle cx="396.7" cy="339.1" r="4.5" fill="url(#gCu)"/>
<circle cx="385.4" cy="339.1" r="4.5" fill="url(#gCu)"/>
<circle cx="373.6" cy="339.1" r="4.5" fill="url(#gCu)"/>
<circle cx="364.4" cy="339.1" r="4.5" fill="url(#gCu)"/>
<circle cx="353.1" cy="339.1" r="4.5" fill="url(#gCu)"/>
<circle cx="343.9" cy="339.1" r="4.5" fill="url(#gCu)"/>
<circle cx="332.9" cy="339.1" r="4.5" fill="url(#gCu)"/>
<circle cx="323.7" cy="339.1" r="4.5" fill="url(#gCu)"/>
<circle cx="312.7" cy="339.1" r="4.5" fill="url(#gCu)"/>
<circle cx="302.7" cy="339.1" r="4.5" fill="url(#gCu)"/>
<circle cx="292.2" cy="339.1" r="4.5" fill="url(#gCu)"/>
<circle cx="405.8" cy="339.4" r="4.6" fill="url(#gCu)"/>
<circle cx="393.4" cy="339.4" r="4.6" fill="url(#gCu)"/>
<circle cx="382.1" cy="339.4" r="4.6" fill="url(#gCu)"/>
<circle cx="370.3" cy="339.4" r="4.6" fill="url(#gCu)"/>
<circle cx="361.1" cy="339.4" r="4.6" fill="url(#gCu)"/>
<circle cx="349.8" cy="339.4" r="4.6" fill="url(#gCu)"/>
<circle cx="340.6" cy="339.4" r="4.6" fill="url(#gCu)"/>
<circle cx="329.6" cy="339.4" r="4.6" fill="url(#gCu)"/>
<circle cx="320.4" cy="339.4" r="4.6" fill="url(#gCu)"/>
<circle cx="309.4" cy="339.4" r="4.6" fill="url(#gCu)"/>
<circle cx="299.4" cy="339.4" r="4.6" fill="url(#gCu)"/>
<circle cx="288.9" cy="339.4" r="4.6" fill="url(#gCu)"/>
<circle cx="278.4" cy="339.4" r="4.6" fill="url(#gCu)"/>
<circle cx="267.1" cy="339.4" r="4.6" fill="url(#gCu)"/>
<line x1="238.9" y1="206.4" x2="242.95" y2="213.35" stroke="#d8e640" stroke-width="2.2" stroke-linecap="round"/><line x1="242.95" y1="213.35" x2="247" y2="220.3" stroke="#9a9a9a" stroke-width="2.2" stroke-linecap="round"/>
<line x1="247" y1="220.3" x2="246.5" y2="229.7" stroke="#9a9a9a" stroke-width="2.3" stroke-linecap="round"/><line x1="247" y1="220.3" x2="246.5" y2="229.7" stroke="#e2e2e2" stroke-width="0.97" stroke-linecap="round"/>
<line x1="246.5" y1="229.7" x2="253.5" y2="240.5" stroke="#9a9a9a" stroke-width="2.3" stroke-linecap="round"/><line x1="246.5" y1="229.7" x2="253.5" y2="240.5" stroke="#e2e2e2" stroke-width="0.97" stroke-linecap="round"/>
<line x1="253.5" y1="240.5" x2="248" y2="252.3" stroke="#9a9a9a" stroke-width="2.3" stroke-linecap="round"/><line x1="253.5" y1="240.5" x2="248" y2="252.3" stroke="#e2e2e2" stroke-width="0.97" stroke-linecap="round"/>
<line x1="248" y1="252.3" x2="254.3" y2="263.7" stroke="#9a9a9a" stroke-width="2.3" stroke-linecap="round"/><line x1="248" y1="252.3" x2="254.3" y2="263.7" stroke="#e2e2e2" stroke-width="0.97" stroke-linecap="round"/>
<line x1="254.3" y1="263.7" x2="248.5" y2="275.3" stroke="#9a9a9a" stroke-width="2.3" stroke-linecap="round"/><line x1="254.3" y1="263.7" x2="248.5" y2="275.3" stroke="#e2e2e2" stroke-width="0.97" stroke-linecap="round"/>
<line x1="248.5" y1="275.3" x2="254.5" y2="288" stroke="#9a9a9a" stroke-width="2.3" stroke-linecap="round"/><line x1="248.5" y1="275.3" x2="254.5" y2="288" stroke="#e2e2e2" stroke-width="0.97" stroke-linecap="round"/>
<line x1="254.5" y1="288" x2="254" y2="293.5" stroke="#9a9a9a" stroke-width="2.3" stroke-linecap="round"/><line x1="254.5" y1="288" x2="254" y2="293.5" stroke="#e2e2e2" stroke-width="0.97" stroke-linecap="round"/>
<line x1="258" y1="310.3" x2="256" y2="301.9" stroke="#d8e640" stroke-width="2.2" stroke-linecap="round"/><line x1="256" y1="301.9" x2="254" y2="293.5" stroke="#9a9a9a" stroke-width="2.2" stroke-linecap="round"/>
<line x1="258" y1="310.3" x2="252.5" y2="316.15" stroke="#d8e640" stroke-width="1.9" stroke-linecap="round"/><line x1="252.5" y1="316.15" x2="247" y2="322" stroke="#d07a48" stroke-width="1.9" stroke-linecap="round"/>
<line x1="258" y1="310.3" x2="258" y2="316.15" stroke="#d8e640" stroke-width="1.9" stroke-linecap="round"/><line x1="258" y1="316.15" x2="258" y2="322" stroke="#d07a48" stroke-width="1.9" stroke-linecap="round"/>
<line x1="258" y1="310.3" x2="263" y2="316.15" stroke="#d8e640" stroke-width="1.9" stroke-linecap="round"/><line x1="263" y1="316.15" x2="268" y2="322" stroke="#d07a48" stroke-width="1.9" stroke-linecap="round"/>
<line x1="257.5" y1="219.1" x2="247" y2="220.3" stroke="#a8a8a8" stroke-width="1.3" stroke-linecap="round"/>
<line x1="237.3" y1="230.4" x2="246.5" y2="229.7" stroke="#a8a8a8" stroke-width="1.3" stroke-linecap="round"/>
<line x1="264.2" y1="240.4" x2="253.5" y2="240.5" stroke="#a8a8a8" stroke-width="1.3" stroke-linecap="round"/>
<line x1="238.5" y1="252.8" x2="248" y2="252.3" stroke="#a8a8a8" stroke-width="1.3" stroke-linecap="round"/>
<line x1="265.4" y1="264" x2="254.3" y2="263.7" stroke="#a8a8a8" stroke-width="1.3" stroke-linecap="round"/>
<line x1="238.5" y1="275.2" x2="248.5" y2="275.3" stroke="#a8a8a8" stroke-width="1.3" stroke-linecap="round"/>
<line x1="265.4" y1="287.5" x2="254.5" y2="288" stroke="#a8a8a8" stroke-width="1.3" stroke-linecap="round"/>
<line x1="245.2" y1="292.7" x2="254" y2="293.5" stroke="#a8a8a8" stroke-width="1.3" stroke-linecap="round"/>
<line x1="277.3" y1="209.8" x2="284.05" y2="211.9" stroke="#d8e640" stroke-width="2.2" stroke-linecap="round"/><line x1="284.05" y1="211.9" x2="290.8" y2="214" stroke="#9a9a9a" stroke-width="2.2" stroke-linecap="round"/>
<line x1="290.8" y1="214" x2="283.5" y2="223.3" stroke="#9a9a9a" stroke-width="2.3" stroke-linecap="round"/><line x1="290.8" y1="214" x2="283.5" y2="223.3" stroke="#e2e2e2" stroke-width="0.97" stroke-linecap="round"/>
<line x1="283.5" y1="223.3" x2="288.8" y2="235.8" stroke="#9a9a9a" stroke-width="2.3" stroke-linecap="round"/><line x1="283.5" y1="223.3" x2="288.8" y2="235.8" stroke="#e2e2e2" stroke-width="0.97" stroke-linecap="round"/>
<line x1="288.8" y1="235.8" x2="283.5" y2="247.3" stroke="#9a9a9a" stroke-width="2.3" stroke-linecap="round"/><line x1="288.8" y1="235.8" x2="283.5" y2="247.3" stroke="#e2e2e2" stroke-width="0.97" stroke-linecap="round"/>
<line x1="283.5" y1="247.3" x2="286.7" y2="259.8" stroke="#9a9a9a" stroke-width="2.3" stroke-linecap="round"/><line x1="283.5" y1="247.3" x2="286.7" y2="259.8" stroke="#e2e2e2" stroke-width="0.97" stroke-linecap="round"/>
<line x1="286.7" y1="259.8" x2="281.5" y2="270.2" stroke="#9a9a9a" stroke-width="2.3" stroke-linecap="round"/><line x1="286.7" y1="259.8" x2="281.5" y2="270.2" stroke="#e2e2e2" stroke-width="0.97" stroke-linecap="round"/>
<line x1="281.5" y1="270.2" x2="284.6" y2="282.7" stroke="#9a9a9a" stroke-width="2.3" stroke-linecap="round"/><line x1="281.5" y1="270.2" x2="284.6" y2="282.7" stroke="#e2e2e2" stroke-width="0.97" stroke-linecap="round"/>
<line x1="284.6" y1="282.7" x2="288.8" y2="293.1" stroke="#9a9a9a" stroke-width="2.3" stroke-linecap="round"/><line x1="284.6" y1="282.7" x2="288.8" y2="293.1" stroke="#e2e2e2" stroke-width="0.97" stroke-linecap="round"/>
<line x1="294.6" y1="305" x2="291.7" y2="299.05" stroke="#d8e640" stroke-width="2.2" stroke-linecap="round"/><line x1="291.7" y1="299.05" x2="288.8" y2="293.1" stroke="#9a9a9a" stroke-width="2.2" stroke-linecap="round"/>
<line x1="294.6" y1="305" x2="289.1" y2="313.5" stroke="#d8e640" stroke-width="1.9" stroke-linecap="round"/><line x1="289.1" y1="313.5" x2="283.6" y2="322" stroke="#d07a48" stroke-width="1.9" stroke-linecap="round"/>
<line x1="294.6" y1="305" x2="294.6" y2="313.5" stroke="#d8e640" stroke-width="1.9" stroke-linecap="round"/><line x1="294.6" y1="313.5" x2="294.6" y2="322" stroke="#d07a48" stroke-width="1.9" stroke-linecap="round"/>
<line x1="294.6" y1="305" x2="299.6" y2="313.5" stroke="#d8e640" stroke-width="1.9" stroke-linecap="round"/><line x1="299.6" y1="313.5" x2="304.6" y2="322" stroke="#d07a48" stroke-width="1.9" stroke-linecap="round"/>
<line x1="275.2" y1="222.3" x2="283.5" y2="223.3" stroke="#a8a8a8" stroke-width="1.3" stroke-linecap="round"/>
<line x1="299.2" y1="206.7" x2="290.8" y2="214" stroke="#a8a8a8" stroke-width="1.3" stroke-linecap="round"/>
<line x1="276.3" y1="246.3" x2="283.5" y2="247.3" stroke="#a8a8a8" stroke-width="1.3" stroke-linecap="round"/>
<line x1="292.9" y1="259.8" x2="286.7" y2="259.8" stroke="#a8a8a8" stroke-width="1.3" stroke-linecap="round"/>
<line x1="274.2" y1="270.2" x2="281.5" y2="270.2" stroke="#a8a8a8" stroke-width="1.3" stroke-linecap="round"/>
<line x1="289.8" y1="272.3" x2="281.5" y2="270.2" stroke="#a8a8a8" stroke-width="1.3" stroke-linecap="round"/>
<line x1="276.3" y1="285.8" x2="284.6" y2="282.7" stroke="#a8a8a8" stroke-width="1.3" stroke-linecap="round"/>
<line x1="281.5" y1="297.3" x2="288.8" y2="293.1" stroke="#a8a8a8" stroke-width="1.3" stroke-linecap="round"/>
<line x1="296.7" y1="202.1" x2="293.75" y2="208.05" stroke="#d8e640" stroke-width="2.2" stroke-linecap="round"/><line x1="293.75" y1="208.05" x2="290.8" y2="214" stroke="#9a9a9a" stroke-width="2.2" stroke-linecap="round"/>
<line x1="290.8" y1="214" x2="297.1" y2="226.5" stroke="#9a9a9a" stroke-width="2.3" stroke-linecap="round"/><line x1="290.8" y1="214" x2="297.1" y2="226.5" stroke="#e2e2e2" stroke-width="0.97" stroke-linecap="round"/>
<line x1="297.1" y1="226.5" x2="298.1" y2="237.9" stroke="#9a9a9a" stroke-width="2.3" stroke-linecap="round"/><line x1="297.1" y1="226.5" x2="298.1" y2="237.9" stroke="#e2e2e2" stroke-width="0.97" stroke-linecap="round"/>
<line x1="298.1" y1="237.9" x2="302.3" y2="248.3" stroke="#9a9a9a" stroke-width="2.3" stroke-linecap="round"/><line x1="298.1" y1="237.9" x2="302.3" y2="248.3" stroke="#e2e2e2" stroke-width="0.97" stroke-linecap="round"/>
<line x1="302.3" y1="248.3" x2="304.4" y2="260.8" stroke="#9a9a9a" stroke-width="2.3" stroke-linecap="round"/><line x1="302.3" y1="248.3" x2="304.4" y2="260.8" stroke="#e2e2e2" stroke-width="0.97" stroke-linecap="round"/>
<line x1="304.4" y1="260.8" x2="297.1" y2="272.3" stroke="#9a9a9a" stroke-width="2.3" stroke-linecap="round"/><line x1="304.4" y1="260.8" x2="297.1" y2="272.3" stroke="#e2e2e2" stroke-width="0.97" stroke-linecap="round"/>
<line x1="297.1" y1="272.3" x2="305.4" y2="283.8" stroke="#9a9a9a" stroke-width="2.3" stroke-linecap="round"/><line x1="297.1" y1="272.3" x2="305.4" y2="283.8" stroke="#e2e2e2" stroke-width="0.97" stroke-linecap="round"/>
<line x1="305.4" y1="283.8" x2="298.1" y2="294.2" stroke="#9a9a9a" stroke-width="2.3" stroke-linecap="round"/><line x1="305.4" y1="283.8" x2="298.1" y2="294.2" stroke="#e2e2e2" stroke-width="0.97" stroke-linecap="round"/>
<line x1="308.1" y1="308.3" x2="303.1" y2="301.25" stroke="#d8e640" stroke-width="2.2" stroke-linecap="round"/><line x1="303.1" y1="301.25" x2="298.1" y2="294.2" stroke="#9a9a9a" stroke-width="2.2" stroke-linecap="round"/>
<line x1="308.1" y1="308.3" x2="302.6" y2="315.15" stroke="#d8e640" stroke-width="1.9" stroke-linecap="round"/><line x1="302.6" y1="315.15" x2="297.1" y2="322" stroke="#d07a48" stroke-width="1.9" stroke-linecap="round"/>
<line x1="308.1" y1="308.3" x2="308.1" y2="315.15" stroke="#d8e640" stroke-width="1.9" stroke-linecap="round"/><line x1="308.1" y1="315.15" x2="308.1" y2="322" stroke="#d07a48" stroke-width="1.9" stroke-linecap="round"/>
<line x1="308.1" y1="308.3" x2="313.1" y2="315.15" stroke="#d8e640" stroke-width="1.9" stroke-linecap="round"/><line x1="313.1" y1="315.15" x2="318.1" y2="322" stroke="#d07a48" stroke-width="1.9" stroke-linecap="round"/>
<line x1="299.2" y1="217.1" x2="290.8" y2="214" stroke="#a8a8a8" stroke-width="1.3" stroke-linecap="round"/>
<line x1="313.8" y1="262.9" x2="304.4" y2="260.8" stroke="#a8a8a8" stroke-width="1.3" stroke-linecap="round"/>
<line x1="290.8" y1="281.7" x2="297.1" y2="272.3" stroke="#a8a8a8" stroke-width="1.3" stroke-linecap="round"/>
<line x1="313.8" y1="282.7" x2="305.4" y2="283.8" stroke="#a8a8a8" stroke-width="1.3" stroke-linecap="round"/>
<line x1="296" y1="291" x2="298.1" y2="294.2" stroke="#a8a8a8" stroke-width="1.3" stroke-linecap="round"/>
<line x1="308" y1="247" x2="302.3" y2="248.3" stroke="#a8a8a8" stroke-width="1.3" stroke-linecap="round"/>
<line x1="306" y1="238" x2="298.1" y2="237.9" stroke="#a8a8a8" stroke-width="1.3" stroke-linecap="round"/>
<line x1="326.7" y1="200.4" x2="331.15" y2="207.2" stroke="#d8e640" stroke-width="2.2" stroke-linecap="round"/><line x1="331.15" y1="207.2" x2="335.6" y2="214" stroke="#9a9a9a" stroke-width="2.2" stroke-linecap="round"/>
<line x1="335.6" y1="214" x2="333.5" y2="225.4" stroke="#9a9a9a" stroke-width="2.3" stroke-linecap="round"/><line x1="335.6" y1="214" x2="333.5" y2="225.4" stroke="#e2e2e2" stroke-width="0.97" stroke-linecap="round"/>
<line x1="333.5" y1="225.4" x2="340.8" y2="236.9" stroke="#9a9a9a" stroke-width="2.3" stroke-linecap="round"/><line x1="333.5" y1="225.4" x2="340.8" y2="236.9" stroke="#e2e2e2" stroke-width="0.97" stroke-linecap="round"/>
<line x1="340.8" y1="236.9" x2="336.7" y2="248.3" stroke="#9a9a9a" stroke-width="2.3" stroke-linecap="round"/><line x1="340.8" y1="236.9" x2="336.7" y2="248.3" stroke="#e2e2e2" stroke-width="0.97" stroke-linecap="round"/>
<line x1="336.7" y1="248.3" x2="341.9" y2="260.8" stroke="#9a9a9a" stroke-width="2.3" stroke-linecap="round"/><line x1="336.7" y1="248.3" x2="341.9" y2="260.8" stroke="#e2e2e2" stroke-width="0.97" stroke-linecap="round"/>
<line x1="341.9" y1="260.8" x2="345" y2="271.3" stroke="#9a9a9a" stroke-width="2.3" stroke-linecap="round"/><line x1="341.9" y1="260.8" x2="345" y2="271.3" stroke="#e2e2e2" stroke-width="0.97" stroke-linecap="round"/>
<line x1="345" y1="271.3" x2="348.1" y2="281.7" stroke="#9a9a9a" stroke-width="2.3" stroke-linecap="round"/><line x1="345" y1="271.3" x2="348.1" y2="281.7" stroke="#e2e2e2" stroke-width="0.97" stroke-linecap="round"/>
<line x1="348.1" y1="281.7" x2="338.8" y2="292.1" stroke="#9a9a9a" stroke-width="2.3" stroke-linecap="round"/><line x1="348.1" y1="281.7" x2="338.8" y2="292.1" stroke="#e2e2e2" stroke-width="0.97" stroke-linecap="round"/>
<line x1="344" y1="308.8" x2="341.4" y2="300.45" stroke="#d8e640" stroke-width="2.2" stroke-linecap="round"/><line x1="341.4" y1="300.45" x2="338.8" y2="292.1" stroke="#9a9a9a" stroke-width="2.2" stroke-linecap="round"/>
<line x1="344" y1="308.8" x2="338.5" y2="315.4" stroke="#d8e640" stroke-width="1.9" stroke-linecap="round"/><line x1="338.5" y1="315.4" x2="333" y2="322" stroke="#d07a48" stroke-width="1.9" stroke-linecap="round"/>
<line x1="344" y1="308.8" x2="344" y2="315.4" stroke="#d8e640" stroke-width="1.9" stroke-linecap="round"/><line x1="344" y1="315.4" x2="344" y2="322" stroke="#d07a48" stroke-width="1.9" stroke-linecap="round"/>
<line x1="344" y1="308.8" x2="349" y2="315.4" stroke="#d8e640" stroke-width="1.9" stroke-linecap="round"/><line x1="349" y1="315.4" x2="354" y2="322" stroke="#d07a48" stroke-width="1.9" stroke-linecap="round"/>
<line x1="345" y1="211.9" x2="335.6" y2="214" stroke="#a8a8a8" stroke-width="1.3" stroke-linecap="round"/>
<line x1="324.2" y1="227.5" x2="333.5" y2="225.4" stroke="#a8a8a8" stroke-width="1.3" stroke-linecap="round"/>
<line x1="348.1" y1="235.8" x2="340.8" y2="236.9" stroke="#a8a8a8" stroke-width="1.3" stroke-linecap="round"/>
<line x1="326.2" y1="249.4" x2="336.7" y2="248.3" stroke="#a8a8a8" stroke-width="1.3" stroke-linecap="round"/>
<line x1="352" y1="259" x2="341.9" y2="260.8" stroke="#a8a8a8" stroke-width="1.3" stroke-linecap="round"/>
<line x1="356.7" y1="285.8" x2="348.1" y2="281.7" stroke="#a8a8a8" stroke-width="1.3" stroke-linecap="round"/>
<line x1="332.5" y1="291" x2="338.8" y2="292.1" stroke="#a8a8a8" stroke-width="1.3" stroke-linecap="round"/>
<line x1="355" y1="271" x2="345" y2="271.3" stroke="#a8a8a8" stroke-width="1.3" stroke-linecap="round"/>
<line x1="363.5" y1="206.5" x2="368.9" y2="213.25" stroke="#d8e640" stroke-width="2.2" stroke-linecap="round"/><line x1="368.9" y1="213.25" x2="374.3" y2="220" stroke="#9a9a9a" stroke-width="2.2" stroke-linecap="round"/>
<line x1="374.3" y1="220" x2="373.2" y2="232.5" stroke="#9a9a9a" stroke-width="2.3" stroke-linecap="round"/><line x1="374.3" y1="220" x2="373.2" y2="232.5" stroke="#e2e2e2" stroke-width="0.97" stroke-linecap="round"/>
<line x1="373.2" y1="232.5" x2="380.5" y2="244" stroke="#9a9a9a" stroke-width="2.3" stroke-linecap="round"/><line x1="373.2" y1="232.5" x2="380.5" y2="244" stroke="#e2e2e2" stroke-width="0.97" stroke-linecap="round"/>
<line x1="380.5" y1="244" x2="375.3" y2="256.5" stroke="#9a9a9a" stroke-width="2.3" stroke-linecap="round"/><line x1="380.5" y1="244" x2="375.3" y2="256.5" stroke="#e2e2e2" stroke-width="0.97" stroke-linecap="round"/>
<line x1="375.3" y1="256.5" x2="381.5" y2="266.9" stroke="#9a9a9a" stroke-width="2.3" stroke-linecap="round"/><line x1="375.3" y1="256.5" x2="381.5" y2="266.9" stroke="#e2e2e2" stroke-width="0.97" stroke-linecap="round"/>
<line x1="381.5" y1="266.9" x2="375.3" y2="279" stroke="#9a9a9a" stroke-width="2.3" stroke-linecap="round"/><line x1="381.5" y1="266.9" x2="375.3" y2="279" stroke="#e2e2e2" stroke-width="0.97" stroke-linecap="round"/>
<line x1="375.3" y1="279" x2="386.8" y2="287.8" stroke="#9a9a9a" stroke-width="2.3" stroke-linecap="round"/><line x1="375.3" y1="279" x2="386.8" y2="287.8" stroke="#e2e2e2" stroke-width="0.97" stroke-linecap="round"/>
<line x1="386.8" y1="287.8" x2="381.5" y2="297.1" stroke="#9a9a9a" stroke-width="2.3" stroke-linecap="round"/><line x1="386.8" y1="287.8" x2="381.5" y2="297.1" stroke="#e2e2e2" stroke-width="0.97" stroke-linecap="round"/>
<line x1="385.8" y1="308.8" x2="383.65" y2="302.95" stroke="#d8e640" stroke-width="2.2" stroke-linecap="round"/><line x1="383.65" y1="302.95" x2="381.5" y2="297.1" stroke="#9a9a9a" stroke-width="2.2" stroke-linecap="round"/>
<line x1="385.8" y1="308.8" x2="380.3" y2="315.4" stroke="#d8e640" stroke-width="1.9" stroke-linecap="round"/><line x1="380.3" y1="315.4" x2="374.8" y2="322" stroke="#d07a48" stroke-width="1.9" stroke-linecap="round"/>
<line x1="385.8" y1="308.8" x2="385.8" y2="315.4" stroke="#d8e640" stroke-width="1.9" stroke-linecap="round"/><line x1="385.8" y1="315.4" x2="385.8" y2="322" stroke="#d07a48" stroke-width="1.9" stroke-linecap="round"/>
<line x1="385.8" y1="308.8" x2="390.8" y2="315.4" stroke="#d8e640" stroke-width="1.9" stroke-linecap="round"/><line x1="390.8" y1="315.4" x2="395.8" y2="322" stroke="#d07a48" stroke-width="1.9" stroke-linecap="round"/>
<line x1="383.5" y1="214" x2="374.3" y2="220" stroke="#a8a8a8" stroke-width="1.3" stroke-linecap="round"/>
<line x1="363.5" y1="233" x2="373.2" y2="232.5" stroke="#a8a8a8" stroke-width="1.3" stroke-linecap="round"/>
<line x1="390.5" y1="243" x2="380.5" y2="244" stroke="#a8a8a8" stroke-width="1.3" stroke-linecap="round"/>
<line x1="365" y1="257" x2="375.3" y2="256.5" stroke="#a8a8a8" stroke-width="1.3" stroke-linecap="round"/>
<line x1="391" y1="266" x2="381.5" y2="266.9" stroke="#a8a8a8" stroke-width="1.3" stroke-linecap="round"/>
<line x1="366" y1="280" x2="375.3" y2="279" stroke="#a8a8a8" stroke-width="1.3" stroke-linecap="round"/>
<line x1="395" y1="288" x2="386.8" y2="287.8" stroke="#a8a8a8" stroke-width="1.3" stroke-linecap="round"/>
<line x1="371.5" y1="297" x2="381.5" y2="297.1" stroke="#a8a8a8" stroke-width="1.3" stroke-linecap="round"/>
<line x1="362.9" y1="205" x2="367.1" y2="210.5" stroke="#d8e640" stroke-width="2.2" stroke-linecap="round"/><line x1="367.1" y1="210.5" x2="371.3" y2="216" stroke="#9a9a9a" stroke-width="2.2" stroke-linecap="round"/>
<line x1="371.3" y1="216" x2="370.2" y2="228.5" stroke="#9a9a9a" stroke-width="2.3" stroke-linecap="round"/><line x1="371.3" y1="216" x2="370.2" y2="228.5" stroke="#e2e2e2" stroke-width="0.97" stroke-linecap="round"/>
<line x1="370.2" y1="228.5" x2="377.5" y2="240" stroke="#9a9a9a" stroke-width="2.3" stroke-linecap="round"/><line x1="370.2" y1="228.5" x2="377.5" y2="240" stroke="#e2e2e2" stroke-width="0.97" stroke-linecap="round"/>
<line x1="377.5" y1="240" x2="372.3" y2="252.5" stroke="#9a9a9a" stroke-width="2.3" stroke-linecap="round"/><line x1="377.5" y1="240" x2="372.3" y2="252.5" stroke="#e2e2e2" stroke-width="0.97" stroke-linecap="round"/>
<line x1="372.3" y1="252.5" x2="378.5" y2="262.9" stroke="#9a9a9a" stroke-width="2.3" stroke-linecap="round"/><line x1="372.3" y1="252.5" x2="378.5" y2="262.9" stroke="#e2e2e2" stroke-width="0.97" stroke-linecap="round"/>
<line x1="378.5" y1="262.9" x2="372.3" y2="275" stroke="#9a9a9a" stroke-width="2.3" stroke-linecap="round"/><line x1="378.5" y1="262.9" x2="372.3" y2="275" stroke="#e2e2e2" stroke-width="0.97" stroke-linecap="round"/>
<line x1="372.3" y1="275" x2="383.8" y2="283.8" stroke="#9a9a9a" stroke-width="2.3" stroke-linecap="round"/><line x1="372.3" y1="275" x2="383.8" y2="283.8" stroke="#e2e2e2" stroke-width="0.97" stroke-linecap="round"/>
<line x1="383.8" y1="283.8" x2="378.5" y2="293.1" stroke="#9a9a9a" stroke-width="2.3" stroke-linecap="round"/><line x1="383.8" y1="283.8" x2="378.5" y2="293.1" stroke="#e2e2e2" stroke-width="0.97" stroke-linecap="round"/>
<line x1="381.7" y1="309.8" x2="380.1" y2="301.45" stroke="#d8e640" stroke-width="2.2" stroke-linecap="round"/><line x1="380.1" y1="301.45" x2="378.5" y2="293.1" stroke="#9a9a9a" stroke-width="2.2" stroke-linecap="round"/>
<line x1="381.7" y1="309.8" x2="376.2" y2="315.9" stroke="#d8e640" stroke-width="1.9" stroke-linecap="round"/><line x1="376.2" y1="315.9" x2="370.7" y2="322" stroke="#d07a48" stroke-width="1.9" stroke-linecap="round"/>
<line x1="381.7" y1="309.8" x2="381.7" y2="315.9" stroke="#d8e640" stroke-width="1.9" stroke-linecap="round"/><line x1="381.7" y1="315.9" x2="381.7" y2="322" stroke="#d07a48" stroke-width="1.9" stroke-linecap="round"/>
<line x1="381.7" y1="309.8" x2="386.7" y2="315.9" stroke="#d8e640" stroke-width="1.9" stroke-linecap="round"/><line x1="386.7" y1="315.9" x2="391.7" y2="322" stroke="#d07a48" stroke-width="1.9" stroke-linecap="round"/>
<line x1="381.7" y1="212.9" x2="371.3" y2="216" stroke="#a8a8a8" stroke-width="1.3" stroke-linecap="round"/>
<line x1="361.9" y1="229.6" x2="370.2" y2="228.5" stroke="#a8a8a8" stroke-width="1.3" stroke-linecap="round"/>
<line x1="388" y1="236.9" x2="377.5" y2="240" stroke="#a8a8a8" stroke-width="1.3" stroke-linecap="round"/>
<line x1="361.9" y1="252.5" x2="372.3" y2="252.5" stroke="#a8a8a8" stroke-width="1.3" stroke-linecap="round"/>
<line x1="388.5" y1="260" x2="378.5" y2="262.9" stroke="#a8a8a8" stroke-width="1.3" stroke-linecap="round"/>
<line x1="361.9" y1="275.4" x2="372.3" y2="275" stroke="#a8a8a8" stroke-width="1.3" stroke-linecap="round"/>
<line x1="393.1" y1="283.8" x2="383.8" y2="283.8" stroke="#a8a8a8" stroke-width="1.3" stroke-linecap="round"/>
<line x1="369.2" y1="292.1" x2="378.5" y2="293.1" stroke="#a8a8a8" stroke-width="1.3" stroke-linecap="round"/>
<line x1="323.8" y1="294.5" x2="323.8" y2="320" stroke="#9a9a9a" stroke-width="1.8" stroke-linecap="round"/><line x1="323.8" y1="294.5" x2="323.8" y2="320" stroke="#e2e2e2" stroke-width="0.76" stroke-linecap="round"/>
<line x1="342.9" y1="295.2" x2="342.9" y2="320" stroke="#9a9a9a" stroke-width="1.8" stroke-linecap="round"/><line x1="342.9" y1="295.2" x2="342.9" y2="320" stroke="#e2e2e2" stroke-width="0.76" stroke-linecap="round"/>
<circle cx="241.6" cy="323.1" r="4.6" fill="url(#gCu)"/>
<circle cx="253.4" cy="323.1" r="4.6" fill="url(#gCu)"/>
<circle cx="262.1" cy="323.1" r="4.6" fill="url(#gCu)"/>
<circle cx="274.4" cy="323.1" r="4.6" fill="url(#gCu)"/>
<circle cx="282.8" cy="323.1" r="4.6" fill="url(#gCu)"/>
<circle cx="294.1" cy="323.1" r="4.6" fill="url(#gCu)"/>
<circle cx="304.6" cy="323.1" r="4.6" fill="url(#gCu)"/>
<circle cx="315.1" cy="323.1" r="4.6" fill="url(#gCu)"/>
<circle cx="325.6" cy="323.1" r="4.6" fill="url(#gCu)"/>
<circle cx="336.2" cy="323.1" r="4.6" fill="url(#gCu)"/>
<circle cx="345.4" cy="323.1" r="4.6" fill="url(#gCu)"/>
<circle cx="356.4" cy="323.1" r="4.6" fill="url(#gCu)"/>
<circle cx="365.6" cy="323.1" r="4.6" fill="url(#gCu)"/>
<circle cx="376.9" cy="323.1" r="4.6" fill="url(#gCu)"/>
<circle cx="386.1" cy="323.1" r="4.6" fill="url(#gCu)"/>
<circle cx="398.4" cy="323.1" r="4.6" fill="url(#gCu)"/>
<circle cx="403.2" cy="323.1" r="4.6" fill="url(#gCu)"/>
<circle cx="257.5" cy="219.1" r="1.7" fill="url(#gH)"/>
<circle cx="237.3" cy="230.4" r="1.7" fill="url(#gH)"/>
<circle cx="264.2" cy="240.4" r="1.7" fill="url(#gH)"/>
<circle cx="238.5" cy="252.8" r="1.7" fill="url(#gH)"/>
<circle cx="265.4" cy="264" r="1.7" fill="url(#gH)"/>
<circle cx="238.5" cy="275.2" r="1.7" fill="url(#gH)"/>
<circle cx="265.4" cy="287.5" r="1.7" fill="url(#gH)"/>
<circle cx="245.2" cy="292.7" r="1.7" fill="url(#gH)"/>
<circle cx="247" cy="220.3" r="2.6" fill="url(#gC)"/>
<circle cx="246.5" cy="229.7" r="2.6" fill="url(#gC)"/>
<circle cx="253.5" cy="240.5" r="2.6" fill="url(#gC)"/>
<circle cx="248" cy="252.3" r="2.6" fill="url(#gC)"/>
<circle cx="254.3" cy="263.7" r="2.6" fill="url(#gC)"/>
<circle cx="248.5" cy="275.3" r="2.6" fill="url(#gC)"/>
<circle cx="254.5" cy="288" r="2.6" fill="url(#gC)"/>
<circle cx="254" cy="293.5" r="2.6" fill="url(#gC)"/>
<circle cx="275.2" cy="222.3" r="1.7" fill="url(#gH)"/>
<circle cx="299.2" cy="206.7" r="1.7" fill="url(#gH)"/>
<circle cx="276.3" cy="246.3" r="1.7" fill="url(#gH)"/>
<circle cx="292.9" cy="259.8" r="1.7" fill="url(#gH)"/>
<circle cx="274.2" cy="270.2" r="1.7" fill="url(#gH)"/>
<circle cx="289.8" cy="272.3" r="1.7" fill="url(#gH)"/>
<circle cx="276.3" cy="285.8" r="1.7" fill="url(#gH)"/>
<circle cx="281.5" cy="297.3" r="1.7" fill="url(#gH)"/>
<circle cx="290.8" cy="214" r="2.6" fill="url(#gC)"/>
<circle cx="283.5" cy="223.3" r="2.6" fill="url(#gC)"/>
<circle cx="288.8" cy="235.8" r="2.6" fill="url(#gC)"/>
<circle cx="283.5" cy="247.3" r="2.6" fill="url(#gC)"/>
<circle cx="286.7" cy="259.8" r="2.6" fill="url(#gC)"/>
<circle cx="281.5" cy="270.2" r="2.6" fill="url(#gC)"/>
<circle cx="284.6" cy="282.7" r="2.6" fill="url(#gC)"/>
<circle cx="288.8" cy="293.1" r="2.6" fill="url(#gC)"/>
<circle cx="299.2" cy="217.1" r="1.7" fill="url(#gH)"/>
<circle cx="313.8" cy="262.9" r="1.7" fill="url(#gH)"/>
<circle cx="290.8" cy="281.7" r="1.7" fill="url(#gH)"/>
<circle cx="313.8" cy="282.7" r="1.7" fill="url(#gH)"/>
<circle cx="296" cy="291" r="1.7" fill="url(#gH)"/>
<circle cx="308" cy="247" r="1.7" fill="url(#gH)"/>
<circle cx="306" cy="238" r="1.7" fill="url(#gH)"/>
<circle cx="290.8" cy="214" r="2.6" fill="url(#gC)"/>
<circle cx="297.1" cy="226.5" r="2.6" fill="url(#gC)"/>
<circle cx="298.1" cy="237.9" r="2.6" fill="url(#gC)"/>
<circle cx="302.3" cy="248.3" r="2.6" fill="url(#gC)"/>
<circle cx="304.4" cy="260.8" r="2.6" fill="url(#gC)"/>
<circle cx="297.1" cy="272.3" r="2.6" fill="url(#gC)"/>
<circle cx="305.4" cy="283.8" r="2.6" fill="url(#gC)"/>
<circle cx="298.1" cy="294.2" r="2.6" fill="url(#gC)"/>
<circle cx="345" cy="211.9" r="1.7" fill="url(#gH)"/>
<circle cx="324.2" cy="227.5" r="1.7" fill="url(#gH)"/>
<circle cx="348.1" cy="235.8" r="1.7" fill="url(#gH)"/>
<circle cx="326.2" cy="249.4" r="1.7" fill="url(#gH)"/>
<circle cx="352" cy="259" r="1.7" fill="url(#gH)"/>
<circle cx="356.7" cy="285.8" r="1.7" fill="url(#gH)"/>
<circle cx="332.5" cy="291" r="1.7" fill="url(#gH)"/>
<circle cx="355" cy="271" r="1.7" fill="url(#gH)"/>
<circle cx="335.6" cy="214" r="2.6" fill="url(#gC)"/>
<circle cx="333.5" cy="225.4" r="2.6" fill="url(#gC)"/>
<circle cx="340.8" cy="236.9" r="2.6" fill="url(#gC)"/>
<circle cx="336.7" cy="248.3" r="2.6" fill="url(#gC)"/>
<circle cx="341.9" cy="260.8" r="2.6" fill="url(#gC)"/>
<circle cx="345" cy="271.3" r="2.6" fill="url(#gC)"/>
<circle cx="348.1" cy="281.7" r="2.6" fill="url(#gC)"/>
<circle cx="338.8" cy="292.1" r="2.6" fill="url(#gC)"/>
<circle cx="383.5" cy="214" r="1.7" fill="url(#gH)"/>
<circle cx="363.5" cy="233" r="1.7" fill="url(#gH)"/>
<circle cx="390.5" cy="243" r="1.7" fill="url(#gH)"/>
<circle cx="365" cy="257" r="1.7" fill="url(#gH)"/>
<circle cx="391" cy="266" r="1.7" fill="url(#gH)"/>
<circle cx="366" cy="280" r="1.7" fill="url(#gH)"/>
<circle cx="395" cy="288" r="1.7" fill="url(#gH)"/>
<circle cx="371.5" cy="297" r="1.7" fill="url(#gH)"/>
<circle cx="374.3" cy="220" r="2.6" fill="url(#gC)"/>
<circle cx="373.2" cy="232.5" r="2.6" fill="url(#gC)"/>
<circle cx="380.5" cy="244" r="2.6" fill="url(#gC)"/>
<circle cx="375.3" cy="256.5" r="2.6" fill="url(#gC)"/>
<circle cx="381.5" cy="266.9" r="2.6" fill="url(#gC)"/>
<circle cx="375.3" cy="279" r="2.6" fill="url(#gC)"/>
<circle cx="386.8" cy="287.8" r="2.6" fill="url(#gC)"/>
<circle cx="381.5" cy="297.1" r="2.6" fill="url(#gC)"/>
<circle cx="381.7" cy="212.9" r="1.7" fill="url(#gH)"/>
<circle cx="361.9" cy="229.6" r="1.7" fill="url(#gH)"/>
<circle cx="388" cy="236.9" r="1.7" fill="url(#gH)"/>
<circle cx="361.9" cy="252.5" r="1.7" fill="url(#gH)"/>
<circle cx="388.5" cy="260" r="1.7" fill="url(#gH)"/>
<circle cx="361.9" cy="275.4" r="1.7" fill="url(#gH)"/>
<circle cx="393.1" cy="283.8" r="1.7" fill="url(#gH)"/>
<circle cx="369.2" cy="292.1" r="1.7" fill="url(#gH)"/>
<circle cx="371.3" cy="216" r="2.6" fill="url(#gC)"/>
<circle cx="370.2" cy="228.5" r="2.6" fill="url(#gC)"/>
<circle cx="377.5" cy="240" r="2.6" fill="url(#gC)"/>
<circle cx="372.3" cy="252.5" r="2.6" fill="url(#gC)"/>
<circle cx="378.5" cy="262.9" r="2.6" fill="url(#gC)"/>
<circle cx="372.3" cy="275" r="2.6" fill="url(#gC)"/>
<circle cx="383.8" cy="283.8" r="2.6" fill="url(#gC)"/>
<circle cx="378.5" cy="293.1" r="2.6" fill="url(#gC)"/>
<circle cx="238.9" cy="206.4" r="3.7" fill="url(#gS)"/>
<circle cx="258" cy="310.3" r="3.7" fill="url(#gS)"/>
<circle cx="277.3" cy="209.8" r="3.7" fill="url(#gS)"/>
<circle cx="294.6" cy="305" r="3.7" fill="url(#gS)"/>
<circle cx="296.7" cy="202.1" r="3.7" fill="url(#gS)"/>
<circle cx="308.1" cy="308.3" r="3.7" fill="url(#gS)"/>
<circle cx="326.7" cy="200.4" r="3.7" fill="url(#gS)"/>
<circle cx="344" cy="308.8" r="3.7" fill="url(#gS)"/>
<circle cx="363.5" cy="206.5" r="3.7" fill="url(#gS)"/>
<circle cx="385.8" cy="308.8" r="3.7" fill="url(#gS)"/>
<circle cx="362.9" cy="205" r="3.7" fill="url(#gS)"/>
<circle cx="381.7" cy="309.8" r="3.7" fill="url(#gS)"/>
<circle cx="323.8" cy="304.6" r="2.5" fill="url(#gC)"/>
<circle cx="323.8" cy="294.5" r="2.6" fill="url(#gO)"/>
<circle cx="342.9" cy="304.6" r="2.5" fill="url(#gC)"/>
<circle cx="342.9" cy="295.2" r="2.6" fill="url(#gO)"/>
<rect x="475.6" y="8.7" width="202.6" height="143.9" fill="none" stroke="#3a3a3a" stroke-width="1.2"/>
<line x1="475.6" y1="152.6" x2="475.6" y2="155.6" stroke="#231f20" stroke-width="1" />
<text x="475.6" y="164.5" font-size="8.6" text-anchor="middle" fill="#231f20" font-weight="normal"  stroke="#231f20" stroke-width="0.12">0.0</text>
<line x1="485.73" y1="152.6" x2="485.73" y2="154.4" stroke="#231f20" stroke-width="1" />
<line x1="495.85" y1="152.6" x2="495.85" y2="155.6" stroke="#231f20" stroke-width="1" />
<text x="495.85" y="164.5" font-size="8.6" text-anchor="middle" fill="#231f20" font-weight="normal"  stroke="#231f20" stroke-width="0.12">0.1</text>
<line x1="505.98" y1="152.6" x2="505.98" y2="154.4" stroke="#231f20" stroke-width="1" />
<line x1="516.1" y1="152.6" x2="516.1" y2="155.6" stroke="#231f20" stroke-width="1" />
<text x="516.1" y="164.5" font-size="8.6" text-anchor="middle" fill="#231f20" font-weight="normal"  stroke="#231f20" stroke-width="0.12">0.2</text>
<line x1="526.23" y1="152.6" x2="526.23" y2="154.4" stroke="#231f20" stroke-width="1" />
<line x1="536.35" y1="152.6" x2="536.35" y2="155.6" stroke="#231f20" stroke-width="1" />
<text x="536.35" y="164.5" font-size="8.6" text-anchor="middle" fill="#231f20" font-weight="normal"  stroke="#231f20" stroke-width="0.12">0.3</text>
<line x1="546.48" y1="152.6" x2="546.48" y2="154.4" stroke="#231f20" stroke-width="1" />
<line x1="556.6" y1="152.6" x2="556.6" y2="155.6" stroke="#231f20" stroke-width="1" />
<text x="556.6" y="164.5" font-size="8.6" text-anchor="middle" fill="#231f20" font-weight="normal"  stroke="#231f20" stroke-width="0.12">0.4</text>
<line x1="566.73" y1="152.6" x2="566.73" y2="154.4" stroke="#231f20" stroke-width="1" />
<line x1="576.85" y1="152.6" x2="576.85" y2="155.6" stroke="#231f20" stroke-width="1" />
<text x="576.85" y="164.5" font-size="8.6" text-anchor="middle" fill="#231f20" font-weight="normal"  stroke="#231f20" stroke-width="0.12">0.5</text>
<line x1="586.98" y1="152.6" x2="586.98" y2="154.4" stroke="#231f20" stroke-width="1" />
<line x1="597.1" y1="152.6" x2="597.1" y2="155.6" stroke="#231f20" stroke-width="1" />
<text x="597.1" y="164.5" font-size="8.6" text-anchor="middle" fill="#231f20" font-weight="normal"  stroke="#231f20" stroke-width="0.12">0.6</text>
<line x1="607.23" y1="152.6" x2="607.23" y2="154.4" stroke="#231f20" stroke-width="1" />
<line x1="617.35" y1="152.6" x2="617.35" y2="155.6" stroke="#231f20" stroke-width="1" />
<text x="617.35" y="164.5" font-size="8.6" text-anchor="middle" fill="#231f20" font-weight="normal"  stroke="#231f20" stroke-width="0.12">0.7</text>
<line x1="627.48" y1="152.6" x2="627.48" y2="154.4" stroke="#231f20" stroke-width="1" />
<line x1="637.6" y1="152.6" x2="637.6" y2="155.6" stroke="#231f20" stroke-width="1" />
<text x="637.6" y="164.5" font-size="8.6" text-anchor="middle" fill="#231f20" font-weight="normal"  stroke="#231f20" stroke-width="0.12">0.8</text>
<line x1="647.73" y1="152.6" x2="647.73" y2="154.4" stroke="#231f20" stroke-width="1" />
<line x1="657.85" y1="152.6" x2="657.85" y2="155.6" stroke="#231f20" stroke-width="1" />
<text x="657.85" y="164.5" font-size="8.6" text-anchor="middle" fill="#231f20" font-weight="normal"  stroke="#231f20" stroke-width="0.12">0.9</text>
<line x1="667.98" y1="152.6" x2="667.98" y2="154.4" stroke="#231f20" stroke-width="1" />
<line x1="678.1" y1="152.6" x2="678.1" y2="155.6" stroke="#231f20" stroke-width="1" />
<text x="678.1" y="164.5" font-size="8.6" text-anchor="middle" fill="#231f20" font-weight="normal"  stroke="#231f20" stroke-width="0.12">1.0</text>
<line x1="472.6" y1="152.5" x2="475.6" y2="152.5" stroke="#231f20" stroke-width="1" />
<text x="471.3" y="155.5" font-size="8.6" text-anchor="end" fill="#231f20" font-weight="normal"  stroke="#231f20" stroke-width="0.12">-2</text>
<line x1="473.8" y1="143.5" x2="475.6" y2="143.5" stroke="#231f20" stroke-width="1" />
<line x1="472.6" y1="134.5" x2="475.6" y2="134.5" stroke="#231f20" stroke-width="1" />
<text x="471.3" y="137.5" font-size="8.6" text-anchor="end" fill="#231f20" font-weight="normal"  stroke="#231f20" stroke-width="0.12">0</text>
<line x1="473.8" y1="125.5" x2="475.6" y2="125.5" stroke="#231f20" stroke-width="1" />
<line x1="472.6" y1="116.5" x2="475.6" y2="116.5" stroke="#231f20" stroke-width="1" />
<text x="471.3" y="119.5" font-size="8.6" text-anchor="end" fill="#231f20" font-weight="normal"  stroke="#231f20" stroke-width="0.12">2</text>
<line x1="473.8" y1="107.5" x2="475.6" y2="107.5" stroke="#231f20" stroke-width="1" />
<line x1="472.6" y1="98.5" x2="475.6" y2="98.5" stroke="#231f20" stroke-width="1" />
<text x="471.3" y="101.5" font-size="8.6" text-anchor="end" fill="#231f20" font-weight="normal"  stroke="#231f20" stroke-width="0.12">4</text>
<line x1="473.8" y1="89.5" x2="475.6" y2="89.5" stroke="#231f20" stroke-width="1" />
<line x1="472.6" y1="80.5" x2="475.6" y2="80.5" stroke="#231f20" stroke-width="1" />
<text x="471.3" y="83.5" font-size="8.6" text-anchor="end" fill="#231f20" font-weight="normal"  stroke="#231f20" stroke-width="0.12">6</text>
<line x1="473.8" y1="71.5" x2="475.6" y2="71.5" stroke="#231f20" stroke-width="1" />
<line x1="472.6" y1="62.5" x2="475.6" y2="62.5" stroke="#231f20" stroke-width="1" />
<text x="471.3" y="65.5" font-size="8.6" text-anchor="end" fill="#231f20" font-weight="normal"  stroke="#231f20" stroke-width="0.12">8</text>
<line x1="473.8" y1="53.5" x2="475.6" y2="53.5" stroke="#231f20" stroke-width="1" />
<line x1="472.6" y1="44.5" x2="475.6" y2="44.5" stroke="#231f20" stroke-width="1" />
<text x="471.3" y="47.5" font-size="8.6" text-anchor="end" fill="#231f20" font-weight="normal"  stroke="#231f20" stroke-width="0.12">10</text>
<line x1="473.8" y1="35.5" x2="475.6" y2="35.5" stroke="#231f20" stroke-width="1" />
<line x1="472.6" y1="26.5" x2="475.6" y2="26.5" stroke="#231f20" stroke-width="1" />
<text x="471.3" y="29.5" font-size="8.6" text-anchor="end" fill="#231f20" font-weight="normal"  stroke="#231f20" stroke-width="0.12">12</text>
<line x1="473.8" y1="17.5" x2="475.6" y2="17.5" stroke="#231f20" stroke-width="1" />
<line x1="472.6" y1="8.5" x2="475.6" y2="8.5" stroke="#231f20" stroke-width="1" />
<text x="471.3" y="11.5" font-size="8.6" text-anchor="end" fill="#231f20" font-weight="normal"  stroke="#231f20" stroke-width="0.12">14</text>
<text x="577.3" y="178.9" font-size="8.8" text-anchor="middle" fill="#231f20" font-weight="normal"  stroke="#231f20" stroke-width="0.12">Potential (E vs RHE)</text>
<text transform="translate(453.2,74.2) rotate(-90)" font-size="9" text-anchor="middle" fill="#231f20" stroke="#231f20" stroke-width="0.12">Current density (mA cm<tspan dy="-3" font-size="5.5">-2</tspan><tspan dy="3">)</tspan></text>
<text x="427" y="12" font-size="15" text-anchor="start" fill="#231f20" font-weight="normal"  stroke="#231f20" stroke-width="0.12">d</text>
<text x="674.3" y="18.7" font-size="7.6" text-anchor="end" fill="#231f20" font-weight="normal"  stroke="#231f20" stroke-width="0.12">CO stripping</text>
<line x1="477.6" y1="15" x2="494.3" y2="15" stroke="#555" stroke-width="1" />
<line x1="477.6" y1="25.9" x2="494.3" y2="25.9" stroke="#4db4ef" stroke-width="1.1" />
<line x1="477.6" y1="37.3" x2="494.3" y2="37.3" stroke="#ee3b3b" stroke-width="1.1" />
<text x="496.9" y="17.6" font-size="7.3" fill="#231f20" stroke="#231f20" stroke-width="0.12">CuO<tspan dy="2" font-size="5">x</tspan></text>
<text x="496.9" y="28.1" font-size="7.3" fill="#231f20" stroke="#231f20" stroke-width="0.12">2-Pyridinemethanethiol-CuO<tspan dy="2" font-size="5">x</tspan></text>
<text x="496.9" y="38.7" font-size="7.3" fill="#231f20" stroke="#231f20" stroke-width="0.12">1,8-Octanedithiol-CuO<tspan dy="2" font-size="5">x</tspan></text>
<path d="M475.6,134.5 C479.67,134.5 491.77,134.58 500,134.5 C508.23,134.42 518.88,134.67 525,134 C531.12,133.33 532.8,133.82 536.7,130.5 C540.6,127.18 544.52,121.12 548.4,114.1 C552.28,107.08 556.12,97.75 560,88.4 C563.88,79.05 568.2,65.4 571.7,58 C575.2,50.6 578.55,46.83 581,44 C583.45,41.17 584.43,40.6 586.4,41 C588.37,41.4 590.97,43.17 592.8,46.4 C594.63,49.63 596.23,55.73 597.4,60.4 C598.57,65.07 598.63,70.32 599.8,74.4 C600.97,78.48 602.07,81.98 604.4,84.9 C606.73,87.82 609.9,89.95 613.8,91.9 C617.7,93.85 622.35,95.32 627.8,96.6 C633.25,97.88 638.13,98.82 646.5,99.6 C654.87,100.38 672.75,101.02 678,101.3" fill="none" stroke="#555" stroke-width="1"/>
<path d="M475.6,134.5 C479.67,134.48 491.77,134.68 500,134.4 C508.23,134.12 518.88,133.65 525,132.8 C531.12,131.95 532.8,131.25 536.7,129.3 C540.6,127.35 544.52,124.8 548.4,121.1 C552.28,117.4 556.12,112.75 560,107.1 C563.88,101.45 568.2,92.65 571.7,87.2 C575.2,81.75 578.38,77.23 581,74.4 C583.62,71.57 585.43,70.2 587.4,70.2 C589.37,70.2 591.53,71.77 592.8,74.4 C594.07,77.03 594.23,80.93 595,86 C595.77,91.07 596.23,99.92 597.4,104.8 C598.57,109.68 599.67,112.97 602,115.3 C604.33,117.63 606.72,117.83 611.4,118.8 C616.08,119.77 619,120.52 630.1,121.1 C641.2,121.68 670.02,122.1 678,122.3" fill="none" stroke="#4db4ef" stroke-width="1.1"/>
<path d="M475.6,134.5 C481.33,134.5 501.77,134.52 510,134.5 C518.23,134.48 520.17,134.68 525,134.4 C529.83,134.12 534.72,133.85 539,132.8 C543.28,131.75 547.2,130.43 550.7,128.1 C554.2,125.77 556.5,123.27 560,118.8 C563.5,114.33 568.58,105.38 571.7,101.3 C574.82,97.22 576.55,95.98 578.7,94.3 C580.85,92.62 582.65,91.2 584.6,91.2 C586.55,91.2 588.27,92.23 590.4,94.3 C592.53,96.37 594.67,100.1 597.4,103.6 C600.13,107.1 603.28,112.18 606.8,115.3 C610.32,118.42 613.43,120.35 618.5,122.3 C623.57,124.25 627.28,125.72 637.2,127 C647.12,128.28 671.2,129.5 678,130" fill="none" stroke="#ee3b3b" stroke-width="1.1"/>
<text x="427" y="195" font-size="15" text-anchor="start" fill="#231f20" font-weight="normal"  stroke="#231f20" stroke-width="0.12">e</text>
<rect x="482.8" y="187.2" width="21.33" height="21.2" fill="#ee2a2e" />
<text x="493.31" y="198.85" font-size="5.6" text-anchor="middle" fill="#fff" font-weight="bold"  stroke="#fff" stroke-width="0.12">1.00</text>
<rect x="503.83" y="187.2" width="21.33" height="21.2" fill="#f8f8f8" />
<text x="514.35" y="198.85" font-size="5.6" text-anchor="middle" fill="#231f20" font-weight="bold"  stroke="#231f20" stroke-width="0.12">0.35</text>
<rect x="524.86" y="187.2" width="21.33" height="21.2" fill="#f8f8f8" />
<text x="535.38" y="198.85" font-size="5.6" text-anchor="middle" fill="#231f20" font-weight="bold"  stroke="#231f20" stroke-width="0.12">-0.04</text>
<rect x="545.89" y="187.2" width="21.33" height="21.2" fill="#a8d9de" />
<text x="556.4" y="198.85" font-size="5.6" text-anchor="middle" fill="#231f20" font-weight="bold"  stroke="#231f20" stroke-width="0.12">-0.51</text>
<rect x="566.92" y="187.2" width="21.33" height="21.2" fill="#f8f8f8" />
<text x="577.44" y="198.85" font-size="5.6" text-anchor="middle" fill="#231f20" font-weight="bold"  stroke="#231f20" stroke-width="0.12">-0.38</text>
<rect x="587.95" y="187.2" width="21.33" height="21.2" fill="#f8f8f8" />
<text x="598.47" y="198.85" font-size="5.6" text-anchor="middle" fill="#231f20" font-weight="bold"  stroke="#231f20" stroke-width="0.12">-0.36</text>
<rect x="608.98" y="187.2" width="21.33" height="21.2" fill="#3f809b" />
<text x="619.5" y="198.85" font-size="5.6" text-anchor="middle" fill="#fff" font-weight="bold"  stroke="#fff" stroke-width="0.12">-0.77</text>
<rect x="630.01" y="187.2" width="21.33" height="21.2" fill="#a8d9de" />
<text x="640.52" y="198.85" font-size="5.6" text-anchor="middle" fill="#231f20" font-weight="bold"  stroke="#231f20" stroke-width="0.12">-0.62</text>
<rect x="482.8" y="208.1" width="21.33" height="21.2" fill="#f8f8f8" />
<text x="493.31" y="219.75" font-size="5.6" text-anchor="middle" fill="#231f20" font-weight="bold"  stroke="#231f20" stroke-width="0.12">0.35</text>
<rect x="503.83" y="208.1" width="21.33" height="21.2" fill="#ee2a2e" />
<text x="514.35" y="219.75" font-size="5.6" text-anchor="middle" fill="#fff" font-weight="bold"  stroke="#fff" stroke-width="0.12">1.00</text>
<rect x="524.86" y="208.1" width="21.33" height="21.2" fill="#f8f8f8" />
<text x="535.38" y="219.75" font-size="5.6" text-anchor="middle" fill="#231f20" font-weight="bold"  stroke="#231f20" stroke-width="0.12">-0.00</text>
<rect x="545.89" y="208.1" width="21.33" height="21.2" fill="#f8f8f8" />
<text x="556.4" y="219.75" font-size="5.6" text-anchor="middle" fill="#231f20" font-weight="bold"  stroke="#231f20" stroke-width="0.12">-0.20</text>
<rect x="566.92" y="208.1" width="21.33" height="21.2" fill="#f8f8f8" />
<text x="577.44" y="219.75" font-size="5.6" text-anchor="middle" fill="#231f20" font-weight="bold"  stroke="#231f20" stroke-width="0.12">-0.15</text>
<rect x="587.95" y="208.1" width="21.33" height="21.2" fill="#a8d9de" />
<text x="598.47" y="219.75" font-size="5.6" text-anchor="middle" fill="#231f20" font-weight="bold"  stroke="#231f20" stroke-width="0.12">-0.51</text>
<rect x="608.98" y="208.1" width="21.33" height="21.2" fill="#a8d9de" />
<text x="619.5" y="219.75" font-size="5.6" text-anchor="middle" fill="#231f20" font-weight="bold"  stroke="#231f20" stroke-width="0.12">-0.69</text>
<rect x="630.01" y="208.1" width="21.33" height="21.2" fill="#a8d9de" />
<text x="640.52" y="219.75" font-size="5.6" text-anchor="middle" fill="#231f20" font-weight="bold"  stroke="#231f20" stroke-width="0.12">-0.60</text>
<rect x="482.8" y="229" width="21.33" height="21.2" fill="#f8f8f8" />
<text x="493.31" y="240.65" font-size="5.6" text-anchor="middle" fill="#231f20" font-weight="bold"  stroke="#231f20" stroke-width="0.12">-0.04</text>
<rect x="503.83" y="229" width="21.33" height="21.2" fill="#f8f8f8" />
<text x="514.35" y="240.65" font-size="5.6" text-anchor="middle" fill="#231f20" font-weight="bold"  stroke="#231f20" stroke-width="0.12">-0.00</text>
<rect x="524.86" y="229" width="21.33" height="21.2" fill="#ee2a2e" />
<text x="535.38" y="240.65" font-size="5.6" text-anchor="middle" fill="#fff" font-weight="bold"  stroke="#fff" stroke-width="0.12">1.00</text>
<rect x="545.89" y="229" width="21.33" height="21.2" fill="#f8f8f8" />
<text x="556.4" y="240.65" font-size="5.6" text-anchor="middle" fill="#231f20" font-weight="bold"  stroke="#231f20" stroke-width="0.12">-0.00</text>
<rect x="566.92" y="229" width="21.33" height="21.2" fill="#f8f8f8" />
<text x="577.44" y="240.65" font-size="5.6" text-anchor="middle" fill="#231f20" font-weight="bold"  stroke="#231f20" stroke-width="0.12">-0.14</text>
<rect x="587.95" y="229" width="21.33" height="21.2" fill="#f8f8f8" />
<text x="598.47" y="240.65" font-size="5.6" text-anchor="middle" fill="#231f20" font-weight="bold"  stroke="#231f20" stroke-width="0.12">-0.18</text>
<rect x="608.98" y="229" width="21.33" height="21.2" fill="#f8f8f8" />
<text x="619.5" y="240.65" font-size="5.6" text-anchor="middle" fill="#231f20" font-weight="bold"  stroke="#231f20" stroke-width="0.12">0.04</text>
<rect x="630.01" y="229" width="21.33" height="21.2" fill="#f8f8f8" />
<text x="640.52" y="240.65" font-size="5.6" text-anchor="middle" fill="#231f20" font-weight="bold"  stroke="#231f20" stroke-width="0.12">0.05</text>
<rect x="482.8" y="249.9" width="21.33" height="21.2" fill="#a8d9de" />
<text x="493.31" y="261.55" font-size="5.6" text-anchor="middle" fill="#231f20" font-weight="bold"  stroke="#231f20" stroke-width="0.12">-0.51</text>
<rect x="503.83" y="249.9" width="21.33" height="21.2" fill="#f8f8f8" />
<text x="514.35" y="261.55" font-size="5.6" text-anchor="middle" fill="#231f20" font-weight="bold"  stroke="#231f20" stroke-width="0.12">-0.20</text>
<rect x="524.86" y="249.9" width="21.33" height="21.2" fill="#f8f8f8" />
<text x="535.38" y="261.55" font-size="5.6" text-anchor="middle" fill="#231f20" font-weight="bold"  stroke="#231f20" stroke-width="0.12">-0.00</text>
<rect x="545.89" y="249.9" width="21.33" height="21.2" fill="#ee2a2e" />
<text x="556.4" y="261.55" font-size="5.6" text-anchor="middle" fill="#fff" font-weight="bold"  stroke="#fff" stroke-width="0.12">1.00</text>
<rect x="566.92" y="249.9" width="21.33" height="21.2" fill="#f8f8f8" />
<text x="577.44" y="261.55" font-size="5.6" text-anchor="middle" fill="#231f20" font-weight="bold"  stroke="#231f20" stroke-width="0.12">0.11</text>
<rect x="587.95" y="249.9" width="21.33" height="21.2" fill="#f8f8f8" />
<text x="598.47" y="261.55" font-size="5.6" text-anchor="middle" fill="#231f20" font-weight="bold"  stroke="#231f20" stroke-width="0.12">0.08</text>
<rect x="608.98" y="249.9" width="21.33" height="21.2" fill="#f8f8f8" />
<text x="619.5" y="261.55" font-size="5.6" text-anchor="middle" fill="#231f20" font-weight="bold"  stroke="#231f20" stroke-width="0.12">0.18</text>
<rect x="630.01" y="249.9" width="21.33" height="21.2" fill="#f8f8f8" />
<text x="640.52" y="261.55" font-size="5.6" text-anchor="middle" fill="#231f20" font-weight="bold"  stroke="#231f20" stroke-width="0.12">-0.05</text>
<rect x="482.8" y="270.8" width="21.33" height="21.2" fill="#f8f8f8" />
<text x="493.31" y="282.45" font-size="5.6" text-anchor="middle" fill="#231f20" font-weight="bold"  stroke="#231f20" stroke-width="0.12">-0.38</text>
<rect x="503.83" y="270.8" width="21.33" height="21.2" fill="#f8f8f8" />
<text x="514.35" y="282.45" font-size="5.6" text-anchor="middle" fill="#231f20" font-weight="bold"  stroke="#231f20" stroke-width="0.12">-0.15</text>
<rect x="524.86" y="270.8" width="21.33" height="21.2" fill="#f8f8f8" />
<text x="535.38" y="282.45" font-size="5.6" text-anchor="middle" fill="#231f20" font-weight="bold"  stroke="#231f20" stroke-width="0.12">-0.14</text>
<rect x="545.89" y="270.8" width="21.33" height="21.2" fill="#f8f8f8" />
<text x="556.4" y="282.45" font-size="5.6" text-anchor="middle" fill="#231f20" font-weight="bold"  stroke="#231f20" stroke-width="0.12">0.11</text>
<rect x="566.92" y="270.8" width="21.33" height="21.2" fill="#ee2a2e" />
<text x="577.44" y="282.45" font-size="5.6" text-anchor="middle" fill="#fff" font-weight="bold"  stroke="#fff" stroke-width="0.12">1.00</text>
<rect x="587.95" y="270.8" width="21.33" height="21.2" fill="#f8f8f8" />
<text x="598.47" y="282.45" font-size="5.6" text-anchor="middle" fill="#231f20" font-weight="bold"  stroke="#231f20" stroke-width="0.12">0.18</text>
<rect x="608.98" y="270.8" width="21.33" height="21.2" fill="#f8f8f8" />
<text x="619.5" y="282.45" font-size="5.6" text-anchor="middle" fill="#231f20" font-weight="bold"  stroke="#231f20" stroke-width="0.12">0.27</text>
<rect x="630.01" y="270.8" width="21.33" height="21.2" fill="#f8f8f8" />
<text x="640.52" y="282.45" font-size="5.6" text-anchor="middle" fill="#231f20" font-weight="bold"  stroke="#231f20" stroke-width="0.12">0.32</text>
<rect x="482.8" y="291.7" width="21.33" height="21.2" fill="#f8f8f8" />
<text x="493.31" y="303.35" font-size="5.6" text-anchor="middle" fill="#231f20" font-weight="bold"  stroke="#231f20" stroke-width="0.12">-0.36</text>
<rect x="503.83" y="291.7" width="21.33" height="21.2" fill="#a8d9de" />
<text x="514.35" y="303.35" font-size="5.6" text-anchor="middle" fill="#231f20" font-weight="bold"  stroke="#231f20" stroke-width="0.12">-0.51</text>
<rect x="524.86" y="291.7" width="21.33" height="21.2" fill="#f8f8f8" />
<text x="535.38" y="303.35" font-size="5.6" text-anchor="middle" fill="#231f20" font-weight="bold"  stroke="#231f20" stroke-width="0.12">-0.18</text>
<rect x="545.89" y="291.7" width="21.33" height="21.2" fill="#f8f8f8" />
<text x="556.4" y="303.35" font-size="5.6" text-anchor="middle" fill="#231f20" font-weight="bold"  stroke="#231f20" stroke-width="0.12">0.08</text>
<rect x="566.92" y="291.7" width="21.33" height="21.2" fill="#f8f8f8" />
<text x="577.44" y="303.35" font-size="5.6" text-anchor="middle" fill="#231f20" font-weight="bold"  stroke="#231f20" stroke-width="0.12">0.18</text>
<rect x="587.95" y="291.7" width="21.33" height="21.2" fill="#ee2a2e" />
<text x="598.47" y="303.35" font-size="5.6" text-anchor="middle" fill="#fff" font-weight="bold"  stroke="#fff" stroke-width="0.12">1.00</text>
<rect x="608.98" y="291.7" width="21.33" height="21.2" fill="#e8a0a8" />
<text x="619.5" y="303.35" font-size="5.6" text-anchor="middle" fill="#fff" font-weight="bold"  stroke="#fff" stroke-width="0.12">0.44</text>
<rect x="630.01" y="291.7" width="21.33" height="21.2" fill="#e8a0a8" />
<text x="640.52" y="303.35" font-size="5.6" text-anchor="middle" fill="#fff" font-weight="bold"  stroke="#fff" stroke-width="0.12">0.49</text>
<rect x="482.8" y="312.6" width="21.33" height="21.2" fill="#3f809b" />
<text x="493.31" y="324.25" font-size="5.6" text-anchor="middle" fill="#fff" font-weight="bold"  stroke="#fff" stroke-width="0.12">-0.77</text>
<rect x="503.83" y="312.6" width="21.33" height="21.2" fill="#a8d9de" />
<text x="514.35" y="324.25" font-size="5.6" text-anchor="middle" fill="#231f20" font-weight="bold"  stroke="#231f20" stroke-width="0.12">-0.69</text>
<rect x="524.86" y="312.6" width="21.33" height="21.2" fill="#f8f8f8" />
<text x="535.38" y="324.25" font-size="5.6" text-anchor="middle" fill="#231f20" font-weight="bold"  stroke="#231f20" stroke-width="0.12">0.04</text>
<rect x="545.89" y="312.6" width="21.33" height="21.2" fill="#f8f8f8" />
<text x="556.4" y="324.25" font-size="5.6" text-anchor="middle" fill="#231f20" font-weight="bold"  stroke="#231f20" stroke-width="0.12">0.18</text>
<rect x="566.92" y="312.6" width="21.33" height="21.2" fill="#f8f8f8" />
<text x="577.44" y="324.25" font-size="5.6" text-anchor="middle" fill="#231f20" font-weight="bold"  stroke="#231f20" stroke-width="0.12">0.27</text>
<rect x="587.95" y="312.6" width="21.33" height="21.2" fill="#e8a0a8" />
<text x="598.47" y="324.25" font-size="5.6" text-anchor="middle" fill="#fff" font-weight="bold"  stroke="#fff" stroke-width="0.12">0.44</text>
<rect x="608.98" y="312.6" width="21.33" height="21.2" fill="#ee2a2e" />
<text x="619.5" y="324.25" font-size="5.6" text-anchor="middle" fill="#fff" font-weight="bold"  stroke="#fff" stroke-width="0.12">1.00</text>
<rect x="630.01" y="312.6" width="21.33" height="21.2" fill="#ee2a2e" />
<text x="640.52" y="324.25" font-size="5.6" text-anchor="middle" fill="#fff" font-weight="bold"  stroke="#fff" stroke-width="0.12">0.80</text>
<rect x="482.8" y="333.5" width="21.33" height="21.2" fill="#a8d9de" />
<text x="493.31" y="345.15" font-size="5.6" text-anchor="middle" fill="#231f20" font-weight="bold"  stroke="#231f20" stroke-width="0.12">-0.62</text>
<rect x="503.83" y="333.5" width="21.33" height="21.2" fill="#a8d9de" />
<text x="514.35" y="345.15" font-size="5.6" text-anchor="middle" fill="#231f20" font-weight="bold"  stroke="#231f20" stroke-width="0.12">-0.60</text>
<rect x="524.86" y="333.5" width="21.33" height="21.2" fill="#f8f8f8" />
<text x="535.38" y="345.15" font-size="5.6" text-anchor="middle" fill="#231f20" font-weight="bold"  stroke="#231f20" stroke-width="0.12">0.05</text>
<rect x="545.89" y="333.5" width="21.33" height="21.2" fill="#f8f8f8" />
<text x="556.4" y="345.15" font-size="5.6" text-anchor="middle" fill="#231f20" font-weight="bold"  stroke="#231f20" stroke-width="0.12">-0.05</text>
<rect x="566.92" y="333.5" width="21.33" height="21.2" fill="#f8f8f8" />
<text x="577.44" y="345.15" font-size="5.6" text-anchor="middle" fill="#231f20" font-weight="bold"  stroke="#231f20" stroke-width="0.12">0.32</text>
<rect x="587.95" y="333.5" width="21.33" height="21.2" fill="#e8a0a8" />
<text x="598.47" y="345.15" font-size="5.6" text-anchor="middle" fill="#fff" font-weight="bold"  stroke="#fff" stroke-width="0.12">0.49</text>
<rect x="608.98" y="333.5" width="21.33" height="21.2" fill="#ee2a2e" />
<text x="619.5" y="345.15" font-size="5.6" text-anchor="middle" fill="#fff" font-weight="bold"  stroke="#fff" stroke-width="0.12">0.80</text>
<rect x="630.01" y="333.5" width="21.33" height="21.2" fill="#ee2a2e" />
<text x="640.52" y="345.15" font-size="5.6" text-anchor="middle" fill="#fff" font-weight="bold"  stroke="#fff" stroke-width="0.12">1.00</text>
<line x1="651.3" y1="197.65" x2="653.1" y2="197.65" stroke="#231f20" stroke-width="0.7" />
<text x="654.6" y="199.65" font-size="5" font-weight="bold" fill="#231f20" stroke="#231f20" stroke-width="0.12">FE-H<tspan dy="1.5" font-size="3.8">2</tspan></text>
<line x1="651.3" y1="218.55" x2="653.1" y2="218.55" stroke="#231f20" stroke-width="0.7" />
<text x="654.6" y="220.55" font-size="5" font-weight="bold" fill="#231f20" stroke="#231f20" stroke-width="0.12">FE-formate</text>
<line x1="651.3" y1="239.45" x2="653.1" y2="239.45" stroke="#231f20" stroke-width="0.7" />
<text x="654.6" y="241.45" font-size="5" font-weight="bold" fill="#231f20" stroke="#231f20" stroke-width="0.12">FE-n-PrOH</text>
<line x1="651.3" y1="260.35" x2="653.1" y2="260.35" stroke="#231f20" stroke-width="0.7" />
<text x="654.6" y="262.35" font-size="5" font-weight="bold" fill="#231f20" stroke="#231f20" stroke-width="0.12">FE-CO</text>
<line x1="651.3" y1="281.25" x2="653.1" y2="281.25" stroke="#231f20" stroke-width="0.7" />
<text x="654.6" y="283.25" font-size="5" font-weight="bold" fill="#231f20" stroke="#231f20" stroke-width="0.12">FE-acetate</text>
<line x1="651.3" y1="302.15" x2="653.1" y2="302.15" stroke="#231f20" stroke-width="0.7" />
<text x="654.6" y="304.15" font-size="5" font-weight="bold" fill="#231f20" stroke="#231f20" stroke-width="0.12">FE-CH<tspan dy="1.5" font-size="3.8">4</tspan></text>
<line x1="651.3" y1="323.05" x2="653.1" y2="323.05" stroke="#231f20" stroke-width="0.7" />
<text x="654.6" y="325.05" font-size="5" font-weight="bold" fill="#231f20" stroke="#231f20" stroke-width="0.12">FE-C<tspan dy="1.5" font-size="3.8">2</tspan><tspan dy="-1.5">H</tspan><tspan dy="1.5" font-size="3.8">4</tspan></text>
<line x1="651.3" y1="343.95" x2="653.1" y2="343.95" stroke="#231f20" stroke-width="0.7" />
<text x="654.6" y="345.95" font-size="5" font-weight="bold" fill="#231f20" stroke="#231f20" stroke-width="0.12">FE-EtOH</text>
<line x1="493.31" y1="354.3" x2="493.31" y2="356.2" stroke="#231f20" stroke-width="0.7" />
<text transform="translate(495.31,357.5) rotate(-90)" font-size="5" font-weight="bold" text-anchor="end" fill="#231f20" stroke="#231f20" stroke-width="0.12">FE-H<tspan dy="1.5" font-size="3.8">2</tspan></text>
<line x1="514.35" y1="354.3" x2="514.35" y2="356.2" stroke="#231f20" stroke-width="0.7" />
<text transform="translate(516.35,357.5) rotate(-90)" font-size="5" font-weight="bold" text-anchor="end" fill="#231f20" stroke="#231f20" stroke-width="0.12">FE-formate</text>
<line x1="535.38" y1="354.3" x2="535.38" y2="356.2" stroke="#231f20" stroke-width="0.7" />
<text transform="translate(537.38,357.5) rotate(-90)" font-size="5" font-weight="bold" text-anchor="end" fill="#231f20" stroke="#231f20" stroke-width="0.12">FE-n-PrOH</text>
<line x1="556.4" y1="354.3" x2="556.4" y2="356.2" stroke="#231f20" stroke-width="0.7" />
<text transform="translate(558.4,357.5) rotate(-90)" font-size="5" font-weight="bold" text-anchor="end" fill="#231f20" stroke="#231f20" stroke-width="0.12">FE-CO</text>
<line x1="577.44" y1="354.3" x2="577.44" y2="356.2" stroke="#231f20" stroke-width="0.7" />
<text transform="translate(579.44,357.5) rotate(-90)" font-size="5" font-weight="bold" text-anchor="end" fill="#231f20" stroke="#231f20" stroke-width="0.12">FE-acetate</text>
<line x1="598.47" y1="354.3" x2="598.47" y2="356.2" stroke="#231f20" stroke-width="0.7" />
<text transform="translate(600.47,357.5) rotate(-90)" font-size="5" font-weight="bold" text-anchor="end" fill="#231f20" stroke="#231f20" stroke-width="0.12">FE-CH<tspan dy="1.5" font-size="3.8">4</tspan></text>
<line x1="619.5" y1="354.3" x2="619.5" y2="356.2" stroke="#231f20" stroke-width="0.7" />
<text transform="translate(621.5,357.5) rotate(-90)" font-size="5" font-weight="bold" text-anchor="end" fill="#231f20" stroke="#231f20" stroke-width="0.12">FE-C<tspan dy="1.5" font-size="3.8">2</tspan><tspan dy="-1.5">H</tspan><tspan dy="1.5" font-size="3.8">4</tspan></text>
<line x1="640.53" y1="354.3" x2="640.53" y2="356.2" stroke="#231f20" stroke-width="0.7" />
<text transform="translate(642.53,357.5) rotate(-90)" font-size="5" font-weight="bold" text-anchor="end" fill="#231f20" stroke="#231f20" stroke-width="0.12">FE-EtOH</text>
<polyline points="483,197.65 467.5,197.65 467.5,218.55 483,218.55" stroke="#555" stroke-width="0.9" fill="none"/>
<polyline points="483,323.05 476.7,323.05 476.7,343.95 483,343.95" stroke="#555" stroke-width="0.9" fill="none"/>
<polyline points="483,302.15 468.3,302.15 468.3,333.5 476.7,333.5" stroke="#555" stroke-width="0.9" fill="none"/>
<polyline points="483,281.25 463.5,281.25 463.5,317.82 468.3,317.82" stroke="#555" stroke-width="0.9" fill="none"/>
<polyline points="483,260.35 459.6,260.35 459.6,299.54 463.5,299.54" stroke="#555" stroke-width="0.9" fill="none"/>
<polyline points="483,239.45 455.2,239.45 455.2,279.94 459.6,279.94" stroke="#555" stroke-width="0.9" fill="none"/>
<polyline points="467.5,208.1 442.7,208.1 442.7,259.7 455.2,259.7" stroke="#555" stroke-width="0.9" fill="none"/>
<rect x="170.3" y="408.7" width="18.1" height="9.2" fill="#f2b2e6" />
<text x="191.1" y="416.4" font-size="8.4" fill="#231f20" stroke="#231f20" stroke-width="0.12">PrOH</text>
<rect x="215.8" y="408.7" width="18.1" height="9.2" fill="#f0969c" />
<text x="236.6" y="416.4" font-size="8.4" fill="#231f20" stroke="#231f20" stroke-width="0.12">acetate</text>
<rect x="267.9" y="408.7" width="18.1" height="9.2" fill="#f4616b" />
<text x="288.7" y="416.4" font-size="8.4" fill="#231f20" stroke="#231f20" stroke-width="0.12">EtOH</text>
<rect x="312.9" y="408.7" width="18.1" height="9.2" fill="#e0c46c" />
<text x="333.7" y="416.4" font-size="8.4" fill="#231f20" stroke="#231f20" stroke-width="0.12">C<tspan dy="2" font-size="5.5">2</tspan><tspan dy="-2">H</tspan><tspan dy="2" font-size="5.5">4</tspan></text>
<rect x="355.8" y="408.7" width="18.1" height="9.2" fill="#8c9ff5" />
<text x="376.6" y="416.4" font-size="8.4" fill="#231f20" stroke="#231f20" stroke-width="0.12">formate</text>
<rect x="408.4" y="408.7" width="18.1" height="9.2" fill="#dcb8f8" />
<text x="429.2" y="416.4" font-size="8.4" fill="#231f20" stroke="#231f20" stroke-width="0.12">CH<tspan dy="2" font-size="5.5">4</tspan></text>
<rect x="447.9" y="408.7" width="18.1" height="9.2" fill="#bc73f6" />
<text x="468.7" y="416.4" font-size="8.4" fill="#231f20" stroke="#231f20" stroke-width="0.12">CO</text>
<rect x="487.8" y="408.7" width="18.1" height="9.2" fill="#c8c8c8" />
<text x="508.6" y="416.4" font-size="8.4" fill="#231f20" stroke="#231f20" stroke-width="0.12">H<tspan dy="2" font-size="5.5">2</tspan></text>
<rect x="47" y="573.4" width="19.2" height="22.6" fill="#c8c8c8" />
<rect x="47" y="529.3" width="19.2" height="44.1" fill="#bc73f6" />
<rect x="47" y="528.6" width="19.2" height="0.7" fill="#dcb8f8" />
<rect x="47" y="517.7" width="19.2" height="10.9" fill="#8c9ff5" />
<rect x="47" y="483.8" width="19.2" height="33.9" fill="#e0c46c" />
<rect x="47" y="474.2" width="19.2" height="9.6" fill="#f4616b" />
<rect x="47" y="472.1" width="19.2" height="2.1" fill="#f0969c" />
<rect x="47" y="467.9" width="19.2" height="4.2" fill="#f2b2e6" />
<rect x="94.65" y="573.9" width="19.2" height="22.1" fill="#c8c8c8" />
<rect x="94.65" y="544.5" width="19.2" height="29.4" fill="#bc73f6" />
<rect x="94.65" y="543.2" width="19.2" height="1.3" fill="#dcb8f8" />
<rect x="94.65" y="537" width="19.2" height="6.2" fill="#8c9ff5" />
<rect x="94.65" y="491.8" width="19.2" height="45.2" fill="#e0c46c" />
<rect x="94.65" y="475.8" width="19.2" height="16" fill="#f4616b" />
<rect x="94.65" y="474.2" width="19.2" height="1.6" fill="#f0969c" />
<rect x="94.65" y="468.2" width="19.2" height="6" fill="#f2b2e6" />
<rect x="142.1" y="579" width="19.2" height="17" fill="#c8c8c8" />
<rect x="142.1" y="511.9" width="19.2" height="67.1" fill="#e0c46c" />
<rect x="142.1" y="487.8" width="19.2" height="24.1" fill="#f4616b" />
<rect x="142.1" y="481.1" width="19.2" height="6.7" fill="#f0969c" />
<rect x="142.1" y="471" width="19.2" height="10.1" fill="#f2b2e6" />
<rect x="189.75" y="582" width="19.2" height="14" fill="#c8c8c8" />
<rect x="189.75" y="518" width="19.2" height="64" fill="#e0c46c" />
<rect x="189.75" y="486.7" width="19.2" height="31.3" fill="#f4616b" />
<rect x="189.75" y="474.2" width="19.2" height="12.5" fill="#f0969c" />
<rect x="189.75" y="466.6" width="19.2" height="7.6" fill="#f2b2e6" />
<line x1="56.6" y1="572.3" x2="56.6" y2="574.6" stroke="#2a2a2a" stroke-width="0.75" />
<line x1="55.1" y1="572.3" x2="58.1" y2="572.3" stroke="#2a2a2a" stroke-width="0.75" />
<line x1="55.1" y1="574.6" x2="58.1" y2="574.6" stroke="#2a2a2a" stroke-width="0.75" />
<line x1="56.6" y1="527.3" x2="56.6" y2="531.7" stroke="#2a2a2a" stroke-width="0.75" />
<line x1="55.1" y1="527.3" x2="58.1" y2="527.3" stroke="#2a2a2a" stroke-width="0.75" />
<line x1="55.1" y1="531.7" x2="58.1" y2="531.7" stroke="#2a2a2a" stroke-width="0.75" />
<line x1="56.6" y1="538.9" x2="56.6" y2="549.3" stroke="#2a2a2a" stroke-width="0.75" />
<line x1="55.1" y1="538.9" x2="58.1" y2="538.9" stroke="#2a2a2a" stroke-width="0.75" />
<line x1="55.1" y1="549.3" x2="58.1" y2="549.3" stroke="#2a2a2a" stroke-width="0.75" />
<line x1="56.6" y1="515.3" x2="56.6" y2="520.4" stroke="#2a2a2a" stroke-width="0.75" />
<line x1="55.1" y1="515.3" x2="58.1" y2="515.3" stroke="#2a2a2a" stroke-width="0.75" />
<line x1="55.1" y1="520.4" x2="58.1" y2="520.4" stroke="#2a2a2a" stroke-width="0.75" />
<line x1="56.6" y1="480.3" x2="56.6" y2="487" stroke="#2a2a2a" stroke-width="0.75" />
<line x1="55.1" y1="480.3" x2="58.1" y2="480.3" stroke="#2a2a2a" stroke-width="0.75" />
<line x1="55.1" y1="487" x2="58.1" y2="487" stroke="#2a2a2a" stroke-width="0.75" />
<line x1="56.6" y1="471.8" x2="56.6" y2="477.4" stroke="#2a2a2a" stroke-width="0.75" />
<line x1="55.1" y1="471.8" x2="58.1" y2="471.8" stroke="#2a2a2a" stroke-width="0.75" />
<line x1="55.1" y1="477.4" x2="58.1" y2="477.4" stroke="#2a2a2a" stroke-width="0.75" />
<line x1="56.6" y1="466.8" x2="56.6" y2="469" stroke="#2a2a2a" stroke-width="0.75" />
<line x1="55.1" y1="466.8" x2="58.1" y2="466.8" stroke="#2a2a2a" stroke-width="0.75" />
<line x1="55.1" y1="469" x2="58.1" y2="469" stroke="#2a2a2a" stroke-width="0.75" />
<line x1="104.25" y1="570.2" x2="104.25" y2="577.4" stroke="#2a2a2a" stroke-width="0.75" />
<line x1="102.75" y1="570.2" x2="105.75" y2="570.2" stroke="#2a2a2a" stroke-width="0.75" />
<line x1="102.75" y1="577.4" x2="105.75" y2="577.4" stroke="#2a2a2a" stroke-width="0.75" />
<line x1="104.25" y1="541.3" x2="104.25" y2="548.5" stroke="#2a2a2a" stroke-width="0.75" />
<line x1="102.75" y1="541.3" x2="105.75" y2="541.3" stroke="#2a2a2a" stroke-width="0.75" />
<line x1="102.75" y1="548.5" x2="105.75" y2="548.5" stroke="#2a2a2a" stroke-width="0.75" />
<line x1="104.25" y1="534" x2="104.25" y2="539.7" stroke="#2a2a2a" stroke-width="0.75" />
<line x1="102.75" y1="534" x2="105.75" y2="534" stroke="#2a2a2a" stroke-width="0.75" />
<line x1="102.75" y1="539.7" x2="105.75" y2="539.7" stroke="#2a2a2a" stroke-width="0.75" />
<line x1="104.25" y1="522" x2="104.25" y2="527.3" stroke="#2a2a2a" stroke-width="0.75" />
<line x1="102.75" y1="522" x2="105.75" y2="522" stroke="#2a2a2a" stroke-width="0.75" />
<line x1="102.75" y1="527.3" x2="105.75" y2="527.3" stroke="#2a2a2a" stroke-width="0.75" />
<line x1="104.25" y1="489.7" x2="104.25" y2="493.4" stroke="#2a2a2a" stroke-width="0.75" />
<line x1="102.75" y1="489.7" x2="105.75" y2="489.7" stroke="#2a2a2a" stroke-width="0.75" />
<line x1="102.75" y1="493.4" x2="105.75" y2="493.4" stroke="#2a2a2a" stroke-width="0.75" />
<line x1="104.25" y1="473.4" x2="104.25" y2="476.9" stroke="#2a2a2a" stroke-width="0.75" />
<line x1="102.75" y1="473.4" x2="105.75" y2="473.4" stroke="#2a2a2a" stroke-width="0.75" />
<line x1="102.75" y1="476.9" x2="105.75" y2="476.9" stroke="#2a2a2a" stroke-width="0.75" />
<line x1="104.25" y1="466.8" x2="104.25" y2="470.1" stroke="#2a2a2a" stroke-width="0.75" />
<line x1="102.75" y1="466.8" x2="105.75" y2="466.8" stroke="#2a2a2a" stroke-width="0.75" />
<line x1="102.75" y1="470.1" x2="105.75" y2="470.1" stroke="#2a2a2a" stroke-width="0.75" />
<polyline points="56.6,544 104,524.5 151.6,483.3 199,475.8" fill="none" stroke="#7cc444" stroke-width="1" stroke-dasharray="3,2.4"/>
<rect x="54.95" y="542.35" width="3.3" height="3.3" fill="#5cb030" />
<rect x="102.35" y="522.85" width="3.3" height="3.3" fill="#5cb030" />
<rect x="149.95" y="481.65" width="3.3" height="3.3" fill="#5cb030" />
<rect x="197.35" y="474.15" width="3.3" height="3.3" fill="#5cb030" />
<rect x="32.6" y="442.4" width="190.6" height="153.8" fill="none" stroke="#3a3a3a" stroke-width="1.2"/>
<line x1="127.9" y1="442.4" x2="127.9" y2="596.2" stroke="#3a3a3a" stroke-width="1.2" />
<line x1="29.6" y1="595.5" x2="32.6" y2="595.5" stroke="#3a3a3a" stroke-width="1" />
<text x="27.3" y="598.5" font-size="8.2" text-anchor="end" fill="#231f20" font-weight="normal"  stroke="#231f20" stroke-width="0.12">0</text>
<line x1="31.1" y1="581.57" x2="32.6" y2="581.57" stroke="#3a3a3a" stroke-width="1" />
<line x1="29.6" y1="567.64" x2="32.6" y2="567.64" stroke="#3a3a3a" stroke-width="1" />
<text x="27.3" y="570.64" font-size="8.2" text-anchor="end" fill="#231f20" font-weight="normal"  stroke="#231f20" stroke-width="0.12">20</text>
<line x1="31.1" y1="553.71" x2="32.6" y2="553.71" stroke="#3a3a3a" stroke-width="1" />
<line x1="29.6" y1="539.78" x2="32.6" y2="539.78" stroke="#3a3a3a" stroke-width="1" />
<text x="27.3" y="542.78" font-size="8.2" text-anchor="end" fill="#231f20" font-weight="normal"  stroke="#231f20" stroke-width="0.12">40</text>
<line x1="31.1" y1="525.85" x2="32.6" y2="525.85" stroke="#3a3a3a" stroke-width="1" />
<line x1="29.6" y1="511.92" x2="32.6" y2="511.92" stroke="#3a3a3a" stroke-width="1" />
<text x="27.3" y="514.92" font-size="8.2" text-anchor="end" fill="#231f20" font-weight="normal"  stroke="#231f20" stroke-width="0.12">60</text>
<line x1="31.1" y1="497.99" x2="32.6" y2="497.99" stroke="#3a3a3a" stroke-width="1" />
<line x1="29.6" y1="484.06" x2="32.6" y2="484.06" stroke="#3a3a3a" stroke-width="1" />
<text x="27.3" y="487.06" font-size="8.2" text-anchor="end" fill="#231f20" font-weight="normal"  stroke="#231f20" stroke-width="0.12">80</text>
<line x1="31.1" y1="470.13" x2="32.6" y2="470.13" stroke="#3a3a3a" stroke-width="1" />
<line x1="29.6" y1="456.2" x2="32.6" y2="456.2" stroke="#3a3a3a" stroke-width="1" />
<text x="27.3" y="459.2" font-size="8.2" text-anchor="end" fill="#231f20" font-weight="normal"  stroke="#231f20" stroke-width="0.12">100</text>
<line x1="56.6" y1="596.2" x2="56.6" y2="599" stroke="#3a3a3a" stroke-width="1" />
<text x="56.6" y="607.7" font-size="8" text-anchor="middle" fill="#231f20" font-weight="normal"  stroke="#231f20" stroke-width="0.12">-100</text>
<line x1="104.25" y1="596.2" x2="104.25" y2="599" stroke="#3a3a3a" stroke-width="1" />
<text x="104.25" y="607.7" font-size="8" text-anchor="middle" fill="#231f20" font-weight="normal"  stroke="#231f20" stroke-width="0.12">-200</text>
<line x1="151.7" y1="596.2" x2="151.7" y2="599" stroke="#3a3a3a" stroke-width="1" />
<text x="151.7" y="607.7" font-size="8" text-anchor="middle" fill="#231f20" font-weight="normal"  stroke="#231f20" stroke-width="0.12">-100</text>
<line x1="199.35" y1="596.2" x2="199.35" y2="599" stroke="#3a3a3a" stroke-width="1" />
<text x="199.35" y="607.7" font-size="8" text-anchor="middle" fill="#231f20" font-weight="normal"  stroke="#231f20" stroke-width="0.12">-200</text>
<text x="127.9" y="621.5" font-size="8.1" text-anchor="middle" fill="#231f20" stroke="#231f20" stroke-width="0.12">Current density (mA cm<tspan dy="-3" font-size="5.2">-2</tspan><tspan dy="3">)</tspan></text>
<text transform="translate(12.3,519) rotate(-90)" font-size="8" text-anchor="middle" fill="#231f20" stroke="#231f20" stroke-width="0.12">FE (%)</text>
<text x="0.5" y="442.7" font-size="15" text-anchor="start" fill="#231f20" font-weight="normal"  stroke="#231f20" stroke-width="0.12">f</text>
<text x="127.5" y="438.5" font-size="7.8" text-anchor="middle" fill="#231f20" stroke="#231f20" stroke-width="0.12">CuO<tspan dy="2.6" font-size="5">x</tspan></text>
<text x="125.3" y="451.9" font-size="8" text-anchor="end" fill="#231f20" stroke="#231f20" stroke-width="0.12">CO<tspan dy="2" font-size="5">2</tspan><tspan dy="-2">RR</tspan></text>
<text x="220.9" y="451.9" font-size="8" text-anchor="end" fill="#231f20" font-weight="normal"  stroke="#231f20" stroke-width="0.12">CORR</text>
<line x1="132.2" y1="449.2" x2="136.2" y2="449.2" stroke="#7cc444" stroke-width="1" />
<line x1="144" y1="449.2" x2="147.5" y2="449.2" stroke="#7cc444" stroke-width="1" />
<rect x="139.95" y="447.55" width="3.3" height="3.3" fill="#5cb030" />
<text x="153.1" y="451.9" font-size="8" fill="#231f20" stroke="#231f20" stroke-width="0.12">FE<tspan dy="2.3" font-size="5">C2+</tspan></text>
<rect x="278.8" y="567.5" width="19.2" height="28.5" fill="#c8c8c8" />
<rect x="278.8" y="554.2" width="19.2" height="13.3" fill="#bc73f6" />
<rect x="278.8" y="551" width="19.2" height="3.2" fill="#dcb8f8" />
<rect x="278.8" y="539.4" width="19.2" height="11.6" fill="#8c9ff5" />
<rect x="278.8" y="493" width="19.2" height="46.4" fill="#e0c46c" />
<rect x="278.8" y="468.1" width="19.2" height="24.9" fill="#f4616b" />
<rect x="278.8" y="464" width="19.2" height="4.1" fill="#f0969c" />
<rect x="326.1" y="571" width="19.2" height="25" fill="#c8c8c8" />
<rect x="326.1" y="564.6" width="19.2" height="6.4" fill="#bc73f6" />
<rect x="326.1" y="559" width="19.2" height="5.6" fill="#dcb8f8" />
<rect x="326.1" y="553" width="19.2" height="6" fill="#8c9ff5" />
<rect x="326.1" y="500.7" width="19.2" height="52.3" fill="#e0c46c" />
<rect x="326.1" y="470.6" width="19.2" height="30.1" fill="#f4616b" />
<rect x="326.1" y="466.1" width="19.2" height="4.5" fill="#f0969c" />
<rect x="326.1" y="465" width="19.2" height="1.1" fill="#f2b2e6" />
<rect x="373.8" y="568.1" width="19.2" height="27.9" fill="#c8c8c8" />
<rect x="373.8" y="517" width="19.2" height="51.1" fill="#e0c46c" />
<rect x="373.8" y="488.6" width="19.2" height="28.4" fill="#f4616b" />
<rect x="373.8" y="470.6" width="19.2" height="18" fill="#f0969c" />
<rect x="373.8" y="469" width="19.2" height="1.6" fill="#f2b2e6" />
<rect x="421.5" y="558.2" width="19.2" height="37.8" fill="#c8c8c8" />
<rect x="421.5" y="555.8" width="19.2" height="2.4" fill="#dcb8f8" />
<rect x="421.5" y="516.2" width="19.2" height="39.6" fill="#e0c46c" />
<rect x="421.5" y="490.5" width="19.2" height="25.7" fill="#f4616b" />
<rect x="421.5" y="464.8" width="19.2" height="25.7" fill="#f0969c" />
<line x1="288.4" y1="463.4" x2="288.4" y2="470.5" stroke="#2a2a2a" stroke-width="0.75" />
<line x1="286.9" y1="463.4" x2="289.9" y2="463.4" stroke="#2a2a2a" stroke-width="0.75" />
<line x1="286.9" y1="470.5" x2="289.9" y2="470.5" stroke="#2a2a2a" stroke-width="0.75" />
<line x1="288.4" y1="490.2" x2="288.4" y2="495.5" stroke="#2a2a2a" stroke-width="0.75" />
<line x1="286.9" y1="490.2" x2="289.9" y2="490.2" stroke="#2a2a2a" stroke-width="0.75" />
<line x1="286.9" y1="495.5" x2="289.9" y2="495.5" stroke="#2a2a2a" stroke-width="0.75" />
<line x1="288.4" y1="536" x2="288.4" y2="542.9" stroke="#2a2a2a" stroke-width="0.75" />
<line x1="286.9" y1="536" x2="289.9" y2="536" stroke="#2a2a2a" stroke-width="0.75" />
<line x1="286.9" y1="542.9" x2="289.9" y2="542.9" stroke="#2a2a2a" stroke-width="0.75" />
<line x1="288.4" y1="550.1" x2="288.4" y2="556.6" stroke="#2a2a2a" stroke-width="0.75" />
<line x1="286.9" y1="550.1" x2="289.9" y2="550.1" stroke="#2a2a2a" stroke-width="0.75" />
<line x1="286.9" y1="556.6" x2="289.9" y2="556.6" stroke="#2a2a2a" stroke-width="0.75" />
<line x1="288.4" y1="563" x2="288.4" y2="572.6" stroke="#2a2a2a" stroke-width="0.75" />
<line x1="286.9" y1="563" x2="289.9" y2="563" stroke="#2a2a2a" stroke-width="0.75" />
<line x1="286.9" y1="572.6" x2="289.9" y2="572.6" stroke="#2a2a2a" stroke-width="0.75" />
<line x1="335.7" y1="464.2" x2="335.7" y2="467.7" stroke="#2a2a2a" stroke-width="0.75" />
<line x1="334.2" y1="464.2" x2="337.2" y2="464.2" stroke="#2a2a2a" stroke-width="0.75" />
<line x1="334.2" y1="467.7" x2="337.2" y2="467.7" stroke="#2a2a2a" stroke-width="0.75" />
<line x1="335.7" y1="469" x2="335.7" y2="472.1" stroke="#2a2a2a" stroke-width="0.75" />
<line x1="334.2" y1="469" x2="337.2" y2="469" stroke="#2a2a2a" stroke-width="0.75" />
<line x1="334.2" y1="472.1" x2="337.2" y2="472.1" stroke="#2a2a2a" stroke-width="0.75" />
<line x1="335.7" y1="494.2" x2="335.7" y2="510" stroke="#2a2a2a" stroke-width="0.75" />
<line x1="334.2" y1="494.2" x2="337.2" y2="494.2" stroke="#2a2a2a" stroke-width="0.75" />
<line x1="334.2" y1="510" x2="337.2" y2="510" stroke="#2a2a2a" stroke-width="0.75" />
<line x1="335.7" y1="508" x2="335.7" y2="516" stroke="#7cc444" stroke-width="0.75" />
<line x1="334.2" y1="508" x2="337.2" y2="508" stroke="#7cc444" stroke-width="0.75" />
<line x1="334.2" y1="516" x2="337.2" y2="516" stroke="#7cc444" stroke-width="0.75" />
<line x1="335.7" y1="552" x2="335.7" y2="555" stroke="#2a2a2a" stroke-width="0.75" />
<line x1="334.2" y1="552" x2="337.2" y2="552" stroke="#2a2a2a" stroke-width="0.75" />
<line x1="334.2" y1="555" x2="337.2" y2="555" stroke="#2a2a2a" stroke-width="0.75" />
<line x1="335.7" y1="557.9" x2="335.7" y2="560.1" stroke="#2a2a2a" stroke-width="0.75" />
<line x1="334.2" y1="557.9" x2="337.2" y2="557.9" stroke="#2a2a2a" stroke-width="0.75" />
<line x1="334.2" y1="560.1" x2="337.2" y2="560.1" stroke="#2a2a2a" stroke-width="0.75" />
<line x1="335.7" y1="563" x2="335.7" y2="566.2" stroke="#2a2a2a" stroke-width="0.75" />
<line x1="334.2" y1="563" x2="337.2" y2="563" stroke="#2a2a2a" stroke-width="0.75" />
<line x1="334.2" y1="566.2" x2="337.2" y2="566.2" stroke="#2a2a2a" stroke-width="0.75" />
<line x1="335.7" y1="570.2" x2="335.7" y2="578.2" stroke="#2a2a2a" stroke-width="0.75" />
<line x1="334.2" y1="570.2" x2="337.2" y2="570.2" stroke="#2a2a2a" stroke-width="0.75" />
<line x1="334.2" y1="578.2" x2="337.2" y2="578.2" stroke="#2a2a2a" stroke-width="0.75" />
<polyline points="287.9,520.7 335.3,508.2 383.2,497.4 430.8,505.5" fill="none" stroke="#7cc444" stroke-width="1" stroke-dasharray="3,2.4"/>
<rect x="286.25" y="519.05" width="3.3" height="3.3" fill="#5cb030" />
<rect x="333.65" y="506.55" width="3.3" height="3.3" fill="#5cb030" />
<rect x="381.55" y="495.75" width="3.3" height="3.3" fill="#5cb030" />
<rect x="429.15" y="503.85" width="3.3" height="3.3" fill="#5cb030" />
<rect x="264.4" y="442.4" width="190.8" height="153.8" fill="none" stroke="#3a3a3a" stroke-width="1.2"/>
<line x1="359.4" y1="442.4" x2="359.4" y2="596.2" stroke="#3a3a3a" stroke-width="1.2" />
<line x1="261.4" y1="595.5" x2="264.4" y2="595.5" stroke="#3a3a3a" stroke-width="1" />
<text x="259.1" y="598.5" font-size="8.2" text-anchor="end" fill="#231f20" font-weight="normal"  stroke="#231f20" stroke-width="0.12">0</text>
<line x1="262.9" y1="581.37" x2="264.4" y2="581.37" stroke="#3a3a3a" stroke-width="1" />
<line x1="261.4" y1="567.24" x2="264.4" y2="567.24" stroke="#3a3a3a" stroke-width="1" />
<text x="259.1" y="570.24" font-size="8.2" text-anchor="end" fill="#231f20" font-weight="normal"  stroke="#231f20" stroke-width="0.12">20</text>
<line x1="262.9" y1="553.11" x2="264.4" y2="553.11" stroke="#3a3a3a" stroke-width="1" />
<line x1="261.4" y1="538.98" x2="264.4" y2="538.98" stroke="#3a3a3a" stroke-width="1" />
<text x="259.1" y="541.98" font-size="8.2" text-anchor="end" fill="#231f20" font-weight="normal"  stroke="#231f20" stroke-width="0.12">40</text>
<line x1="262.9" y1="524.85" x2="264.4" y2="524.85" stroke="#3a3a3a" stroke-width="1" />
<line x1="261.4" y1="510.72" x2="264.4" y2="510.72" stroke="#3a3a3a" stroke-width="1" />
<text x="259.1" y="513.72" font-size="8.2" text-anchor="end" fill="#231f20" font-weight="normal"  stroke="#231f20" stroke-width="0.12">60</text>
<line x1="262.9" y1="496.59" x2="264.4" y2="496.59" stroke="#3a3a3a" stroke-width="1" />
<line x1="261.4" y1="482.46" x2="264.4" y2="482.46" stroke="#3a3a3a" stroke-width="1" />
<text x="259.1" y="485.46" font-size="8.2" text-anchor="end" fill="#231f20" font-weight="normal"  stroke="#231f20" stroke-width="0.12">80</text>
<line x1="262.9" y1="468.33" x2="264.4" y2="468.33" stroke="#3a3a3a" stroke-width="1" />
<line x1="261.4" y1="454.2" x2="264.4" y2="454.2" stroke="#3a3a3a" stroke-width="1" />
<text x="259.1" y="457.2" font-size="8.2" text-anchor="end" fill="#231f20" font-weight="normal"  stroke="#231f20" stroke-width="0.12">100</text>
<line x1="288.4" y1="596.2" x2="288.4" y2="599" stroke="#3a3a3a" stroke-width="1" />
<text x="288.4" y="607.7" font-size="8" text-anchor="middle" fill="#231f20" font-weight="normal"  stroke="#231f20" stroke-width="0.12">-100</text>
<line x1="335.7" y1="596.2" x2="335.7" y2="599" stroke="#3a3a3a" stroke-width="1" />
<text x="335.7" y="607.7" font-size="8" text-anchor="middle" fill="#231f20" font-weight="normal"  stroke="#231f20" stroke-width="0.12">-200</text>
<line x1="383.4" y1="596.2" x2="383.4" y2="599" stroke="#3a3a3a" stroke-width="1" />
<text x="383.4" y="607.7" font-size="8" text-anchor="middle" fill="#231f20" font-weight="normal"  stroke="#231f20" stroke-width="0.12">-100</text>
<line x1="431.1" y1="596.2" x2="431.1" y2="599" stroke="#3a3a3a" stroke-width="1" />
<text x="431.1" y="607.7" font-size="8" text-anchor="middle" fill="#231f20" font-weight="normal"  stroke="#231f20" stroke-width="0.12">-200</text>
<text x="359.8" y="621.5" font-size="8.1" text-anchor="middle" fill="#231f20" stroke="#231f20" stroke-width="0.12">Current density (mA cm<tspan dy="-3" font-size="5.2">-2</tspan><tspan dy="3">)</tspan></text>
<text transform="translate(244.1,519) rotate(-90)" font-size="8" text-anchor="middle" fill="#231f20" stroke="#231f20" stroke-width="0.12">FE (%)</text>
<text x="231.6" y="442.7" font-size="15" text-anchor="start" fill="#231f20" font-weight="normal"  stroke="#231f20" stroke-width="0.12">g</text>
<text x="357.7" y="438.5" font-size="7.8" text-anchor="middle" fill="#231f20" stroke="#231f20" stroke-width="0.12">1,8-Octanedithiol-CuO<tspan dy="2.6" font-size="5">x</tspan></text>
<text x="356.8" y="451.9" font-size="8" text-anchor="end" fill="#231f20" stroke="#231f20" stroke-width="0.12">CO<tspan dy="2" font-size="5">2</tspan><tspan dy="-2">RR</tspan></text>
<text x="452.9" y="451.9" font-size="8" text-anchor="end" fill="#231f20" font-weight="normal"  stroke="#231f20" stroke-width="0.12">CORR</text>
<line x1="363.7" y1="449.2" x2="367.7" y2="449.2" stroke="#7cc444" stroke-width="1" />
<line x1="375.5" y1="449.2" x2="379" y2="449.2" stroke="#7cc444" stroke-width="1" />
<rect x="371.45" y="447.55" width="3.3" height="3.3" fill="#5cb030" />
<text x="384.6" y="451.9" font-size="8" fill="#231f20" stroke="#231f20" stroke-width="0.12">FE<tspan dy="2.3" font-size="5">C2+</tspan></text>
<rect x="506.95" y="537" width="19.2" height="59" fill="#c8c8c8" />
<rect x="506.95" y="528" width="19.2" height="9" fill="#bc73f6" />
<rect x="506.95" y="467" width="19.2" height="61" fill="#8c9ff5" />
<rect x="506.95" y="465.8" width="19.2" height="1.2" fill="#e0c46c" />
<rect x="506.95" y="464" width="19.2" height="1.8" fill="#f4616b" />
<rect x="554.3" y="541.3" width="19.2" height="54.7" fill="#c8c8c8" />
<rect x="554.3" y="523.7" width="19.2" height="17.6" fill="#bc73f6" />
<rect x="554.3" y="496.2" width="19.2" height="27.5" fill="#8c9ff5" />
<rect x="554.3" y="483.3" width="19.2" height="12.9" fill="#e0c46c" />
<rect x="554.3" y="477.9" width="19.2" height="5.4" fill="#f4616b" />
<rect x="554.3" y="475.4" width="19.2" height="2.5" fill="#f2b2e6" />
<rect x="601.95" y="534.7" width="19.2" height="61.3" fill="#c8c8c8" />
<rect x="601.95" y="499.1" width="19.2" height="35.6" fill="#e0c46c" />
<rect x="601.95" y="481.1" width="19.2" height="18" fill="#f4616b" />
<rect x="601.95" y="468.9" width="19.2" height="12.2" fill="#f0969c" />
<rect x="601.95" y="460" width="19.2" height="8.9" fill="#f2b2e6" />
<rect x="649.75" y="551.7" width="19.2" height="44.3" fill="#c8c8c8" />
<rect x="649.75" y="508.2" width="19.2" height="43.5" fill="#e0c46c" />
<rect x="649.75" y="481.9" width="19.2" height="26.3" fill="#f4616b" />
<rect x="649.75" y="462.9" width="19.2" height="19" fill="#f0969c" />
<rect x="649.75" y="455.7" width="19.2" height="7.2" fill="#f2b2e6" />
<line x1="516.55" y1="457.3" x2="516.55" y2="475.4" stroke="#2a2a2a" stroke-width="0.75" />
<line x1="515.05" y1="457.3" x2="518.05" y2="457.3" stroke="#2a2a2a" stroke-width="0.75" />
<line x1="515.05" y1="475.4" x2="518.05" y2="475.4" stroke="#2a2a2a" stroke-width="0.75" />
<line x1="516.55" y1="526.9" x2="516.55" y2="528.5" stroke="#2a2a2a" stroke-width="0.75" />
<line x1="515.05" y1="526.9" x2="518.05" y2="526.9" stroke="#2a2a2a" stroke-width="0.75" />
<line x1="515.05" y1="528.5" x2="518.05" y2="528.5" stroke="#2a2a2a" stroke-width="0.75" />
<line x1="516.55" y1="534.9" x2="516.55" y2="538.6" stroke="#2a2a2a" stroke-width="0.75" />
<line x1="515.05" y1="534.9" x2="518.05" y2="534.9" stroke="#2a2a2a" stroke-width="0.75" />
<line x1="515.05" y1="538.6" x2="518.05" y2="538.6" stroke="#2a2a2a" stroke-width="0.75" />
<line x1="563.9" y1="475.4" x2="563.9" y2="477.4" stroke="#2a2a2a" stroke-width="0.75" />
<line x1="562.4" y1="475.4" x2="565.4" y2="475.4" stroke="#2a2a2a" stroke-width="0.75" />
<line x1="562.4" y1="477.4" x2="565.4" y2="477.4" stroke="#2a2a2a" stroke-width="0.75" />
<line x1="563.9" y1="479.8" x2="563.9" y2="489.4" stroke="#2a2a2a" stroke-width="0.75" />
<line x1="562.4" y1="479.8" x2="565.4" y2="479.8" stroke="#2a2a2a" stroke-width="0.75" />
<line x1="562.4" y1="489.4" x2="565.4" y2="489.4" stroke="#2a2a2a" stroke-width="0.75" />
<line x1="563.9" y1="495.5" x2="563.9" y2="497.4" stroke="#2a2a2a" stroke-width="0.75" />
<line x1="562.4" y1="495.5" x2="565.4" y2="495.5" stroke="#2a2a2a" stroke-width="0.75" />
<line x1="562.4" y1="497.4" x2="565.4" y2="497.4" stroke="#2a2a2a" stroke-width="0.75" />
<line x1="563.9" y1="523.1" x2="563.9" y2="524.7" stroke="#2a2a2a" stroke-width="0.75" />
<line x1="562.4" y1="523.1" x2="565.4" y2="523.1" stroke="#2a2a2a" stroke-width="0.75" />
<line x1="562.4" y1="524.7" x2="565.4" y2="524.7" stroke="#2a2a2a" stroke-width="0.75" />
<line x1="563.9" y1="532.5" x2="563.9" y2="550.1" stroke="#2a2a2a" stroke-width="0.75" />
<line x1="562.4" y1="532.5" x2="565.4" y2="532.5" stroke="#2a2a2a" stroke-width="0.75" />
<line x1="562.4" y1="550.1" x2="565.4" y2="550.1" stroke="#2a2a2a" stroke-width="0.75" />
<line x1="563.9" y1="566.2" x2="563.9" y2="586.3" stroke="#2a2a2a" stroke-width="0.75" />
<line x1="562.4" y1="566.2" x2="565.4" y2="566.2" stroke="#2a2a2a" stroke-width="0.75" />
<line x1="562.4" y1="586.3" x2="565.4" y2="586.3" stroke="#2a2a2a" stroke-width="0.75" />
<polyline points="516.1,593.8 563.5,576.2 611.5,519.6 658.8,497.8" fill="none" stroke="#7cc444" stroke-width="1" stroke-dasharray="3,2.4"/>
<rect x="514.45" y="592.15" width="3.3" height="3.3" fill="#5cb030" />
<rect x="561.85" y="574.55" width="3.3" height="3.3" fill="#5cb030" />
<rect x="609.85" y="517.95" width="3.3" height="3.3" fill="#5cb030" />
<rect x="657.15" y="496.15" width="3.3" height="3.3" fill="#5cb030" />
<rect x="492.5" y="442.4" width="189.3" height="153.8" fill="none" stroke="#3a3a3a" stroke-width="1.2"/>
<line x1="588.7" y1="442.4" x2="588.7" y2="596.2" stroke="#3a3a3a" stroke-width="1.2" />
<line x1="489.5" y1="595.5" x2="492.5" y2="595.5" stroke="#3a3a3a" stroke-width="1" />
<text x="487.2" y="598.5" font-size="8.2" text-anchor="end" fill="#231f20" font-weight="normal"  stroke="#231f20" stroke-width="0.12">0</text>
<line x1="491" y1="581.37" x2="492.5" y2="581.37" stroke="#3a3a3a" stroke-width="1" />
<line x1="489.5" y1="567.24" x2="492.5" y2="567.24" stroke="#3a3a3a" stroke-width="1" />
<text x="487.2" y="570.24" font-size="8.2" text-anchor="end" fill="#231f20" font-weight="normal"  stroke="#231f20" stroke-width="0.12">20</text>
<line x1="491" y1="553.11" x2="492.5" y2="553.11" stroke="#3a3a3a" stroke-width="1" />
<line x1="489.5" y1="538.98" x2="492.5" y2="538.98" stroke="#3a3a3a" stroke-width="1" />
<text x="487.2" y="541.98" font-size="8.2" text-anchor="end" fill="#231f20" font-weight="normal"  stroke="#231f20" stroke-width="0.12">40</text>
<line x1="491" y1="524.85" x2="492.5" y2="524.85" stroke="#3a3a3a" stroke-width="1" />
<line x1="489.5" y1="510.72" x2="492.5" y2="510.72" stroke="#3a3a3a" stroke-width="1" />
<text x="487.2" y="513.72" font-size="8.2" text-anchor="end" fill="#231f20" font-weight="normal"  stroke="#231f20" stroke-width="0.12">60</text>
<line x1="491" y1="496.59" x2="492.5" y2="496.59" stroke="#3a3a3a" stroke-width="1" />
<line x1="489.5" y1="482.46" x2="492.5" y2="482.46" stroke="#3a3a3a" stroke-width="1" />
<text x="487.2" y="485.46" font-size="8.2" text-anchor="end" fill="#231f20" font-weight="normal"  stroke="#231f20" stroke-width="0.12">80</text>
<line x1="491" y1="468.33" x2="492.5" y2="468.33" stroke="#3a3a3a" stroke-width="1" />
<line x1="489.5" y1="454.2" x2="492.5" y2="454.2" stroke="#3a3a3a" stroke-width="1" />
<text x="487.2" y="457.2" font-size="8.2" text-anchor="end" fill="#231f20" font-weight="normal"  stroke="#231f20" stroke-width="0.12">100</text>
<line x1="516.55" y1="596.2" x2="516.55" y2="599" stroke="#3a3a3a" stroke-width="1" />
<text x="516.55" y="607.7" font-size="8" text-anchor="middle" fill="#231f20" font-weight="normal"  stroke="#231f20" stroke-width="0.12">-100</text>
<line x1="563.9" y1="596.2" x2="563.9" y2="599" stroke="#3a3a3a" stroke-width="1" />
<text x="563.9" y="607.7" font-size="8" text-anchor="middle" fill="#231f20" font-weight="normal"  stroke="#231f20" stroke-width="0.12">-200</text>
<line x1="611.55" y1="596.2" x2="611.55" y2="599" stroke="#3a3a3a" stroke-width="1" />
<text x="611.55" y="607.7" font-size="8" text-anchor="middle" fill="#231f20" font-weight="normal"  stroke="#231f20" stroke-width="0.12">-100</text>
<line x1="659.35" y1="596.2" x2="659.35" y2="599" stroke="#3a3a3a" stroke-width="1" />
<text x="659.35" y="607.7" font-size="8" text-anchor="middle" fill="#231f20" font-weight="normal"  stroke="#231f20" stroke-width="0.12">-200</text>
<text x="587.15" y="621.5" font-size="8.1" text-anchor="middle" fill="#231f20" stroke="#231f20" stroke-width="0.12">Current density (mA cm<tspan dy="-3" font-size="5.2">-2</tspan><tspan dy="3">)</tspan></text>
<text transform="translate(472.2,519) rotate(-90)" font-size="8" text-anchor="middle" fill="#231f20" stroke="#231f20" stroke-width="0.12">FE (%)</text>
<text x="463.6" y="442.7" font-size="15" text-anchor="start" fill="#231f20" font-weight="normal"  stroke="#231f20" stroke-width="0.12">h</text>
<text x="589" y="438.5" font-size="7.8" text-anchor="middle" fill="#231f20" stroke="#231f20" stroke-width="0.12">2-Pyridinemethanethiol-CuO<tspan dy="2.6" font-size="5">x</tspan></text>
<text x="586.1" y="451.9" font-size="8" text-anchor="end" fill="#231f20" stroke="#231f20" stroke-width="0.12">CO<tspan dy="2" font-size="5">2</tspan><tspan dy="-2">RR</tspan></text>
<text x="679.5" y="451.9" font-size="8" text-anchor="end" fill="#231f20" font-weight="normal"  stroke="#231f20" stroke-width="0.12">CORR</text>
<line x1="593" y1="449.2" x2="597" y2="449.2" stroke="#7cc444" stroke-width="1" />
<line x1="604.8" y1="449.2" x2="608.3" y2="449.2" stroke="#7cc444" stroke-width="1" />
<rect x="600.75" y="447.55" width="3.3" height="3.3" fill="#5cb030" />
<text x="613.9" y="451.9" font-size="8" fill="#231f20" stroke="#231f20" stroke-width="0.12">FE<tspan dy="2.3" font-size="5">C2+</tspan></text>
</svg></body></html>
